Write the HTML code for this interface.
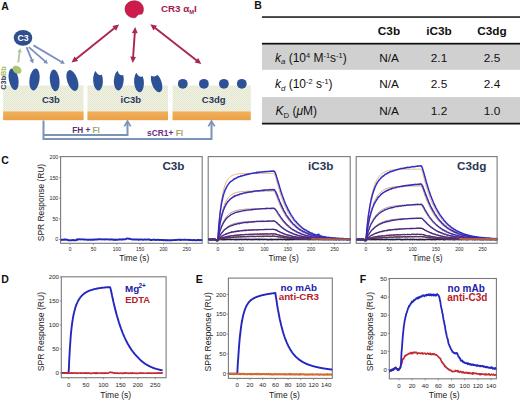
<!DOCTYPE html>
<html><head><meta charset="utf-8"><style>
html,body{margin:0;padding:0;background:#fff;}
svg{display:block;font-family:'Liberation Sans', sans-serif;}
</style></head><body>
<svg width="520" height="401" viewBox="0 0 520 401">
<rect width="520" height="401" fill="#fff"/>
<defs><pattern id="dots" width="2" height="2" patternUnits="userSpaceOnUse"><rect width="2" height="2" fill="#f5f3e3"/><rect width="1" height="1" fill="#e0e5cf"/><rect x="1" y="1" width="1" height="1" fill="#e0e5cf"/></pattern><linearGradient id="org" x1="0" y1="0" x2="0" y2="1"><stop offset="0" stop-color="#f3b05a"/><stop offset="1" stop-color="#eaa24a"/></linearGradient></defs>
<text x="1.2" y="9.8" font-size="10.5" fill="#111" font-weight="bold" text-anchor="start" >A</text>
<rect x="3.1" y="85.5" width="80.5" height="26" fill="url(#dots)"/>
<rect x="3.1" y="111.4" width="80.5" height="8.8" fill="url(#org)"/>
<rect x="87.4" y="85.5" width="80.6" height="26" fill="url(#dots)"/>
<rect x="87.4" y="111.4" width="80.6" height="8.8" fill="url(#org)"/>
<rect x="172.5" y="85.5" width="78.3" height="26" fill="url(#dots)"/>
<rect x="172.5" y="111.4" width="78.3" height="8.8" fill="url(#org)"/>
<ellipse cx="13.6" cy="79.2" rx="4.8" ry="10.9" transform="rotate(-10 13.6 79.2)" fill="#2d5196"/>
<ellipse cx="34.5" cy="79.5" rx="5.0" ry="11.0" transform="rotate(8 34.5 79.5)" fill="#2d5196"/>
<ellipse cx="54.7" cy="80.4" rx="4.8" ry="10.9" transform="rotate(-6 54.7 80.4)" fill="#2d5196"/>
<ellipse cx="72.4" cy="80.5" rx="5.2" ry="10.9" transform="rotate(-19 72.4 80.5)" fill="#2d5196"/>
<ellipse cx="17.0" cy="69.7" rx="4.9" ry="3.6" transform="rotate(35 17 69.7)" fill="#a9c66e"/>
<path d="M-2.00,-9.31 A4.9,10.2 0 1 0 4.12,-5.51 Q0.6,-3.6 -2.00,-9.31Z" transform="translate(98.0 80.3) rotate(-3)" fill="#2d5196"/>
<path d="M-2.00,-9.31 A4.9,10.2 0 1 0 4.12,-5.51 Q0.6,-3.6 -2.00,-9.31Z" transform="translate(118.8 80.2) rotate(4)" fill="#2d5196"/>
<path d="M-2.00,-9.31 A4.9,10.2 0 1 0 4.12,-5.51 Q0.6,-3.6 -2.00,-9.31Z" transform="translate(139.0 82.0) rotate(-4)" fill="#2d5196"/>
<path d="M-2.77,-8.42 A4.9,10.2 0 1 0 3.52,-7.11 Q0.2,-5.2 -2.77,-8.42Z" transform="translate(156.6 82.6) rotate(-20)" fill="#2d5196"/>
<circle cx="182.8" cy="83.8" r="4.9" fill="#2d5196"/>
<circle cx="203.9" cy="83.8" r="4.9" fill="#2d5196"/>
<circle cx="223.9" cy="83.8" r="4.9" fill="#2d5196"/>
<circle cx="241.8" cy="83.8" r="4.9" fill="#2d5196"/>
<text x="50.9" y="102.5" font-size="9.5" fill="#28385c" font-weight="bold" text-anchor="middle" >C3b</text>
<text x="130.8" y="102.5" font-size="9.5" fill="#28385c" font-weight="bold" text-anchor="middle" >iC3b</text>
<text x="213.7" y="102.5" font-size="9.5" fill="#28385c" font-weight="bold" text-anchor="middle" >C3dg</text>
<text transform="translate(6.4 89.7) rotate(-90)" font-size="7.3" font-weight="bold"><tspan fill="#28385c">C3b</tspan><tspan fill="#a9b860">Bb</tspan></text>
<ellipse cx="23" cy="37.8" rx="9.3" ry="7.9" fill="#2e4e8e"/>
<text x="23.1" y="41.2" font-size="8.7" fill="#fff" font-weight="bold" text-anchor="middle" >C3</text>
<line x1="18.30" y1="62.50" x2="19.70" y2="51.47" stroke="#b3c39c" stroke-width="1.8"/><polygon points="20.10,48.30 21.88,52.56 17.32,51.98" fill="#b3c39c"/>
<line x1="26.50" y1="47.10" x2="31.98" y2="60.44" stroke="#7d8ec2" stroke-width="1.8"/><polygon points="33.20,63.40 29.55,60.57 33.81,58.83" fill="#7d8ec2"/>
<line x1="28.80" y1="47.10" x2="45.49" y2="61.69" stroke="#7d8ec2" stroke-width="1.8"/><polygon points="47.90,63.80 43.37,62.90 46.40,59.44" fill="#7d8ec2"/>
<line x1="33.50" y1="45.40" x2="62.04" y2="62.18" stroke="#7d8ec2" stroke-width="1.8"/><polygon points="64.80,63.80 60.19,63.76 62.52,59.79" fill="#7d8ec2"/>
<path d="M135.7,17.6 C130,18.6 125,14.5 125.0,9.0 C125,4 129.5,0.7 134.5,0.8 C140,0.9 143.6,5 143.4,9.6 C143.3,11.8 142.6,13.4 141.7,14.3 C139.8,13.6 137.0,14.8 135.7,17.6Z" fill="#cc1b4c" stroke="#9a1238" stroke-width="0.6"/>
<text x="161" y="11.7" font-size="9.75" font-weight="bold" fill="#a1204c">CR3 α<tspan font-size="5.8" dy="2">M</tspan><tspan dy="-2">I</tspan></text>
<line x1="115.23" y1="27.60" x2="75.37" y2="59.50" stroke="#ad2452" stroke-width="1.9"/><polygon points="71.50,62.60 74.53,56.46 78.15,60.99" fill="#ad2452"/><polygon points="119.10,24.50 116.07,30.64 112.45,26.11" fill="#ad2452"/>
<line x1="134.86" y1="31.85" x2="133.04" y2="57.95" stroke="#ad2452" stroke-width="1.9"/><polygon points="132.70,62.90 130.24,56.51 136.02,56.92" fill="#ad2452"/><polygon points="135.20,26.90 137.66,33.29 131.88,32.88" fill="#ad2452"/>
<line x1="154.21" y1="27.35" x2="197.39" y2="60.95" stroke="#ad2452" stroke-width="1.9"/><polygon points="201.30,64.00 194.63,62.48 198.19,57.90" fill="#ad2452"/><polygon points="150.30,24.30 156.97,25.82 153.41,30.40" fill="#ad2452"/>
<polyline points="43.5,120.4 43.5,138.9 211.5,138.9 211.5,122" fill="none" stroke="#7b93b9" stroke-width="2"/>
<polyline points="43.5,134.9 127.5,134.9 127.5,122" fill="none" stroke="#7b93b9" stroke-width="2"/>
<polyline points="124.3,126.4 127.5,121.2 130.7,126.4" fill="none" stroke="#7b93b9" stroke-width="1.8"/>
<polyline points="208.3,126.4 211.5,121.2 214.7,126.4" fill="none" stroke="#7b93b9" stroke-width="1.8"/>
<text x="72.2" y="132.6" font-size="8.2" font-weight="bold"><tspan fill="#5e2b72">FH</tspan><tspan fill="#3d3479"> + </tspan><tspan fill="#a3a76b">FI</tspan></text>
<text x="147.0" y="136.4" font-size="8.4" font-weight="bold"><tspan fill="#6b2e80">sCR1+ </tspan><tspan fill="#a3a76b">FI</tspan></text>
<text x="254.2" y="9.2" font-size="10.5" fill="#111" font-weight="bold" text-anchor="start" >B</text>
<rect x="262" y="44.6" width="258" height="25.2" fill="#d0d0d0"/>
<rect x="262" y="97.1" width="258" height="25.6" fill="#d0d0d0"/>
<rect x="262" y="16.3" width="258" height="1.5" fill="#111"/>
<rect x="262" y="42.8" width="258" height="1.8" fill="#111"/>
<rect x="262" y="122.7" width="258" height="1.8" fill="#111"/>
<text x="389" y="35.4" font-size="11.8" fill="#111" font-weight="bold" text-anchor="middle" >C3b</text>
<text x="439" y="35.4" font-size="11.8" fill="#111" font-weight="bold" text-anchor="middle" >iC3b</text>
<text x="492" y="35.4" font-size="11.8" fill="#111" font-weight="bold" text-anchor="middle" >C3dg</text>
<text x="389" y="61.8" font-size="11.8" fill="#111" font-weight="normal" text-anchor="middle" >N/A</text>
<text x="439" y="61.8" font-size="11.8" fill="#111" font-weight="normal" text-anchor="middle" >2.1</text>
<text x="492" y="61.8" font-size="11.8" fill="#111" font-weight="normal" text-anchor="middle" >2.5</text>
<text x="389" y="88.3" font-size="11.8" fill="#111" font-weight="normal" text-anchor="middle" >N/A</text>
<text x="439" y="88.3" font-size="11.8" fill="#111" font-weight="normal" text-anchor="middle" >2.5</text>
<text x="492" y="88.3" font-size="11.8" fill="#111" font-weight="normal" text-anchor="middle" >2.4</text>
<text x="389" y="115" font-size="11.8" fill="#111" font-weight="normal" text-anchor="middle" >N/A</text>
<text x="439" y="115" font-size="11.8" fill="#111" font-weight="normal" text-anchor="middle" >1.2</text>
<text x="492" y="115" font-size="11.8" fill="#111" font-weight="normal" text-anchor="middle" >1.0</text>
<text x="275" y="61.8" font-size="12" fill="#111"><tspan font-style="italic">k</tspan><tspan font-style="italic" font-size="7.8" dy="2.6">a</tspan><tspan dy="-2.6"> (10</tspan><tspan font-size="7.4" dy="-4.2">4</tspan><tspan dy="4.2"> M</tspan><tspan font-size="7.4" dy="-4.2">-1</tspan><tspan dy="4.2">s</tspan><tspan font-size="7.4" dy="-4.2">-1</tspan><tspan dy="4.2">)</tspan></text>
<text x="275" y="88.3" font-size="12" fill="#111"><tspan font-style="italic">k</tspan><tspan font-style="italic" font-size="7.8" dy="2.6">d</tspan><tspan dy="-2.6"> (10</tspan><tspan font-size="7.4" dy="-4.2">-2</tspan><tspan dy="4.2"> s</tspan><tspan font-size="7.4" dy="-4.2">-1</tspan><tspan dy="4.2">)</tspan></text>
<text x="275.4" y="115" font-size="12" fill="#111"><tspan font-style="italic">K</tspan><tspan font-size="7.8" dy="2.6">D</tspan><tspan dy="-2.6"> (</tspan><tspan font-style="italic">μ</tspan><tspan>M)</tspan></text>
<text x="1.2" y="164.2" font-size="10.5" fill="#111" font-weight="bold" text-anchor="start" >C</text>
<clipPath id="c0"><rect x="60.6" y="156.6" width="141.6" height="86.70000000000002"/></clipPath>
<clipPath id="c1"><rect x="208.2" y="156.6" width="142.0" height="86.70000000000002"/></clipPath>
<clipPath id="c2"><rect x="356.2" y="156.6" width="140.90000000000003" height="86.70000000000002"/></clipPath>
<rect x="60.6" y="156.6" width="141.60" height="86.70" fill="none" stroke="#7a7a7a" stroke-width="1.1"/>
<line x1="70.10" y1="243.3" x2="70.10" y2="244.8" stroke="#7a7a7a" stroke-width="0.8"/>
<text x="70.10" y="250.90" font-size="4.9" fill="#1e1e1e" font-weight="normal" text-anchor="middle" >0</text>
<line x1="93.45" y1="243.3" x2="93.45" y2="244.8" stroke="#7a7a7a" stroke-width="0.8"/>
<text x="93.45" y="250.90" font-size="4.9" fill="#1e1e1e" font-weight="normal" text-anchor="middle" >50</text>
<line x1="116.80" y1="243.3" x2="116.80" y2="244.8" stroke="#7a7a7a" stroke-width="0.8"/>
<text x="116.80" y="250.90" font-size="4.9" fill="#1e1e1e" font-weight="normal" text-anchor="middle" >100</text>
<line x1="140.15" y1="243.3" x2="140.15" y2="244.8" stroke="#7a7a7a" stroke-width="0.8"/>
<text x="140.15" y="250.90" font-size="4.9" fill="#1e1e1e" font-weight="normal" text-anchor="middle" >150</text>
<line x1="163.50" y1="243.3" x2="163.50" y2="244.8" stroke="#7a7a7a" stroke-width="0.8"/>
<text x="163.50" y="250.90" font-size="4.9" fill="#1e1e1e" font-weight="normal" text-anchor="middle" >200</text>
<line x1="186.85" y1="243.3" x2="186.85" y2="244.8" stroke="#7a7a7a" stroke-width="0.8"/>
<text x="186.85" y="250.90" font-size="4.9" fill="#1e1e1e" font-weight="normal" text-anchor="middle" >250</text>
<line x1="59.1" y1="239.50" x2="60.6" y2="239.50" stroke="#7a7a7a" stroke-width="0.8"/>
<text x="58.30" y="241.41" font-size="5.3" fill="#1e1e1e" font-weight="normal" text-anchor="end" >0</text>
<line x1="59.1" y1="218.88" x2="60.6" y2="218.88" stroke="#7a7a7a" stroke-width="0.8"/>
<text x="58.30" y="220.78" font-size="5.3" fill="#1e1e1e" font-weight="normal" text-anchor="end" >50</text>
<line x1="59.1" y1="198.25" x2="60.6" y2="198.25" stroke="#7a7a7a" stroke-width="0.8"/>
<text x="58.30" y="200.16" font-size="5.3" fill="#1e1e1e" font-weight="normal" text-anchor="end" >100</text>
<line x1="59.1" y1="177.62" x2="60.6" y2="177.62" stroke="#7a7a7a" stroke-width="0.8"/>
<text x="58.30" y="179.53" font-size="5.3" fill="#1e1e1e" font-weight="normal" text-anchor="end" >150</text>
<line x1="59.1" y1="157.00" x2="60.6" y2="157.00" stroke="#7a7a7a" stroke-width="0.8"/>
<text x="58.30" y="158.91" font-size="5.3" fill="#1e1e1e" font-weight="normal" text-anchor="end" >200</text>
<text x="134.2" y="261.3" font-size="8.3" fill="#222" font-weight="normal" text-anchor="middle" >Time (s)</text>
<rect x="208.2" y="156.6" width="142.00" height="86.70" fill="none" stroke="#7a7a7a" stroke-width="1.1"/>
<line x1="217.80" y1="243.3" x2="217.80" y2="244.8" stroke="#7a7a7a" stroke-width="0.8"/>
<text x="217.80" y="250.90" font-size="4.9" fill="#1e1e1e" font-weight="normal" text-anchor="middle" >0</text>
<line x1="241.15" y1="243.3" x2="241.15" y2="244.8" stroke="#7a7a7a" stroke-width="0.8"/>
<text x="241.15" y="250.90" font-size="4.9" fill="#1e1e1e" font-weight="normal" text-anchor="middle" >50</text>
<line x1="264.50" y1="243.3" x2="264.50" y2="244.8" stroke="#7a7a7a" stroke-width="0.8"/>
<text x="264.50" y="250.90" font-size="4.9" fill="#1e1e1e" font-weight="normal" text-anchor="middle" >100</text>
<line x1="287.85" y1="243.3" x2="287.85" y2="244.8" stroke="#7a7a7a" stroke-width="0.8"/>
<text x="287.85" y="250.90" font-size="4.9" fill="#1e1e1e" font-weight="normal" text-anchor="middle" >150</text>
<line x1="311.20" y1="243.3" x2="311.20" y2="244.8" stroke="#7a7a7a" stroke-width="0.8"/>
<text x="311.20" y="250.90" font-size="4.9" fill="#1e1e1e" font-weight="normal" text-anchor="middle" >200</text>
<line x1="334.55" y1="243.3" x2="334.55" y2="244.8" stroke="#7a7a7a" stroke-width="0.8"/>
<text x="334.55" y="250.90" font-size="4.9" fill="#1e1e1e" font-weight="normal" text-anchor="middle" >250</text>
<text x="283.6" y="261.3" font-size="8.3" fill="#222" font-weight="normal" text-anchor="middle" >Time (s)</text>
<rect x="356.2" y="156.6" width="140.90" height="86.70" fill="none" stroke="#7a7a7a" stroke-width="1.1"/>
<line x1="365.90" y1="243.3" x2="365.90" y2="244.8" stroke="#7a7a7a" stroke-width="0.8"/>
<text x="365.90" y="250.90" font-size="4.9" fill="#1e1e1e" font-weight="normal" text-anchor="middle" >0</text>
<line x1="389.25" y1="243.3" x2="389.25" y2="244.8" stroke="#7a7a7a" stroke-width="0.8"/>
<text x="389.25" y="250.90" font-size="4.9" fill="#1e1e1e" font-weight="normal" text-anchor="middle" >50</text>
<line x1="412.60" y1="243.3" x2="412.60" y2="244.8" stroke="#7a7a7a" stroke-width="0.8"/>
<text x="412.60" y="250.90" font-size="4.9" fill="#1e1e1e" font-weight="normal" text-anchor="middle" >100</text>
<line x1="435.95" y1="243.3" x2="435.95" y2="244.8" stroke="#7a7a7a" stroke-width="0.8"/>
<text x="435.95" y="250.90" font-size="4.9" fill="#1e1e1e" font-weight="normal" text-anchor="middle" >150</text>
<line x1="459.30" y1="243.3" x2="459.30" y2="244.8" stroke="#7a7a7a" stroke-width="0.8"/>
<text x="459.30" y="250.90" font-size="4.9" fill="#1e1e1e" font-weight="normal" text-anchor="middle" >200</text>
<line x1="482.65" y1="243.3" x2="482.65" y2="244.8" stroke="#7a7a7a" stroke-width="0.8"/>
<text x="482.65" y="250.90" font-size="4.9" fill="#1e1e1e" font-weight="normal" text-anchor="middle" >250</text>
<text x="427.5" y="261.3" font-size="8.3" fill="#222" font-weight="normal" text-anchor="middle" >Time (s)</text>
<text transform="translate(43.9 202.5) rotate(-90)" font-size="8.4" fill="#222" text-anchor="middle">SPR Response (RU)</text>
<text x="184.5" y="170.3" font-size="11.7" fill="#2a3656" font-weight="bold" text-anchor="end" >C3b</text>
<text x="333.3" y="170.3" font-size="11.7" fill="#2a3656" font-weight="bold" text-anchor="end" >iC3b</text>
<text x="486.3" y="170.3" font-size="11.7" fill="#2a3656" font-weight="bold" text-anchor="end" >C3dg</text>
<path d="M60.8,239.4 L61.2,239.9 L61.7,239.6 L62.2,239.7 L62.6,239.7 L63.1,239.7 L63.6,239.9 L64.0,239.7 L64.5,239.7 L65.0,239.3 L65.4,239.6 L65.9,239.7 L66.4,239.7 L66.8,239.7 L67.3,239.7 L67.8,239.6 L68.2,240.3 L68.7,240.4 L69.2,240.3 L69.6,240.4 L70.1,240.3 L70.6,240.1 L71.0,240.2 L71.5,240.3 L72.0,240.3 L72.4,240.2 L72.9,240.0 L73.4,240.2 L73.8,240.2 L74.3,240.1 L74.8,240.3 L75.2,240.2 L75.7,240.1 L76.2,240.1 L76.6,240.2 L77.1,239.3 L77.6,239.6 L78.0,239.2 L78.5,239.4 L79.0,239.5 L79.4,239.3 L79.9,239.3 L80.4,239.4 L80.8,239.5 L81.3,239.4 L81.8,239.4 L82.2,239.3 L82.7,239.4 L83.2,239.5 L83.6,239.4 L84.1,239.6 L84.6,239.6 L85.0,239.5 L85.5,239.5 L86.0,239.6 L86.4,239.7 L86.9,239.6 L87.4,239.9 L87.8,239.6 L88.3,239.6 L88.8,239.8 L89.2,239.7 L89.7,239.8 L90.2,239.6 L90.6,239.9 L91.1,239.8 L91.6,239.6 L92.0,239.5 L92.5,239.9 L93.0,239.7 L93.4,239.6 L93.9,239.7 L94.4,239.4 L94.9,239.7 L95.3,239.5 L95.8,239.6 L96.3,239.4 L96.7,239.5 L97.2,239.5 L97.7,239.6 L98.1,239.3 L98.6,239.3 L99.1,239.3 L99.5,239.3 L100.0,239.3 L100.5,239.4 L100.9,239.4 L101.4,239.4 L101.9,239.2 L102.3,239.5 L102.8,239.4 L103.3,239.4 L103.7,239.3 L104.2,239.3 L104.7,239.5 L105.1,239.5 L105.6,239.4 L106.1,239.2 L106.5,239.3 L107.0,239.4 L107.5,239.4 L107.9,239.4 L108.4,239.5 L108.9,239.4 L109.3,239.6 L109.8,239.5 L110.3,239.5 L110.7,239.5 L111.2,239.5 L111.7,239.3 L112.1,239.4 L112.6,239.5 L113.1,239.8 L113.5,239.7 L114.0,239.7 L114.5,239.6 L114.9,239.9 L115.4,239.5 L115.9,239.6 L116.3,239.8 L116.8,239.8 L117.3,239.7 L117.7,239.7 L118.2,239.6 L118.7,239.4 L119.1,239.6 L119.6,239.5 L120.1,239.6 L120.5,239.4 L121.0,239.5 L121.5,239.4 L121.9,239.6 L122.4,239.5 L122.9,239.6 L123.3,239.3 L123.8,239.4 L124.3,239.4 L124.7,239.4 L125.2,239.2 L125.7,239.2 L126.1,239.0 L126.6,238.7 L127.1,238.4 L127.5,238.6 L128.0,238.6 L128.5,238.7 L128.9,238.8 L129.4,238.7 L129.9,238.8 L130.3,239.0 L130.8,239.1 L131.3,239.2 L131.7,239.3 L132.2,239.5 L132.7,239.4 L133.1,239.4 L133.6,239.5 L134.1,239.5 L134.5,239.5 L135.0,239.5 L135.5,239.4 L135.9,239.5 L136.4,239.5 L136.9,239.4 L137.3,239.5 L137.8,239.4 L138.3,239.8 L138.7,239.5 L139.2,239.7 L139.7,239.6 L140.1,239.5 L140.6,239.5 L141.1,239.5 L141.6,239.6 L142.0,239.5 L142.5,239.7 L143.0,239.7 L143.4,239.6 L143.9,239.7 L144.4,239.4 L144.8,239.5 L145.3,239.4 L145.8,239.6 L146.2,239.7 L146.7,239.6 L147.2,239.5 L147.6,239.6 L148.1,239.5 L148.6,239.5 L149.0,239.3 L149.5,239.6 L150.0,239.9 L150.4,240.0 L150.9,240.0 L151.4,240.0 L151.8,240.0 L152.3,239.9 L152.8,239.8 L153.2,239.8 L153.7,239.8 L154.2,239.7 L154.6,239.8 L155.1,239.8 L155.6,239.9 L156.0,240.0 L156.5,239.8 L157.0,240.0 L157.4,239.8 L157.9,239.8 L158.4,239.7 L158.8,239.9 L159.3,240.0 L159.8,239.9 L160.2,240.0 L160.7,239.9 L161.2,239.9 L161.6,240.0 L162.1,240.0 L162.6,240.1 L163.0,240.0 L163.5,240.3 L164.0,240.1 L164.4,240.2 L164.9,240.0 L165.4,240.0 L165.8,240.3 L166.3,240.1 L166.8,240.1 L167.2,240.3 L167.7,240.1 L168.2,240.2 L168.6,240.3 L169.1,240.2 L169.6,240.2 L170.0,240.1 L170.5,240.3 L171.0,240.1 L171.4,240.1 L171.9,240.2 L172.4,240.2 L172.8,240.1 L173.3,240.1 L173.8,239.9 L174.2,240.0 L174.7,240.1 L175.2,240.1 L175.6,240.0 L176.1,239.7 L176.6,240.0 L177.0,239.9 L177.5,239.9 L178.0,239.9 L178.4,239.7 L178.9,239.9 L179.4,239.8 L179.8,239.8 L180.3,239.8 L180.8,240.0 L181.2,239.7 L181.7,239.8 L182.2,239.8 L182.6,239.9 L183.1,239.9 L183.6,239.8 L184.0,239.7 L184.5,239.8 L185.0,239.7 L185.4,239.8 L185.9,239.9 L186.4,239.8 L186.8,239.9 L187.3,239.9 L187.8,239.9 L188.3,239.8 L188.7,240.0 L189.2,240.0 L189.7,239.9 L190.1,239.8 L190.6,240.1 L191.1,240.1 L191.5,240.1 L192.0,240.0 L192.5,240.3 L192.9,240.1 L193.4,240.0 L193.9,240.2 L194.3,240.0 L194.8,240.1 L195.3,240.2 L195.7,240.1 L196.2,240.3 L196.7,240.2 L197.1,240.0 L197.6,240.2 L198.1,239.9 L198.5,240.1 L199.0,240.0 L199.5,240.1 L199.9,240.3 L200.4,240.1 L200.9,240.0 L201.3,240.1 L201.8,240.1 L202.3,240.0 L202.7,240.0 L203.2,240.1" fill="none" stroke="#1f27b8" stroke-width="1.9" stroke-linejoin="round" opacity="1" clip-path="url(#c0)"/>
<path d="M208.5,239.6 L208.9,239.4 L209.4,239.5 L209.9,239.4 L210.3,239.3 L210.8,239.5 L211.3,239.6 L211.7,239.6 L212.2,239.5 L212.7,239.4 L213.1,239.5 L213.6,239.4 L214.1,239.5 L214.5,239.5 L215.0,239.5 L215.5,239.5 L215.9,239.6 L216.4,240.5 L216.9,240.4 L217.3,240.4 L217.8,240.4 L218.3,240.3 L218.7,239.5 L219.2,239.2 L219.7,239.4 L220.1,239.6 L220.6,239.4 L221.1,239.5 L221.5,239.6 L222.0,239.4 L222.5,239.6 L222.9,239.8 L223.4,239.4 L223.9,239.6 L224.3,239.3 L224.8,239.6 L225.3,239.6 L225.7,239.3 L226.2,239.6 L226.7,239.5 L227.1,239.4 L227.6,239.5 L228.1,239.5 L228.5,239.5 L229.0,239.4 L229.5,239.6 L229.9,239.4 L230.4,239.4 L230.9,239.3 L231.3,239.5 L231.8,239.6 L232.3,239.4 L232.7,239.5 L233.2,239.5 L233.7,239.5 L234.1,239.4 L234.6,239.6 L235.1,239.5 L235.5,239.8 L236.0,239.6 L236.5,239.3 L236.9,239.6 L237.4,239.6 L237.9,239.6 L238.3,239.4 L238.8,239.5 L239.3,239.6 L239.7,239.4 L240.2,239.5 L240.7,239.4 L241.2,239.6 L241.6,239.3 L242.1,239.5 L242.6,239.5 L243.0,239.6 L243.5,239.5 L244.0,239.4 L244.4,239.5 L244.9,239.4 L245.4,239.4 L245.8,239.4 L246.3,239.4 L246.8,239.5 L247.2,239.7 L247.7,239.5 L248.2,239.4 L248.6,239.5 L249.1,239.4 L249.6,239.5 L250.0,239.5 L250.5,239.6 L251.0,239.4 L251.4,239.5 L251.9,239.6 L252.4,239.6 L252.8,239.5 L253.3,239.4 L253.8,239.5 L254.2,239.6 L254.7,239.4 L255.2,239.4 L255.6,239.4 L256.1,239.4 L256.6,239.4 L257.0,239.4 L257.5,239.4 L258.0,239.6 L258.4,239.3 L258.9,239.5 L259.4,239.3 L259.8,239.7 L260.3,239.4 L260.8,239.4 L261.2,239.5 L261.7,239.5 L262.2,239.4 L262.6,239.4 L263.1,239.6 L263.6,239.5 L264.0,239.4 L264.5,239.4 L265.0,239.5 L265.4,239.5 L265.9,239.5 L266.4,239.4 L266.8,239.6 L267.3,239.6 L267.8,239.5 L268.2,239.6 L268.7,239.6 L269.2,239.5 L269.6,239.5 L270.1,239.6 L270.6,239.4 L271.0,239.7 L271.5,239.4 L272.0,239.7 L272.4,239.6 L272.9,239.4 L273.4,239.5 L273.8,239.6 L274.3,239.5 L274.8,239.5 L275.2,239.5 L275.7,239.5 L276.2,239.4 L276.6,239.6 L277.1,239.5 L277.6,239.6 L278.0,239.4 L278.5,239.4 L279.0,239.4 L279.4,239.5 L279.9,239.5 L280.4,239.4 L280.8,239.5 L281.3,239.4 L281.8,239.4 L282.2,239.6 L282.7,239.5 L283.2,239.5 L283.6,239.3 L284.1,239.2 L284.6,239.5 L285.0,239.5 L285.5,239.7 L286.0,239.5 L286.4,239.5 L286.9,239.6 L287.4,239.4 L287.9,239.7 L288.3,239.5 L288.8,239.5 L289.3,239.6 L289.7,239.4 L290.2,239.4 L290.7,239.6 L291.1,239.6 L291.6,239.4 L292.1,239.5 L292.5,239.6 L293.0,239.5 L293.5,239.5 L293.9,239.5 L294.4,239.4 L294.9,239.5 L295.3,239.3 L295.8,239.4 L296.3,239.4 L296.7,239.4 L297.2,239.4 L297.7,239.4 L298.1,239.6 L298.6,239.4 L299.1,239.5 L299.5,239.3 L300.0,239.5 L300.5,239.4 L300.9,239.5 L301.4,239.3 L301.9,239.5 L302.3,239.5 L302.8,239.5 L303.3,239.5 L303.7,239.5 L304.2,239.5 L304.7,239.5 L305.1,239.3 L305.6,239.5 L306.1,239.5 L306.5,239.5 L307.0,239.4 L307.5,239.6 L307.9,239.6 L308.4,239.5 L308.9,239.4 L309.3,239.5 L309.8,239.6 L310.3,239.6 L310.7,239.4 L311.2,239.4 L311.7,239.5 L312.1,239.5 L312.6,239.5 L313.1,239.6 L313.5,239.5 L314.0,239.5 L314.5,239.5 L314.9,239.5 L315.4,239.6 L315.9,239.4 L316.3,239.3 L316.8,239.5 L317.3,239.5 L317.7,239.5 L318.2,239.4 L318.7,239.7 L319.1,239.3 L319.6,239.5 L320.1,239.4 L320.5,239.5 L321.0,239.5 L321.5,239.5 L321.9,239.4 L322.4,239.6 L322.9,239.5 L323.3,239.5 L323.8,239.7 L324.3,239.4 L324.7,239.4 L325.2,239.5 L325.7,239.4 L326.1,239.6 L326.6,239.5 L327.1,239.3 L327.5,239.4 L328.0,239.7 L328.5,239.8 L328.9,239.6 L329.4,239.4 L329.9,239.5 L330.3,239.5 L330.8,239.4 L331.3,239.6 L331.7,239.5 L332.2,239.4 L332.7,239.5 L333.1,239.5 L333.6,239.6 L334.1,239.4 L334.6,239.5 L335.0,239.4 L335.5,239.2 L336.0,239.6 L336.4,239.7 L336.9,239.5 L337.4,239.5 L337.8,239.4 L338.3,239.4 L338.8,239.6 L339.2,239.6 L339.7,239.4 L340.2,239.6 L340.6,239.4 L341.1,239.5 L341.6,239.4 L342.0,239.4 L342.5,239.4 L343.0,239.4 L343.4,239.6 L343.9,239.5 L344.4,239.5 L344.8,239.5 L345.3,239.4 L345.8,239.5 L346.2,239.6 L346.7,239.6 L347.2,239.5 L347.6,239.4 L348.1,239.6 L348.6,239.4 L349.0,239.5 L349.5,239.5 L350.0,239.6 L350.4,239.5 L350.9,239.4" fill="none" stroke="#1c1c40" stroke-width="1.6" stroke-linejoin="round" opacity="1" clip-path="url(#c1)"/>
<path d="M208.5,239.5 L208.9,239.5 L209.4,239.5 L209.9,239.5 L210.3,239.5 L210.8,239.5 L211.3,239.5 L211.7,239.5 L212.2,239.5 L212.7,239.5 L213.1,239.5 L213.6,239.5 L214.1,239.5 L214.5,239.5 L215.0,239.5 L215.5,239.5 L215.9,239.5 L216.4,239.5 L216.9,239.5 L217.3,239.5 L217.8,239.5 L218.3,232.5 L218.7,226.2 L219.2,220.6 L219.7,215.6 L220.1,211.2 L220.6,207.2 L221.1,203.6 L221.5,200.4 L222.0,197.5 L222.5,195.0 L222.9,192.7 L223.4,190.7 L223.9,188.8 L224.3,187.2 L224.8,185.7 L225.3,184.4 L225.7,183.3 L226.2,182.2 L226.7,181.3 L227.1,180.5 L227.6,179.7 L228.1,179.0 L228.5,178.4 L229.0,177.9 L229.5,177.4 L229.9,177.0 L230.4,176.6 L230.9,176.3 L231.3,176.0 L231.8,175.7 L232.3,175.5 L232.7,175.3 L233.2,175.1 L233.7,174.9 L234.1,174.7 L234.6,174.6 L235.1,174.5 L235.5,174.4 L236.0,174.3 L236.5,174.2 L236.9,174.1 L237.4,174.0 L237.9,174.0 L238.3,173.9 L238.8,173.8 L239.3,173.8 L239.7,173.8 L240.2,173.7 L240.7,173.7 L241.2,173.7 L241.6,173.6 L242.1,173.6 L242.6,173.6 L243.0,173.6 L243.5,173.6 L244.0,173.5 L244.4,173.5 L244.9,173.5 L245.4,173.5 L245.8,173.5 L246.3,173.5 L246.8,173.5 L247.2,173.5 L247.7,173.5 L248.2,173.5 L248.6,173.5 L249.1,173.5 L249.6,173.5 L250.0,173.5 L250.5,173.4 L251.0,173.4 L251.4,173.4 L251.9,173.4 L252.4,173.4 L252.8,173.4 L253.3,173.4 L253.8,173.4 L254.2,173.4 L254.7,173.4 L255.2,173.4 L255.6,173.4 L256.1,173.4 L256.6,173.4 L257.0,173.4 L257.5,173.4 L258.0,173.4 L258.4,173.4 L258.9,173.4 L259.4,173.4 L259.8,173.4 L260.3,173.4 L260.8,173.4 L261.2,173.4 L261.7,173.4 L262.2,173.4 L262.6,173.4 L263.1,173.4 L263.6,173.4 L264.0,173.4 L264.5,173.4 L265.0,173.4 L265.4,173.4 L265.9,173.4 L266.4,173.4 L266.8,173.4 L267.3,173.4 L267.8,173.4 L268.2,173.4 L268.7,173.4 L269.2,173.4 L269.6,173.4 L270.1,173.4 L270.6,173.4 L271.0,173.4 L271.5,173.4 L272.0,173.4 L272.4,173.4 L272.9,173.4 L273.4,173.4 L273.8,173.4 L274.3,173.8 L274.8,174.8 L275.2,176.1 L275.7,177.6 L276.2,179.2 L276.6,180.9 L277.1,182.6 L277.6,184.3 L278.0,186.0 L278.5,187.6 L279.0,189.2 L279.4,190.7 L279.9,192.3 L280.4,193.7 L280.8,195.1 L281.3,196.5 L281.8,197.9 L282.2,199.2 L282.7,200.4 L283.2,201.6 L283.6,202.8 L284.1,203.9 L284.6,205.1 L285.0,206.1 L285.5,207.2 L286.0,208.2 L286.4,209.1 L286.9,210.1 L287.4,211.0 L287.9,211.9 L288.3,212.8 L288.8,213.6 L289.3,214.4 L289.7,215.2 L290.2,215.9 L290.7,216.7 L291.1,217.4 L291.6,218.1 L292.1,218.7 L292.5,219.4 L293.0,220.0 L293.5,220.6 L293.9,221.2 L294.4,221.8 L294.9,222.3 L295.3,222.9 L295.8,223.4 L296.3,223.9 L296.7,224.4 L297.2,224.8 L297.7,225.3 L298.1,225.7 L298.6,226.2 L299.1,226.6 L299.5,227.0 L300.0,227.4 L300.5,227.7 L300.9,228.1 L301.4,228.5 L301.9,228.8 L302.3,229.1 L302.8,229.5 L303.3,229.8 L303.7,230.1 L304.2,230.4 L304.7,230.7 L305.1,230.9 L305.6,231.2 L306.1,231.5 L306.5,231.7 L307.0,231.9 L307.5,232.2 L307.9,232.4 L308.4,232.6 L308.9,232.8 L309.3,233.1 L309.8,233.3 L310.3,233.4 L310.7,233.6 L311.2,233.8 L311.7,234.0 L312.1,234.2 L312.6,234.3 L313.1,234.5 L313.5,234.6 L314.0,234.8 L314.5,234.9 L314.9,235.1 L315.4,235.2 L315.9,235.4 L316.3,235.5 L316.8,235.6 L317.3,235.7 L317.7,235.9 L318.2,236.0 L318.7,236.1 L319.1,236.2 L319.6,236.3 L320.1,236.4 L320.5,236.5 L321.0,236.6 L321.5,236.7 L321.9,236.8 L322.4,236.8 L322.9,236.9 L323.3,237.0 L323.8,237.1 L324.3,237.2 L324.7,237.2 L325.2,237.3 L325.7,237.4 L326.1,237.4 L326.6,237.5 L327.1,237.6 L327.5,237.6 L328.0,237.7 L328.5,237.7 L328.9,237.8 L329.4,237.8 L329.9,237.9 L330.3,237.9 L330.8,238.0 L331.3,238.0 L331.7,238.1 L332.2,238.1 L332.7,238.2 L333.1,238.2 L333.6,238.3 L334.1,238.3 L334.6,238.3 L335.0,238.4 L335.5,238.4 L336.0,238.4 L336.4,238.5 L336.9,238.5 L337.4,238.5 L337.8,238.6 L338.3,238.6 L338.8,238.6 L339.2,238.6 L339.7,238.7 L340.2,238.7 L340.6,238.7 L341.1,238.7 L341.6,238.8 L342.0,238.8 L342.5,238.8 L343.0,238.8 L343.4,238.9 L343.9,238.9 L344.4,238.9 L344.8,238.9 L345.3,238.9 L345.8,239.0 L346.2,239.0 L346.7,239.0 L347.2,239.0 L347.6,239.0 L348.1,239.0 L348.6,239.0 L349.0,239.1 L349.5,239.1 L350.0,239.1 L350.4,239.1 L350.9,239.1" fill="none" stroke="#e3a85a" stroke-width="0.9" stroke-linejoin="round" opacity="1" clip-path="url(#c1)"/>
<path d="M208.5,239.5 L208.9,239.5 L209.4,239.5 L209.9,239.5 L210.3,239.5 L210.8,239.5 L211.3,239.5 L211.7,239.5 L212.2,239.5 L212.7,239.5 L213.1,239.5 L213.6,239.5 L214.1,239.5 L214.5,239.5 L215.0,239.5 L215.5,239.5 L215.9,239.5 L216.4,239.5 L216.9,239.5 L217.3,239.5 L217.8,239.5 L218.3,235.4 L218.7,231.7 L219.2,228.3 L219.7,225.1 L220.1,222.3 L220.6,219.6 L221.1,217.2 L221.5,215.0 L222.0,213.0 L222.5,211.2 L222.9,209.5 L223.4,207.9 L223.9,206.5 L224.3,205.2 L224.8,204.0 L225.3,202.9 L225.7,201.9 L226.2,201.0 L226.7,200.2 L227.1,199.4 L227.6,198.7 L228.1,198.1 L228.5,197.5 L229.0,196.9 L229.5,196.4 L229.9,196.0 L230.4,195.6 L230.9,195.2 L231.3,194.9 L231.8,194.5 L232.3,194.2 L232.7,194.0 L233.2,193.7 L233.7,193.5 L234.1,193.3 L234.6,193.1 L235.1,193.0 L235.5,192.8 L236.0,192.6 L236.5,192.5 L236.9,192.4 L237.4,192.3 L237.9,192.2 L238.3,192.1 L238.8,192.0 L239.3,191.9 L239.7,191.9 L240.2,191.8 L240.7,191.7 L241.2,191.7 L241.6,191.6 L242.1,191.6 L242.6,191.5 L243.0,191.5 L243.5,191.5 L244.0,191.4 L244.4,191.4 L244.9,191.4 L245.4,191.4 L245.8,191.3 L246.3,191.3 L246.8,191.3 L247.2,191.3 L247.7,191.3 L248.2,191.2 L248.6,191.2 L249.1,191.2 L249.6,191.2 L250.0,191.2 L250.5,191.2 L251.0,191.2 L251.4,191.2 L251.9,191.2 L252.4,191.2 L252.8,191.2 L253.3,191.1 L253.8,191.1 L254.2,191.1 L254.7,191.1 L255.2,191.1 L255.6,191.1 L256.1,191.1 L256.6,191.1 L257.0,191.1 L257.5,191.1 L258.0,191.1 L258.4,191.1 L258.9,191.1 L259.4,191.1 L259.8,191.1 L260.3,191.1 L260.8,191.1 L261.2,191.1 L261.7,191.1 L262.2,191.1 L262.6,191.1 L263.1,191.1 L263.6,191.1 L264.0,191.1 L264.5,191.1 L265.0,191.1 L265.4,191.1 L265.9,191.1 L266.4,191.1 L266.8,191.1 L267.3,191.1 L267.8,191.1 L268.2,191.1 L268.7,191.1 L269.2,191.1 L269.6,191.1 L270.1,191.1 L270.6,191.1 L271.0,191.1 L271.5,191.1 L272.0,191.1 L272.4,191.1 L272.9,191.1 L273.4,191.1 L273.8,191.1 L274.3,191.4 L274.8,192.1 L275.2,193.0 L275.7,194.1 L276.2,195.3 L276.6,196.6 L277.1,197.8 L277.6,199.1 L278.0,200.3 L278.5,201.5 L279.0,202.6 L279.4,203.8 L279.9,204.9 L280.4,206.0 L280.8,207.0 L281.3,208.0 L281.8,209.0 L282.2,209.9 L282.7,210.9 L283.2,211.7 L283.6,212.6 L284.1,213.4 L284.6,214.3 L285.0,215.0 L285.5,215.8 L286.0,216.5 L286.4,217.3 L286.9,218.0 L287.4,218.6 L287.9,219.3 L288.3,219.9 L288.8,220.5 L289.3,221.1 L289.7,221.7 L290.2,222.2 L290.7,222.8 L291.1,223.3 L291.6,223.8 L292.1,224.3 L292.5,224.8 L293.0,225.2 L293.5,225.7 L293.9,226.1 L294.4,226.5 L294.9,226.9 L295.3,227.3 L295.8,227.7 L296.3,228.1 L296.7,228.4 L297.2,228.8 L297.7,229.1 L298.1,229.4 L298.6,229.7 L299.1,230.0 L299.5,230.3 L300.0,230.6 L300.5,230.9 L300.9,231.2 L301.4,231.4 L301.9,231.7 L302.3,231.9 L302.8,232.1 L303.3,232.4 L303.7,232.6 L304.2,232.8 L304.7,233.0 L305.1,233.2 L305.6,233.4 L306.1,233.6 L306.5,233.8 L307.0,234.0 L307.5,234.1 L307.9,234.3 L308.4,234.5 L308.9,234.6 L309.3,234.8 L309.8,234.9 L310.3,235.1 L310.7,235.2 L311.2,235.3 L311.7,235.5 L312.1,235.6 L312.6,235.7 L313.1,235.8 L313.5,235.9 L314.0,236.1 L314.5,236.2 L314.9,236.3 L315.4,236.4 L315.9,236.5 L316.3,236.6 L316.8,236.7 L317.3,236.7 L317.7,236.8 L318.2,236.9 L318.7,237.0 L319.1,237.1 L319.6,237.1 L320.1,237.2 L320.5,237.3 L321.0,237.4 L321.5,237.4 L321.9,237.5 L322.4,237.6 L322.9,237.6 L323.3,237.7 L323.8,237.7 L324.3,237.8 L324.7,237.8 L325.2,237.9 L325.7,237.9 L326.1,238.0 L326.6,238.0 L327.1,238.1 L327.5,238.1 L328.0,238.2 L328.5,238.2 L328.9,238.2 L329.4,238.3 L329.9,238.3 L330.3,238.4 L330.8,238.4 L331.3,238.4 L331.7,238.5 L332.2,238.5 L332.7,238.5 L333.1,238.6 L333.6,238.6 L334.1,238.6 L334.6,238.6 L335.0,238.7 L335.5,238.7 L336.0,238.7 L336.4,238.7 L336.9,238.8 L337.4,238.8 L337.8,238.8 L338.3,238.8 L338.8,238.9 L339.2,238.9 L339.7,238.9 L340.2,238.9 L340.6,238.9 L341.1,238.9 L341.6,239.0 L342.0,239.0 L342.5,239.0 L343.0,239.0 L343.4,239.0 L343.9,239.0 L344.4,239.1 L344.8,239.1 L345.3,239.1 L345.8,239.1 L346.2,239.1 L346.7,239.1 L347.2,239.1 L347.6,239.1 L348.1,239.2 L348.6,239.2 L349.0,239.2 L349.5,239.2 L350.0,239.2 L350.4,239.2 L350.9,239.2" fill="none" stroke="#c89a6a" stroke-width="0.9" stroke-linejoin="round" opacity="1" clip-path="url(#c1)"/>
<path d="M208.5,239.5 L208.9,239.5 L209.4,239.5 L209.9,239.5 L210.3,239.5 L210.8,239.5 L211.3,239.5 L211.7,239.5 L212.2,239.5 L212.7,239.5 L213.1,239.5 L213.6,239.5 L214.1,239.5 L214.5,239.5 L215.0,239.5 L215.5,239.5 L215.9,239.5 L216.4,239.5 L216.9,239.5 L217.3,239.5 L217.8,239.5 L218.3,237.4 L218.7,235.4 L219.2,233.5 L219.7,231.8 L220.1,230.2 L220.6,228.7 L221.1,227.3 L221.5,226.0 L222.0,224.8 L222.5,223.7 L222.9,222.7 L223.4,221.7 L223.9,220.8 L224.3,220.0 L224.8,219.2 L225.3,218.5 L225.7,217.8 L226.2,217.2 L226.7,216.6 L227.1,216.1 L227.6,215.6 L228.1,215.1 L228.5,214.6 L229.0,214.2 L229.5,213.9 L229.9,213.5 L230.4,213.2 L230.9,212.9 L231.3,212.6 L231.8,212.3 L232.3,212.1 L232.7,211.8 L233.2,211.6 L233.7,211.4 L234.1,211.2 L234.6,211.1 L235.1,210.9 L235.5,210.8 L236.0,210.6 L236.5,210.5 L236.9,210.4 L237.4,210.3 L237.9,210.2 L238.3,210.1 L238.8,210.0 L239.3,209.9 L239.7,209.8 L240.2,209.7 L240.7,209.7 L241.2,209.6 L241.6,209.6 L242.1,209.5 L242.6,209.5 L243.0,209.4 L243.5,209.4 L244.0,209.3 L244.4,209.3 L244.9,209.2 L245.4,209.2 L245.8,209.2 L246.3,209.2 L246.8,209.1 L247.2,209.1 L247.7,209.1 L248.2,209.1 L248.6,209.0 L249.1,209.0 L249.6,209.0 L250.0,209.0 L250.5,209.0 L251.0,209.0 L251.4,208.9 L251.9,208.9 L252.4,208.9 L252.8,208.9 L253.3,208.9 L253.8,208.9 L254.2,208.9 L254.7,208.9 L255.2,208.9 L255.6,208.9 L256.1,208.9 L256.6,208.9 L257.0,208.8 L257.5,208.8 L258.0,208.8 L258.4,208.8 L258.9,208.8 L259.4,208.8 L259.8,208.8 L260.3,208.8 L260.8,208.8 L261.2,208.8 L261.7,208.8 L262.2,208.8 L262.6,208.8 L263.1,208.8 L263.6,208.8 L264.0,208.8 L264.5,208.8 L265.0,208.8 L265.4,208.8 L265.9,208.8 L266.4,208.8 L266.8,208.8 L267.3,208.8 L267.8,208.8 L268.2,208.8 L268.7,208.8 L269.2,208.8 L269.6,208.8 L270.1,208.8 L270.6,208.8 L271.0,208.8 L271.5,208.8 L272.0,208.8 L272.4,208.8 L272.9,208.8 L273.4,208.8 L273.8,208.8 L274.3,209.0 L274.8,209.4 L275.2,210.0 L275.7,210.7 L276.2,211.5 L276.6,212.3 L277.1,213.0 L277.6,213.8 L278.0,214.6 L278.5,215.4 L279.0,216.1 L279.4,216.8 L279.9,217.5 L280.4,218.2 L280.8,218.9 L281.3,219.5 L281.8,220.1 L282.2,220.7 L282.7,221.3 L283.2,221.9 L283.6,222.4 L284.1,223.0 L284.6,223.5 L285.0,224.0 L285.5,224.5 L286.0,224.9 L286.4,225.4 L286.9,225.8 L287.4,226.3 L287.9,226.7 L288.3,227.1 L288.8,227.5 L289.3,227.8 L289.7,228.2 L290.2,228.5 L290.7,228.9 L291.1,229.2 L291.6,229.5 L292.1,229.8 L292.5,230.1 L293.0,230.4 L293.5,230.7 L293.9,231.0 L294.4,231.3 L294.9,231.5 L295.3,231.8 L295.8,232.0 L296.3,232.2 L296.7,232.5 L297.2,232.7 L297.7,232.9 L298.1,233.1 L298.6,233.3 L299.1,233.5 L299.5,233.7 L300.0,233.9 L300.5,234.0 L300.9,234.2 L301.4,234.4 L301.9,234.5 L302.3,234.7 L302.8,234.8 L303.3,235.0 L303.7,235.1 L304.2,235.3 L304.7,235.4 L305.1,235.5 L305.6,235.6 L306.1,235.8 L306.5,235.9 L307.0,236.0 L307.5,236.1 L307.9,236.2 L308.4,236.3 L308.9,236.4 L309.3,236.5 L309.8,236.6 L310.3,236.7 L310.7,236.8 L311.2,236.9 L311.7,236.9 L312.1,237.0 L312.6,237.1 L313.1,237.2 L313.5,237.2 L314.0,237.3 L314.5,237.4 L314.9,237.4 L315.4,237.5 L315.9,237.6 L316.3,237.6 L316.8,237.7 L317.3,237.7 L317.7,237.8 L318.2,237.9 L318.7,237.9 L319.1,238.0 L319.6,238.0 L320.1,238.1 L320.5,238.1 L321.0,238.1 L321.5,238.2 L321.9,238.2 L322.4,238.3 L322.9,238.3 L323.3,238.3 L323.8,238.4 L324.3,238.4 L324.7,238.4 L325.2,238.5 L325.7,238.5 L326.1,238.5 L326.6,238.6 L327.1,238.6 L327.5,238.6 L328.0,238.7 L328.5,238.7 L328.9,238.7 L329.4,238.7 L329.9,238.8 L330.3,238.8 L330.8,238.8 L331.3,238.8 L331.7,238.8 L332.2,238.9 L332.7,238.9 L333.1,238.9 L333.6,238.9 L334.1,238.9 L334.6,239.0 L335.0,239.0 L335.5,239.0 L336.0,239.0 L336.4,239.0 L336.9,239.0 L337.4,239.1 L337.8,239.1 L338.3,239.1 L338.8,239.1 L339.2,239.1 L339.7,239.1 L340.2,239.1 L340.6,239.1 L341.1,239.2 L341.6,239.2 L342.0,239.2 L342.5,239.2 L343.0,239.2 L343.4,239.2 L343.9,239.2 L344.4,239.2 L344.8,239.2 L345.3,239.2 L345.8,239.2 L346.2,239.3 L346.7,239.3 L347.2,239.3 L347.6,239.3 L348.1,239.3 L348.6,239.3 L349.0,239.3 L349.5,239.3 L350.0,239.3 L350.4,239.3 L350.9,239.3" fill="none" stroke="#a87a6a" stroke-width="0.9" stroke-linejoin="round" opacity="1" clip-path="url(#c1)"/>
<path d="M208.5,239.5 L208.9,239.5 L209.4,239.5 L209.9,239.5 L210.3,239.5 L210.8,239.5 L211.3,239.5 L211.7,239.5 L212.2,239.5 L212.7,239.5 L213.1,239.5 L213.6,239.5 L214.1,239.5 L214.5,239.5 L215.0,239.5 L215.5,239.5 L215.9,239.5 L216.4,239.5 L216.9,239.5 L217.3,239.5 L217.8,239.5 L218.3,238.5 L218.7,237.6 L219.2,236.7 L219.7,235.8 L220.1,235.0 L220.6,234.3 L221.1,233.5 L221.5,232.9 L222.0,232.2 L222.5,231.6 L222.9,231.0 L223.4,230.5 L223.9,230.0 L224.3,229.5 L224.8,229.1 L225.3,228.6 L225.7,228.2 L226.2,227.8 L226.7,227.5 L227.1,227.1 L227.6,226.8 L228.1,226.5 L228.5,226.2 L229.0,225.9 L229.5,225.7 L229.9,225.4 L230.4,225.2 L230.9,225.0 L231.3,224.7 L231.8,224.5 L232.3,224.4 L232.7,224.2 L233.2,224.0 L233.7,223.9 L234.1,223.7 L234.6,223.6 L235.1,223.4 L235.5,223.3 L236.0,223.2 L236.5,223.1 L236.9,223.0 L237.4,222.9 L237.9,222.8 L238.3,222.7 L238.8,222.6 L239.3,222.5 L239.7,222.4 L240.2,222.4 L240.7,222.3 L241.2,222.2 L241.6,222.2 L242.1,222.1 L242.6,222.1 L243.0,222.0 L243.5,222.0 L244.0,221.9 L244.4,221.9 L244.9,221.8 L245.4,221.8 L245.8,221.8 L246.3,221.7 L246.8,221.7 L247.2,221.7 L247.7,221.6 L248.2,221.6 L248.6,221.6 L249.1,221.6 L249.6,221.5 L250.0,221.5 L250.5,221.5 L251.0,221.5 L251.4,221.4 L251.9,221.4 L252.4,221.4 L252.8,221.4 L253.3,221.4 L253.8,221.4 L254.2,221.4 L254.7,221.3 L255.2,221.3 L255.6,221.3 L256.1,221.3 L256.6,221.3 L257.0,221.3 L257.5,221.3 L258.0,221.3 L258.4,221.3 L258.9,221.3 L259.4,221.2 L259.8,221.2 L260.3,221.2 L260.8,221.2 L261.2,221.2 L261.7,221.2 L262.2,221.2 L262.6,221.2 L263.1,221.2 L263.6,221.2 L264.0,221.2 L264.5,221.2 L265.0,221.2 L265.4,221.2 L265.9,221.2 L266.4,221.2 L266.8,221.2 L267.3,221.2 L267.8,221.2 L268.2,221.2 L268.7,221.2 L269.2,221.2 L269.6,221.2 L270.1,221.2 L270.6,221.2 L271.0,221.2 L271.5,221.2 L272.0,221.2 L272.4,221.1 L272.9,221.1 L273.4,221.1 L273.8,221.1 L274.3,221.3 L274.8,221.5 L275.2,221.9 L275.7,222.3 L276.2,222.8 L276.6,223.2 L277.1,223.7 L277.6,224.2 L278.0,224.6 L278.5,225.1 L279.0,225.5 L279.4,226.0 L279.9,226.4 L280.4,226.8 L280.8,227.2 L281.3,227.6 L281.8,227.9 L282.2,228.3 L282.7,228.6 L283.2,229.0 L283.6,229.3 L284.1,229.6 L284.6,229.9 L285.0,230.2 L285.5,230.5 L286.0,230.8 L286.4,231.1 L286.9,231.3 L287.4,231.6 L287.9,231.8 L288.3,232.1 L288.8,232.3 L289.3,232.5 L289.7,232.7 L290.2,233.0 L290.7,233.2 L291.1,233.4 L291.6,233.5 L292.1,233.7 L292.5,233.9 L293.0,234.1 L293.5,234.3 L293.9,234.4 L294.4,234.6 L294.9,234.7 L295.3,234.9 L295.8,235.0 L296.3,235.2 L296.7,235.3 L297.2,235.4 L297.7,235.6 L298.1,235.7 L298.6,235.8 L299.1,235.9 L299.5,236.0 L300.0,236.1 L300.5,236.2 L300.9,236.3 L301.4,236.4 L301.9,236.5 L302.3,236.6 L302.8,236.7 L303.3,236.8 L303.7,236.9 L304.2,237.0 L304.7,237.0 L305.1,237.1 L305.6,237.2 L306.1,237.3 L306.5,237.3 L307.0,237.4 L307.5,237.5 L307.9,237.5 L308.4,237.6 L308.9,237.7 L309.3,237.7 L309.8,237.8 L310.3,237.8 L310.7,237.9 L311.2,237.9 L311.7,238.0 L312.1,238.0 L312.6,238.1 L313.1,238.1 L313.5,238.2 L314.0,238.2 L314.5,238.2 L314.9,238.3 L315.4,238.3 L315.9,238.3 L316.3,238.4 L316.8,238.4 L317.3,238.5 L317.7,238.5 L318.2,238.5 L318.7,238.5 L319.1,238.6 L319.6,238.6 L320.1,238.6 L320.5,238.7 L321.0,238.7 L321.5,238.7 L321.9,238.7 L322.4,238.8 L322.9,238.8 L323.3,238.8 L323.8,238.8 L324.3,238.8 L324.7,238.9 L325.2,238.9 L325.7,238.9 L326.1,238.9 L326.6,238.9 L327.1,239.0 L327.5,239.0 L328.0,239.0 L328.5,239.0 L328.9,239.0 L329.4,239.0 L329.9,239.1 L330.3,239.1 L330.8,239.1 L331.3,239.1 L331.7,239.1 L332.2,239.1 L332.7,239.1 L333.1,239.1 L333.6,239.2 L334.1,239.2 L334.6,239.2 L335.0,239.2 L335.5,239.2 L336.0,239.2 L336.4,239.2 L336.9,239.2 L337.4,239.2 L337.8,239.2 L338.3,239.2 L338.8,239.3 L339.2,239.3 L339.7,239.3 L340.2,239.3 L340.6,239.3 L341.1,239.3 L341.6,239.3 L342.0,239.3 L342.5,239.3 L343.0,239.3 L343.4,239.3 L343.9,239.3 L344.4,239.3 L344.8,239.3 L345.3,239.3 L345.8,239.3 L346.2,239.4 L346.7,239.4 L347.2,239.4 L347.6,239.4 L348.1,239.4 L348.6,239.4 L349.0,239.4 L349.5,239.4 L350.0,239.4 L350.4,239.4 L350.9,239.4" fill="none" stroke="#9a6070" stroke-width="0.9" stroke-linejoin="round" opacity="1" clip-path="url(#c1)"/>
<path d="M208.5,239.5 L208.9,239.5 L209.4,239.5 L209.9,239.5 L210.3,239.5 L210.8,239.5 L211.3,239.5 L211.7,239.5 L212.2,239.5 L212.7,239.5 L213.1,239.5 L213.6,239.5 L214.1,239.5 L214.5,239.5 L215.0,239.5 L215.5,239.5 L215.9,239.5 L216.4,239.5 L216.9,239.5 L217.3,239.5 L217.8,239.5 L218.3,239.0 L218.7,238.6 L219.2,238.2 L219.7,237.8 L220.1,237.4 L220.6,237.0 L221.1,236.6 L221.5,236.3 L222.0,236.0 L222.5,235.7 L222.9,235.4 L223.4,235.1 L223.9,234.9 L224.3,234.6 L224.8,234.4 L225.3,234.1 L225.7,233.9 L226.2,233.7 L226.7,233.5 L227.1,233.3 L227.6,233.1 L228.1,233.0 L228.5,232.8 L229.0,232.7 L229.5,232.5 L229.9,232.4 L230.4,232.2 L230.9,232.1 L231.3,232.0 L231.8,231.9 L232.3,231.8 L232.7,231.6 L233.2,231.5 L233.7,231.5 L234.1,231.4 L234.6,231.3 L235.1,231.2 L235.5,231.1 L236.0,231.0 L236.5,231.0 L236.9,230.9 L237.4,230.8 L237.9,230.8 L238.3,230.7 L238.8,230.6 L239.3,230.6 L239.7,230.5 L240.2,230.5 L240.7,230.4 L241.2,230.4 L241.6,230.4 L242.1,230.3 L242.6,230.3 L243.0,230.2 L243.5,230.2 L244.0,230.2 L244.4,230.1 L244.9,230.1 L245.4,230.1 L245.8,230.1 L246.3,230.0 L246.8,230.0 L247.2,230.0 L247.7,230.0 L248.2,229.9 L248.6,229.9 L249.1,229.9 L249.6,229.9 L250.0,229.9 L250.5,229.8 L251.0,229.8 L251.4,229.8 L251.9,229.8 L252.4,229.8 L252.8,229.8 L253.3,229.8 L253.8,229.7 L254.2,229.7 L254.7,229.7 L255.2,229.7 L255.6,229.7 L256.1,229.7 L256.6,229.7 L257.0,229.7 L257.5,229.7 L258.0,229.7 L258.4,229.6 L258.9,229.6 L259.4,229.6 L259.8,229.6 L260.3,229.6 L260.8,229.6 L261.2,229.6 L261.7,229.6 L262.2,229.6 L262.6,229.6 L263.1,229.6 L263.6,229.6 L264.0,229.6 L264.5,229.6 L265.0,229.6 L265.4,229.6 L265.9,229.6 L266.4,229.6 L266.8,229.6 L267.3,229.6 L267.8,229.6 L268.2,229.6 L268.7,229.5 L269.2,229.5 L269.6,229.5 L270.1,229.5 L270.6,229.5 L271.0,229.5 L271.5,229.5 L272.0,229.5 L272.4,229.5 L272.9,229.5 L273.4,229.5 L273.8,229.5 L274.3,229.6 L274.8,229.7 L275.2,229.9 L275.7,230.2 L276.2,230.4 L276.6,230.7 L277.1,230.9 L277.6,231.2 L278.0,231.4 L278.5,231.7 L279.0,231.9 L279.4,232.1 L279.9,232.4 L280.4,232.6 L280.8,232.8 L281.3,233.0 L281.8,233.2 L282.2,233.4 L282.7,233.6 L283.2,233.8 L283.6,234.0 L284.1,234.1 L284.6,234.3 L285.0,234.5 L285.5,234.6 L286.0,234.8 L286.4,234.9 L286.9,235.1 L287.4,235.2 L287.9,235.3 L288.3,235.5 L288.8,235.6 L289.3,235.7 L289.7,235.8 L290.2,235.9 L290.7,236.1 L291.1,236.2 L291.6,236.3 L292.1,236.4 L292.5,236.5 L293.0,236.6 L293.5,236.6 L293.9,236.7 L294.4,236.8 L294.9,236.9 L295.3,237.0 L295.8,237.1 L296.3,237.1 L296.7,237.2 L297.2,237.3 L297.7,237.4 L298.1,237.4 L298.6,237.5 L299.1,237.5 L299.5,237.6 L300.0,237.7 L300.5,237.7 L300.9,237.8 L301.4,237.8 L301.9,237.9 L302.3,237.9 L302.8,238.0 L303.3,238.0 L303.7,238.1 L304.2,238.1 L304.7,238.2 L305.1,238.2 L305.6,238.2 L306.1,238.3 L306.5,238.3 L307.0,238.4 L307.5,238.4 L307.9,238.4 L308.4,238.5 L308.9,238.5 L309.3,238.5 L309.8,238.6 L310.3,238.6 L310.7,238.6 L311.2,238.6 L311.7,238.7 L312.1,238.7 L312.6,238.7 L313.1,238.7 L313.5,238.8 L314.0,238.8 L314.5,238.8 L314.9,238.8 L315.4,238.9 L315.9,238.9 L316.3,238.9 L316.8,238.9 L317.3,238.9 L317.7,238.9 L318.2,239.0 L318.7,239.0 L319.1,239.0 L319.6,239.0 L320.1,239.0 L320.5,239.0 L321.0,239.1 L321.5,239.1 L321.9,239.1 L322.4,239.1 L322.9,239.1 L323.3,239.1 L323.8,239.1 L324.3,239.1 L324.7,239.2 L325.2,239.2 L325.7,239.2 L326.1,239.2 L326.6,239.2 L327.1,239.2 L327.5,239.2 L328.0,239.2 L328.5,239.2 L328.9,239.2 L329.4,239.3 L329.9,239.3 L330.3,239.3 L330.8,239.3 L331.3,239.3 L331.7,239.3 L332.2,239.3 L332.7,239.3 L333.1,239.3 L333.6,239.3 L334.1,239.3 L334.6,239.3 L335.0,239.3 L335.5,239.3 L336.0,239.3 L336.4,239.3 L336.9,239.3 L337.4,239.4 L337.8,239.4 L338.3,239.4 L338.8,239.4 L339.2,239.4 L339.7,239.4 L340.2,239.4 L340.6,239.4 L341.1,239.4 L341.6,239.4 L342.0,239.4 L342.5,239.4 L343.0,239.4 L343.4,239.4 L343.9,239.4 L344.4,239.4 L344.8,239.4 L345.3,239.4 L345.8,239.4 L346.2,239.4 L346.7,239.4 L347.2,239.4 L347.6,239.4 L348.1,239.4 L348.6,239.4 L349.0,239.4 L349.5,239.4 L350.0,239.4 L350.4,239.4 L350.9,239.4" fill="none" stroke="#a05a70" stroke-width="0.9" stroke-linejoin="round" opacity="1" clip-path="url(#c1)"/>
<path d="M208.5,239.5 L208.9,239.5 L209.4,239.5 L209.9,239.5 L210.3,239.5 L210.8,239.5 L211.3,239.5 L211.7,239.5 L212.2,239.5 L212.7,239.5 L213.1,239.5 L213.6,239.5 L214.1,239.5 L214.5,239.5 L215.0,239.5 L215.5,239.5 L215.9,239.5 L216.4,239.5 L216.9,239.5 L217.3,239.5 L217.8,239.5 L218.3,239.3 L218.7,239.1 L219.2,238.9 L219.7,238.7 L220.1,238.5 L220.6,238.3 L221.1,238.1 L221.5,238.0 L222.0,237.8 L222.5,237.7 L222.9,237.5 L223.4,237.4 L223.9,237.2 L224.3,237.1 L224.8,237.0 L225.3,236.8 L225.7,236.7 L226.2,236.6 L226.7,236.5 L227.1,236.4 L227.6,236.3 L228.1,236.2 L228.5,236.1 L229.0,236.0 L229.5,236.0 L229.9,235.9 L230.4,235.8 L230.9,235.7 L231.3,235.6 L231.8,235.6 L232.3,235.5 L232.7,235.4 L233.2,235.4 L233.7,235.3 L234.1,235.3 L234.6,235.2 L235.1,235.2 L235.5,235.1 L236.0,235.1 L236.5,235.0 L236.9,235.0 L237.4,234.9 L237.9,234.9 L238.3,234.9 L238.8,234.8 L239.3,234.8 L239.7,234.7 L240.2,234.7 L240.7,234.7 L241.2,234.6 L241.6,234.6 L242.1,234.6 L242.6,234.6 L243.0,234.5 L243.5,234.5 L244.0,234.5 L244.4,234.5 L244.9,234.4 L245.4,234.4 L245.8,234.4 L246.3,234.4 L246.8,234.4 L247.2,234.3 L247.7,234.3 L248.2,234.3 L248.6,234.3 L249.1,234.3 L249.6,234.3 L250.0,234.2 L250.5,234.2 L251.0,234.2 L251.4,234.2 L251.9,234.2 L252.4,234.2 L252.8,234.2 L253.3,234.2 L253.8,234.1 L254.2,234.1 L254.7,234.1 L255.2,234.1 L255.6,234.1 L256.1,234.1 L256.6,234.1 L257.0,234.1 L257.5,234.1 L258.0,234.1 L258.4,234.1 L258.9,234.1 L259.4,234.0 L259.8,234.0 L260.3,234.0 L260.8,234.0 L261.2,234.0 L261.7,234.0 L262.2,234.0 L262.6,234.0 L263.1,234.0 L263.6,234.0 L264.0,234.0 L264.5,234.0 L265.0,234.0 L265.4,234.0 L265.9,234.0 L266.4,234.0 L266.8,234.0 L267.3,234.0 L267.8,234.0 L268.2,234.0 L268.7,234.0 L269.2,234.0 L269.6,234.0 L270.1,234.0 L270.6,234.0 L271.0,233.9 L271.5,233.9 L272.0,233.9 L272.4,233.9 L272.9,233.9 L273.4,233.9 L273.8,233.9 L274.3,234.0 L274.8,234.0 L275.2,234.2 L275.7,234.3 L276.2,234.4 L276.6,234.6 L277.1,234.7 L277.6,234.9 L278.0,235.0 L278.5,235.1 L279.0,235.3 L279.4,235.4 L279.9,235.5 L280.4,235.6 L280.8,235.8 L281.3,235.9 L281.8,236.0 L282.2,236.1 L282.7,236.2 L283.2,236.3 L283.6,236.4 L284.1,236.5 L284.6,236.6 L285.0,236.7 L285.5,236.8 L286.0,236.9 L286.4,236.9 L286.9,237.0 L287.4,237.1 L287.9,237.2 L288.3,237.2 L288.8,237.3 L289.3,237.4 L289.7,237.5 L290.2,237.5 L290.7,237.6 L291.1,237.6 L291.6,237.7 L292.1,237.8 L292.5,237.8 L293.0,237.9 L293.5,237.9 L293.9,238.0 L294.4,238.0 L294.9,238.1 L295.3,238.1 L295.8,238.1 L296.3,238.2 L296.7,238.2 L297.2,238.3 L297.7,238.3 L298.1,238.3 L298.6,238.4 L299.1,238.4 L299.5,238.4 L300.0,238.5 L300.5,238.5 L300.9,238.5 L301.4,238.6 L301.9,238.6 L302.3,238.6 L302.8,238.7 L303.3,238.7 L303.7,238.7 L304.2,238.7 L304.7,238.8 L305.1,238.8 L305.6,238.8 L306.1,238.8 L306.5,238.8 L307.0,238.9 L307.5,238.9 L307.9,238.9 L308.4,238.9 L308.9,238.9 L309.3,239.0 L309.8,239.0 L310.3,239.0 L310.7,239.0 L311.2,239.0 L311.7,239.0 L312.1,239.1 L312.6,239.1 L313.1,239.1 L313.5,239.1 L314.0,239.1 L314.5,239.1 L314.9,239.1 L315.4,239.1 L315.9,239.2 L316.3,239.2 L316.8,239.2 L317.3,239.2 L317.7,239.2 L318.2,239.2 L318.7,239.2 L319.1,239.2 L319.6,239.2 L320.1,239.2 L320.5,239.2 L321.0,239.3 L321.5,239.3 L321.9,239.3 L322.4,239.3 L322.9,239.3 L323.3,239.3 L323.8,239.3 L324.3,239.3 L324.7,239.3 L325.2,239.3 L325.7,239.3 L326.1,239.3 L326.6,239.3 L327.1,239.3 L327.5,239.3 L328.0,239.3 L328.5,239.4 L328.9,239.4 L329.4,239.4 L329.9,239.4 L330.3,239.4 L330.8,239.4 L331.3,239.4 L331.7,239.4 L332.2,239.4 L332.7,239.4 L333.1,239.4 L333.6,239.4 L334.1,239.4 L334.6,239.4 L335.0,239.4 L335.5,239.4 L336.0,239.4 L336.4,239.4 L336.9,239.4 L337.4,239.4 L337.8,239.4 L338.3,239.4 L338.8,239.4 L339.2,239.4 L339.7,239.4 L340.2,239.4 L340.6,239.4 L341.1,239.4 L341.6,239.4 L342.0,239.4 L342.5,239.4 L343.0,239.4 L343.4,239.4 L343.9,239.4 L344.4,239.4 L344.8,239.5 L345.3,239.5 L345.8,239.5 L346.2,239.5 L346.7,239.5 L347.2,239.5 L347.6,239.5 L348.1,239.5 L348.6,239.5 L349.0,239.5 L349.5,239.5 L350.0,239.5 L350.4,239.5 L350.9,239.5" fill="none" stroke="#b04a5a" stroke-width="0.9" stroke-linejoin="round" opacity="1" clip-path="url(#c1)"/>
<path d="M208.5,239.5 L208.9,239.5 L209.4,239.5 L209.9,239.5 L210.3,239.5 L210.8,239.5 L211.3,239.5 L211.7,239.5 L212.2,239.5 L212.7,239.5 L213.1,239.5 L213.6,239.5 L214.1,239.5 L214.5,239.5 L215.0,239.5 L215.5,239.5 L215.9,239.5 L216.4,239.5 L216.9,239.5 L217.3,239.5 L217.8,239.5 L218.3,239.4 L218.7,239.3 L219.2,239.2 L219.7,239.1 L220.1,239.0 L220.6,238.9 L221.1,238.8 L221.5,238.7 L222.0,238.6 L222.5,238.5 L222.9,238.4 L223.4,238.3 L223.9,238.3 L224.3,238.2 L224.8,238.1 L225.3,238.1 L225.7,238.0 L226.2,237.9 L226.7,237.9 L227.1,237.8 L227.6,237.7 L228.1,237.7 L228.5,237.6 L229.0,237.6 L229.5,237.5 L229.9,237.5 L230.4,237.4 L230.9,237.4 L231.3,237.4 L231.8,237.3 L232.3,237.3 L232.7,237.2 L233.2,237.2 L233.7,237.2 L234.1,237.1 L234.6,237.1 L235.1,237.1 L235.5,237.0 L236.0,237.0 L236.5,237.0 L236.9,237.0 L237.4,236.9 L237.9,236.9 L238.3,236.9 L238.8,236.9 L239.3,236.8 L239.7,236.8 L240.2,236.8 L240.7,236.8 L241.2,236.7 L241.6,236.7 L242.1,236.7 L242.6,236.7 L243.0,236.7 L243.5,236.7 L244.0,236.6 L244.4,236.6 L244.9,236.6 L245.4,236.6 L245.8,236.6 L246.3,236.6 L246.8,236.6 L247.2,236.5 L247.7,236.5 L248.2,236.5 L248.6,236.5 L249.1,236.5 L249.6,236.5 L250.0,236.5 L250.5,236.5 L251.0,236.5 L251.4,236.4 L251.9,236.4 L252.4,236.4 L252.8,236.4 L253.3,236.4 L253.8,236.4 L254.2,236.4 L254.7,236.4 L255.2,236.4 L255.6,236.4 L256.1,236.4 L256.6,236.4 L257.0,236.4 L257.5,236.4 L258.0,236.3 L258.4,236.3 L258.9,236.3 L259.4,236.3 L259.8,236.3 L260.3,236.3 L260.8,236.3 L261.2,236.3 L261.7,236.3 L262.2,236.3 L262.6,236.3 L263.1,236.3 L263.6,236.3 L264.0,236.3 L264.5,236.3 L265.0,236.3 L265.4,236.3 L265.9,236.3 L266.4,236.3 L266.8,236.3 L267.3,236.3 L267.8,236.3 L268.2,236.3 L268.7,236.3 L269.2,236.3 L269.6,236.3 L270.1,236.3 L270.6,236.3 L271.0,236.3 L271.5,236.3 L272.0,236.3 L272.4,236.2 L272.9,236.2 L273.4,236.2 L273.8,236.2 L274.3,236.3 L274.8,236.3 L275.2,236.4 L275.7,236.4 L276.2,236.5 L276.6,236.6 L277.1,236.7 L277.6,236.8 L278.0,236.9 L278.5,236.9 L279.0,237.0 L279.4,237.1 L279.9,237.2 L280.4,237.2 L280.8,237.3 L281.3,237.4 L281.8,237.4 L282.2,237.5 L282.7,237.6 L283.2,237.6 L283.6,237.7 L284.1,237.7 L284.6,237.8 L285.0,237.9 L285.5,237.9 L286.0,238.0 L286.4,238.0 L286.9,238.1 L287.4,238.1 L287.9,238.1 L288.3,238.2 L288.8,238.2 L289.3,238.3 L289.7,238.3 L290.2,238.3 L290.7,238.4 L291.1,238.4 L291.6,238.4 L292.1,238.5 L292.5,238.5 L293.0,238.5 L293.5,238.6 L293.9,238.6 L294.4,238.6 L294.9,238.7 L295.3,238.7 L295.8,238.7 L296.3,238.7 L296.7,238.8 L297.2,238.8 L297.7,238.8 L298.1,238.8 L298.6,238.8 L299.1,238.9 L299.5,238.9 L300.0,238.9 L300.5,238.9 L300.9,238.9 L301.4,239.0 L301.9,239.0 L302.3,239.0 L302.8,239.0 L303.3,239.0 L303.7,239.0 L304.2,239.1 L304.7,239.1 L305.1,239.1 L305.6,239.1 L306.1,239.1 L306.5,239.1 L307.0,239.1 L307.5,239.1 L307.9,239.2 L308.4,239.2 L308.9,239.2 L309.3,239.2 L309.8,239.2 L310.3,239.2 L310.7,239.2 L311.2,239.2 L311.7,239.2 L312.1,239.2 L312.6,239.2 L313.1,239.3 L313.5,239.3 L314.0,239.3 L314.5,239.3 L314.9,239.3 L315.4,239.3 L315.9,239.3 L316.3,239.3 L316.8,239.3 L317.3,239.3 L317.7,239.3 L318.2,239.3 L318.7,239.3 L319.1,239.3 L319.6,239.3 L320.1,239.3 L320.5,239.4 L321.0,239.4 L321.5,239.4 L321.9,239.4 L322.4,239.4 L322.9,239.4 L323.3,239.4 L323.8,239.4 L324.3,239.4 L324.7,239.4 L325.2,239.4 L325.7,239.4 L326.1,239.4 L326.6,239.4 L327.1,239.4 L327.5,239.4 L328.0,239.4 L328.5,239.4 L328.9,239.4 L329.4,239.4 L329.9,239.4 L330.3,239.4 L330.8,239.4 L331.3,239.4 L331.7,239.4 L332.2,239.4 L332.7,239.4 L333.1,239.4 L333.6,239.4 L334.1,239.4 L334.6,239.4 L335.0,239.4 L335.5,239.4 L336.0,239.4 L336.4,239.4 L336.9,239.5 L337.4,239.5 L337.8,239.5 L338.3,239.5 L338.8,239.5 L339.2,239.5 L339.7,239.5 L340.2,239.5 L340.6,239.5 L341.1,239.5 L341.6,239.5 L342.0,239.5 L342.5,239.5 L343.0,239.5 L343.4,239.5 L343.9,239.5 L344.4,239.5 L344.8,239.5 L345.3,239.5 L345.8,239.5 L346.2,239.5 L346.7,239.5 L347.2,239.5 L347.6,239.5 L348.1,239.5 L348.6,239.5 L349.0,239.5 L349.5,239.5 L350.0,239.5 L350.4,239.5 L350.9,239.5" fill="none" stroke="#c04a3a" stroke-width="0.9" stroke-linejoin="round" opacity="1" clip-path="url(#c1)"/>
<path d="M208.5,239.4 L208.9,239.5 L209.4,239.6 L209.9,239.4 L210.3,239.7 L210.8,239.8 L211.3,239.6 L211.7,239.6 L212.2,239.3 L212.7,239.5 L213.1,239.6 L213.6,239.6 L214.1,239.4 L214.5,239.6 L215.0,239.6 L215.5,239.5 L215.9,239.5 L216.4,240.4 L216.9,240.4 L217.3,240.3 L217.8,240.2 L218.3,233.8 L218.7,226.8 L219.2,221.8 L219.7,217.3 L220.1,213.0 L220.6,209.7 L221.1,206.3 L221.5,203.7 L222.0,201.1 L222.5,199.0 L222.9,197.0 L223.4,195.0 L223.9,193.5 L224.3,192.1 L224.8,190.9 L225.3,189.6 L225.7,188.8 L226.2,187.8 L226.7,186.8 L227.1,186.1 L227.6,185.3 L228.1,184.6 L228.5,184.0 L229.0,183.4 L229.5,182.7 L229.9,182.3 L230.4,181.8 L230.9,181.5 L231.3,181.2 L231.8,180.9 L232.3,180.5 L232.7,180.3 L233.2,179.8 L233.7,179.4 L234.1,179.0 L234.6,178.8 L235.1,178.8 L235.5,178.4 L236.0,178.3 L236.5,177.9 L236.9,177.8 L237.4,177.4 L237.9,177.0 L238.3,177.0 L238.8,176.7 L239.3,176.8 L239.7,176.6 L240.2,176.3 L240.7,176.0 L241.2,176.2 L241.6,175.9 L242.1,176.0 L242.6,175.7 L243.0,175.4 L243.5,175.4 L244.0,175.3 L244.4,175.3 L244.9,174.9 L245.4,174.7 L245.8,174.7 L246.3,174.6 L246.8,174.7 L247.2,174.2 L247.7,174.3 L248.2,174.2 L248.6,174.0 L249.1,174.2 L249.6,173.9 L250.0,173.8 L250.5,173.6 L251.0,173.4 L251.4,173.4 L251.9,173.6 L252.4,173.4 L252.8,173.2 L253.3,173.1 L253.8,173.2 L254.2,173.2 L254.7,172.9 L255.2,172.8 L255.6,172.8 L256.1,172.9 L256.6,172.4 L257.0,172.9 L257.5,172.6 L258.0,172.2 L258.4,172.4 L258.9,172.3 L259.4,172.4 L259.8,172.1 L260.3,172.3 L260.8,172.1 L261.2,172.0 L261.7,172.1 L262.2,171.8 L262.6,172.1 L263.1,171.9 L263.6,171.8 L264.0,171.8 L264.5,171.7 L265.0,171.6 L265.4,171.7 L265.9,171.7 L266.4,171.6 L266.8,171.6 L267.3,171.4 L267.8,171.5 L268.2,171.4 L268.7,171.4 L269.2,171.4 L269.6,171.2 L270.1,171.4 L270.6,171.2 L271.0,171.0 L271.5,171.3 L272.0,171.1 L272.4,171.3 L272.9,171.1 L273.4,171.2 L273.8,171.1 L274.3,171.3 L274.8,171.9 L275.2,172.7 L275.7,174.0 L276.2,175.4 L276.6,176.9 L277.1,178.5 L277.6,180.1 L278.0,181.8 L278.5,183.2 L279.0,184.6 L279.4,186.3 L279.9,188.0 L280.4,189.3 L280.8,191.0 L281.3,192.5 L281.8,194.0 L282.2,195.3 L282.7,196.6 L283.2,197.6 L283.6,199.1 L284.1,200.5 L284.6,201.6 L285.0,202.7 L285.5,204.0 L286.0,204.9 L286.4,205.9 L286.9,206.9 L287.4,207.9 L287.9,209.1 L288.3,210.1 L288.8,210.6 L289.3,211.5 L289.7,212.7 L290.2,213.3 L290.7,214.1 L291.1,214.8 L291.6,215.6 L292.1,216.4 L292.5,217.0 L293.0,217.7 L293.5,218.4 L293.9,219.3 L294.4,220.1 L294.9,220.4 L295.3,221.1 L295.8,221.4 L296.3,221.9 L296.7,222.5 L297.2,223.1 L297.7,223.5 L298.1,223.9 L298.6,224.6 L299.1,224.9 L299.5,225.3 L300.0,225.8 L300.5,226.1 L300.9,226.8 L301.4,226.9 L301.9,227.5 L302.3,227.9 L302.8,228.3 L303.3,228.4 L303.7,229.0 L304.2,229.2 L304.7,229.6 L305.1,229.7 L305.6,229.9 L306.1,230.3 L306.5,230.4 L307.0,230.9 L307.5,230.9 L307.9,231.4 L308.4,231.9 L308.9,231.7 L309.3,232.2 L309.8,232.5 L310.3,232.7 L310.7,233.0 L311.2,233.0 L311.7,233.3 L312.1,233.2 L312.6,233.5 L313.1,234.0 L313.5,234.1 L314.0,234.2 L314.5,234.5 L314.9,234.4 L315.4,234.6 L315.9,234.8 L316.3,234.9 L316.8,234.9 L317.3,234.7 L317.7,234.5 L318.2,234.4 L318.7,234.3 L319.1,234.8 L319.6,235.1 L320.1,235.7 L320.5,235.8 L321.0,236.2 L321.5,236.3 L321.9,236.3 L322.4,236.3 L322.9,236.7 L323.3,236.7 L323.8,236.7 L324.3,236.7 L324.7,237.0 L325.2,236.9 L325.7,237.1 L326.1,236.9 L326.6,237.1 L327.1,237.4 L327.5,237.6 L328.0,237.4 L328.5,237.3 L328.9,237.5 L329.4,237.5 L329.9,237.7 L330.3,237.8 L330.8,237.6 L331.3,237.8 L331.7,237.8 L332.2,238.1 L332.7,237.9 L333.1,238.1 L333.6,237.9 L334.1,238.2 L334.6,238.2 L335.0,238.2 L335.5,238.0 L336.0,238.2 L336.4,238.4 L336.9,238.4 L337.4,238.5 L337.8,238.2 L338.3,238.6 L338.8,238.6 L339.2,238.4 L339.7,238.4 L340.2,238.6 L340.6,238.5 L341.1,238.5 L341.6,238.5 L342.0,238.7 L342.5,238.5 L343.0,238.7 L343.4,238.5 L343.9,238.9 L344.4,238.7 L344.8,239.0 L345.3,239.0 L345.8,238.8 L346.2,239.0 L346.7,238.8 L347.2,239.0 L347.6,238.7 L348.1,238.9 L348.6,239.1 L349.0,238.9 L349.5,238.9 L350.0,239.1 L350.4,239.0 L350.9,238.8" fill="none" stroke="#2e2ecc" stroke-width="1.5" stroke-linejoin="round" opacity="1" clip-path="url(#c1)"/>
<path d="M208.5,239.5 L208.9,239.4 L209.4,239.5 L209.9,239.3 L210.3,239.4 L210.8,239.5 L211.3,239.5 L211.7,239.5 L212.2,239.5 L212.7,239.4 L213.1,239.6 L213.6,239.3 L214.1,239.5 L214.5,239.5 L215.0,239.4 L215.5,239.7 L215.9,239.6 L216.4,240.3 L216.9,240.4 L217.3,240.4 L217.8,240.2 L218.3,236.6 L218.7,232.1 L219.2,229.0 L219.7,225.8 L220.1,223.1 L220.6,220.9 L221.1,218.7 L221.5,216.8 L222.0,214.7 L222.5,213.2 L222.9,211.9 L223.4,210.2 L223.9,209.1 L224.3,207.9 L224.8,206.9 L225.3,206.0 L225.7,205.1 L226.2,204.1 L226.7,203.5 L227.1,202.9 L227.6,201.8 L228.1,201.5 L228.5,201.0 L229.0,200.5 L229.5,199.9 L229.9,199.4 L230.4,199.0 L230.9,198.6 L231.3,198.5 L231.8,198.0 L232.3,197.7 L232.7,197.3 L233.2,197.0 L233.7,197.0 L234.1,196.1 L234.6,196.4 L235.1,196.0 L235.5,195.7 L236.0,195.5 L236.5,195.4 L236.9,195.6 L237.4,195.2 L237.9,194.8 L238.3,194.8 L238.8,194.7 L239.3,194.7 L239.7,194.1 L240.2,194.0 L240.7,194.1 L241.2,193.8 L241.6,193.7 L242.1,193.7 L242.6,193.5 L243.0,193.3 L243.5,193.1 L244.0,192.9 L244.4,193.0 L244.9,192.9 L245.4,192.7 L245.8,192.8 L246.3,192.7 L246.8,192.4 L247.2,192.5 L247.7,192.3 L248.2,192.2 L248.6,192.3 L249.1,192.0 L249.6,191.9 L250.0,191.9 L250.5,191.8 L251.0,191.9 L251.4,192.0 L251.9,191.7 L252.4,191.7 L252.8,191.4 L253.3,191.4 L253.8,191.4 L254.2,191.3 L254.7,191.1 L255.2,191.0 L255.6,191.1 L256.1,191.0 L256.6,191.0 L257.0,191.0 L257.5,190.8 L258.0,190.8 L258.4,190.7 L258.9,190.9 L259.4,190.9 L259.8,190.8 L260.3,190.6 L260.8,190.4 L261.2,190.3 L261.7,190.6 L262.2,190.6 L262.6,190.3 L263.1,190.3 L263.6,190.5 L264.0,190.1 L264.5,190.2 L265.0,190.0 L265.4,190.1 L265.9,190.0 L266.4,190.0 L266.8,190.1 L267.3,190.0 L267.8,190.0 L268.2,189.8 L268.7,190.0 L269.2,190.1 L269.6,189.7 L270.1,189.7 L270.6,189.6 L271.0,189.6 L271.5,189.9 L272.0,189.8 L272.4,189.7 L272.9,189.6 L273.4,189.9 L273.8,189.6 L274.3,189.7 L274.8,190.4 L275.2,190.9 L275.7,191.7 L276.2,192.8 L276.6,193.7 L277.1,194.9 L277.6,196.1 L278.0,197.3 L278.5,198.5 L279.0,199.5 L279.4,200.8 L279.9,202.0 L280.4,202.9 L280.8,204.2 L281.3,205.1 L281.8,206.1 L282.2,207.2 L282.7,208.2 L283.2,209.0 L283.6,210.0 L284.1,211.1 L284.6,212.0 L285.0,212.5 L285.5,213.4 L286.0,214.5 L286.4,215.2 L286.9,215.8 L287.4,216.6 L287.9,217.1 L288.3,217.9 L288.8,218.5 L289.3,219.3 L289.7,219.7 L290.2,220.2 L290.7,221.1 L291.1,221.4 L291.6,222.0 L292.1,222.6 L292.5,223.2 L293.0,223.8 L293.5,224.2 L293.9,224.5 L294.4,224.9 L294.9,225.3 L295.3,225.8 L295.8,226.2 L296.3,226.8 L296.7,227.3 L297.2,227.5 L297.7,227.8 L298.1,228.2 L298.6,228.8 L299.1,229.0 L299.5,229.4 L300.0,229.5 L300.5,230.0 L300.9,230.2 L301.4,230.4 L301.9,230.7 L302.3,230.8 L302.8,231.4 L303.3,231.8 L303.7,231.6 L304.2,231.8 L304.7,232.0 L305.1,232.4 L305.6,232.6 L306.1,232.8 L306.5,233.2 L307.0,233.3 L307.5,233.4 L307.9,233.7 L308.4,233.6 L308.9,234.2 L309.3,234.2 L309.8,234.2 L310.3,234.5 L310.7,234.8 L311.2,234.9 L311.7,235.0 L312.1,234.9 L312.6,235.1 L313.1,235.3 L313.5,235.5 L314.0,235.5 L314.5,235.7 L314.9,235.9 L315.4,236.0 L315.9,236.0 L316.3,236.0 L316.8,236.2 L317.3,236.1 L317.7,235.7 L318.2,235.9 L318.7,235.9 L319.1,235.9 L319.6,236.3 L320.1,236.7 L320.5,236.9 L321.0,237.1 L321.5,237.0 L321.9,237.2 L322.4,237.1 L322.9,237.5 L323.3,237.5 L323.8,237.4 L324.3,237.6 L324.7,237.5 L325.2,237.6 L325.7,237.8 L326.1,237.7 L326.6,237.9 L327.1,238.0 L327.5,238.0 L328.0,238.0 L328.5,238.1 L328.9,238.0 L329.4,238.0 L329.9,238.1 L330.3,237.9 L330.8,238.1 L331.3,238.3 L331.7,238.1 L332.2,238.2 L332.7,238.4 L333.1,238.4 L333.6,238.3 L334.1,238.4 L334.6,238.4 L335.0,238.5 L335.5,238.5 L336.0,238.6 L336.4,238.6 L336.9,238.7 L337.4,238.6 L337.8,238.9 L338.3,238.7 L338.8,238.6 L339.2,238.7 L339.7,238.8 L340.2,238.7 L340.6,238.9 L341.1,238.9 L341.6,238.9 L342.0,238.9 L342.5,238.8 L343.0,239.0 L343.4,238.8 L343.9,239.1 L344.4,239.1 L344.8,239.0 L345.3,238.9 L345.8,239.1 L346.2,239.3 L346.7,239.0 L347.2,239.1 L347.6,239.2 L348.1,239.2 L348.6,239.2 L349.0,239.1 L349.5,239.0 L350.0,239.3 L350.4,238.9 L350.9,239.2" fill="none" stroke="#3a2ab4" stroke-width="1.5" stroke-linejoin="round" opacity="1" clip-path="url(#c1)"/>
<path d="M208.5,239.3 L208.9,239.4 L209.4,239.5 L209.9,239.6 L210.3,239.6 L210.8,239.6 L211.3,239.6 L211.7,239.4 L212.2,239.3 L212.7,239.6 L213.1,239.4 L213.6,239.6 L214.1,239.5 L214.5,239.6 L215.0,239.7 L215.5,239.5 L215.9,239.5 L216.4,240.4 L216.9,240.5 L217.3,240.5 L217.8,240.2 L218.3,238.6 L218.7,235.5 L219.2,234.0 L219.7,232.4 L220.1,230.7 L220.6,229.5 L221.1,228.2 L221.5,226.8 L222.0,225.9 L222.5,225.0 L222.9,223.9 L223.4,222.9 L223.9,222.1 L224.3,221.7 L224.8,220.8 L225.3,220.1 L225.7,219.3 L226.2,218.8 L226.7,218.3 L227.1,217.7 L227.6,217.5 L228.1,216.9 L228.5,216.5 L229.0,216.3 L229.5,215.9 L229.9,215.5 L230.4,215.3 L230.9,214.8 L231.3,214.5 L231.8,214.2 L232.3,214.2 L232.7,213.9 L233.2,213.5 L233.7,213.4 L234.1,213.4 L234.6,213.0 L235.1,212.7 L235.5,212.7 L236.0,212.5 L236.5,212.1 L236.9,212.3 L237.4,212.1 L237.9,212.1 L238.3,211.9 L238.8,211.5 L239.3,211.6 L239.7,211.6 L240.2,211.5 L240.7,211.3 L241.2,211.1 L241.6,211.2 L242.1,210.9 L242.6,211.0 L243.0,210.8 L243.5,210.7 L244.0,210.6 L244.4,210.6 L244.9,210.5 L245.4,210.4 L245.8,210.5 L246.3,210.3 L246.8,210.2 L247.2,210.0 L247.7,210.1 L248.2,210.1 L248.6,210.0 L249.1,210.0 L249.6,209.9 L250.0,209.8 L250.5,209.7 L251.0,209.8 L251.4,209.7 L251.9,209.9 L252.4,209.4 L252.8,209.6 L253.3,209.4 L253.8,209.5 L254.2,209.4 L254.7,209.3 L255.2,209.2 L255.6,209.4 L256.1,209.1 L256.6,209.2 L257.0,209.2 L257.5,209.0 L258.0,209.1 L258.4,209.0 L258.9,209.1 L259.4,208.9 L259.8,208.9 L260.3,208.9 L260.8,209.0 L261.2,208.9 L261.7,208.7 L262.2,208.6 L262.6,208.7 L263.1,208.5 L263.6,208.7 L264.0,208.8 L264.5,208.5 L265.0,208.7 L265.4,208.5 L265.9,208.4 L266.4,208.5 L266.8,208.5 L267.3,208.1 L267.8,208.4 L268.2,208.4 L268.7,208.3 L269.2,208.4 L269.6,208.3 L270.1,208.3 L270.6,208.6 L271.0,208.1 L271.5,208.4 L272.0,208.4 L272.4,208.1 L272.9,208.2 L273.4,208.3 L273.8,208.1 L274.3,208.4 L274.8,208.6 L275.2,209.2 L275.7,209.7 L276.2,210.1 L276.6,210.8 L277.1,211.5 L277.6,212.2 L278.0,213.0 L278.5,213.8 L279.0,214.5 L279.4,215.0 L279.9,215.9 L280.4,216.6 L280.8,217.3 L281.3,217.9 L281.8,218.5 L282.2,219.2 L282.7,219.9 L283.2,220.5 L283.6,221.1 L284.1,221.5 L284.6,222.0 L285.0,222.5 L285.5,223.1 L286.0,223.8 L286.4,224.1 L286.9,224.5 L287.4,225.2 L287.9,225.4 L288.3,225.9 L288.8,226.1 L289.3,226.9 L289.7,227.3 L290.2,227.4 L290.7,228.1 L291.1,228.3 L291.6,228.7 L292.1,229.0 L292.5,229.5 L293.0,229.6 L293.5,229.7 L293.9,230.1 L294.4,230.4 L294.9,230.8 L295.3,230.8 L295.8,231.2 L296.3,231.4 L296.7,231.9 L297.2,231.9 L297.7,232.3 L298.1,232.4 L298.6,232.6 L299.1,233.0 L299.5,233.0 L300.0,233.1 L300.5,233.4 L300.9,233.5 L301.4,233.9 L301.9,234.1 L302.3,234.3 L302.8,234.3 L303.3,234.3 L303.7,234.6 L304.2,234.8 L304.7,235.1 L305.1,235.0 L305.6,235.2 L306.1,235.6 L306.5,235.7 L307.0,235.6 L307.5,235.8 L307.9,235.6 L308.4,235.9 L308.9,236.2 L309.3,236.2 L309.8,236.0 L310.3,236.5 L310.7,236.3 L311.2,236.5 L311.7,236.4 L312.1,236.6 L312.6,236.8 L313.1,236.8 L313.5,236.9 L314.0,236.9 L314.5,237.1 L314.9,236.9 L315.4,237.3 L315.9,237.3 L316.3,237.5 L316.8,237.4 L317.3,237.4 L317.7,237.3 L318.2,237.1 L318.7,237.2 L319.1,237.4 L319.6,237.4 L320.1,237.8 L320.5,237.9 L321.0,237.8 L321.5,237.9 L321.9,238.4 L322.4,238.1 L322.9,238.0 L323.3,238.1 L323.8,238.3 L324.3,238.1 L324.7,238.4 L325.2,238.4 L325.7,238.3 L326.1,238.4 L326.6,238.3 L327.1,238.3 L327.5,238.5 L328.0,238.4 L328.5,238.6 L328.9,238.6 L329.4,238.4 L329.9,238.6 L330.3,238.5 L330.8,238.7 L331.3,238.7 L331.7,238.7 L332.2,238.7 L332.7,238.8 L333.1,238.8 L333.6,238.7 L334.1,238.7 L334.6,238.9 L335.0,238.8 L335.5,238.8 L336.0,239.1 L336.4,239.1 L336.9,238.8 L337.4,238.8 L337.8,239.0 L338.3,239.0 L338.8,239.1 L339.2,239.2 L339.7,239.0 L340.2,239.2 L340.6,239.0 L341.1,239.2 L341.6,239.1 L342.0,238.9 L342.5,238.9 L343.0,239.2 L343.4,239.0 L343.9,239.3 L344.4,239.2 L344.8,239.1 L345.3,239.0 L345.8,239.3 L346.2,239.1 L346.7,239.2 L347.2,239.4 L347.6,239.2 L348.1,239.1 L348.6,239.3 L349.0,239.2 L349.5,239.2 L350.0,239.4 L350.4,239.1 L350.9,239.1" fill="none" stroke="#3e2aa0" stroke-width="1.3" stroke-linejoin="round" opacity="1" clip-path="url(#c1)"/>
<path d="M208.5,239.6 L208.9,239.4 L209.4,239.6 L209.9,239.5 L210.3,239.5 L210.8,239.4 L211.3,239.6 L211.7,239.5 L212.2,239.4 L212.7,239.5 L213.1,239.5 L213.6,239.5 L214.1,239.4 L214.5,239.6 L215.0,239.5 L215.5,239.3 L215.9,239.5 L216.4,240.5 L216.9,240.5 L217.3,240.4 L217.8,240.5 L218.3,239.5 L218.7,237.9 L219.2,236.9 L219.7,236.1 L220.1,235.2 L220.6,234.8 L221.1,233.9 L221.5,233.2 L222.0,232.7 L222.5,232.0 L222.9,231.7 L223.4,231.0 L223.9,230.5 L224.3,229.9 L224.8,229.7 L225.3,229.2 L225.7,229.0 L226.2,228.6 L226.7,228.1 L227.1,227.9 L227.6,227.5 L228.1,227.3 L228.5,226.9 L229.0,226.6 L229.5,226.7 L229.9,226.2 L230.4,226.1 L230.9,225.9 L231.3,225.8 L231.8,225.5 L232.3,225.5 L232.7,225.3 L233.2,225.2 L233.7,224.9 L234.1,224.6 L234.6,224.5 L235.1,224.4 L235.5,224.4 L236.0,224.5 L236.5,224.1 L236.9,224.0 L237.4,223.8 L237.9,223.6 L238.3,223.7 L238.8,223.6 L239.3,223.8 L239.7,223.3 L240.2,223.3 L240.7,223.3 L241.2,223.1 L241.6,223.2 L242.1,223.1 L242.6,222.7 L243.0,222.8 L243.5,222.7 L244.0,222.7 L244.4,222.6 L244.9,222.6 L245.4,222.3 L245.8,222.5 L246.3,222.4 L246.8,222.5 L247.2,222.4 L247.7,222.6 L248.2,222.5 L248.6,222.1 L249.1,222.0 L249.6,222.2 L250.0,222.1 L250.5,222.0 L251.0,222.2 L251.4,221.8 L251.9,222.1 L252.4,222.0 L252.8,222.2 L253.3,221.7 L253.8,221.8 L254.2,221.6 L254.7,221.9 L255.2,221.7 L255.6,221.7 L256.1,221.7 L256.6,221.4 L257.0,221.3 L257.5,221.4 L258.0,221.6 L258.4,221.4 L258.9,221.4 L259.4,221.4 L259.8,221.4 L260.3,221.4 L260.8,221.5 L261.2,221.4 L261.7,221.2 L262.2,221.5 L262.6,221.3 L263.1,221.2 L263.6,221.5 L264.0,221.3 L264.5,221.5 L265.0,221.3 L265.4,221.4 L265.9,221.3 L266.4,221.2 L266.8,221.2 L267.3,221.2 L267.8,221.4 L268.2,220.9 L268.7,221.1 L269.2,221.2 L269.6,221.1 L270.1,221.0 L270.6,221.2 L271.0,221.1 L271.5,221.1 L272.0,220.9 L272.4,221.1 L272.9,220.9 L273.4,220.9 L273.8,221.0 L274.3,220.9 L274.8,221.2 L275.2,221.6 L275.7,221.7 L276.2,222.1 L276.6,222.5 L277.1,222.9 L277.6,223.1 L278.0,223.8 L278.5,224.2 L279.0,224.7 L279.4,224.9 L279.9,225.5 L280.4,226.0 L280.8,226.5 L281.3,226.7 L281.8,227.0 L282.2,227.7 L282.7,227.9 L283.2,228.1 L283.6,228.4 L284.1,229.0 L284.6,229.3 L285.0,229.4 L285.5,229.9 L286.0,230.2 L286.4,230.5 L286.9,230.8 L287.4,230.9 L287.9,231.2 L288.3,231.6 L288.8,231.7 L289.3,231.8 L289.7,232.2 L290.2,232.3 L290.7,232.7 L291.1,232.7 L291.6,233.1 L292.1,233.0 L292.5,233.5 L293.0,233.7 L293.5,233.9 L293.9,234.0 L294.4,234.2 L294.9,234.4 L295.3,234.5 L295.8,234.5 L296.3,234.6 L296.7,234.9 L297.2,234.9 L297.7,235.3 L298.1,235.4 L298.6,235.6 L299.1,235.5 L299.5,235.9 L300.0,236.0 L300.5,235.8 L300.9,235.8 L301.4,236.0 L301.9,236.4 L302.3,236.3 L302.8,236.3 L303.3,236.5 L303.7,236.8 L304.2,236.7 L304.7,237.0 L305.1,237.0 L305.6,236.7 L306.1,236.9 L306.5,237.3 L307.0,237.4 L307.5,237.2 L307.9,237.4 L308.4,237.3 L308.9,237.5 L309.3,237.5 L309.8,237.5 L310.3,237.8 L310.7,237.9 L311.2,237.9 L311.7,237.9 L312.1,237.9 L312.6,237.9 L313.1,238.0 L313.5,237.9 L314.0,238.2 L314.5,237.9 L314.9,237.9 L315.4,238.1 L315.9,238.2 L316.3,238.1 L316.8,238.2 L317.3,238.2 L317.7,238.2 L318.2,238.2 L318.7,238.3 L319.1,238.1 L319.6,238.2 L320.1,238.6 L320.5,238.5 L321.0,238.6 L321.5,238.7 L321.9,238.7 L322.4,238.7 L322.9,238.9 L323.3,238.7 L323.8,238.8 L324.3,238.5 L324.7,238.7 L325.2,238.9 L325.7,238.8 L326.1,238.6 L326.6,238.7 L327.1,238.9 L327.5,238.9 L328.0,239.1 L328.5,239.0 L328.9,239.0 L329.4,239.1 L329.9,238.8 L330.3,239.2 L330.8,239.0 L331.3,239.0 L331.7,239.0 L332.2,238.9 L332.7,239.3 L333.1,239.2 L333.6,239.1 L334.1,239.1 L334.6,239.2 L335.0,239.2 L335.5,239.0 L336.0,239.3 L336.4,239.2 L336.9,239.0 L337.4,239.0 L337.8,239.1 L338.3,239.3 L338.8,239.3 L339.2,239.3 L339.7,239.4 L340.2,239.3 L340.6,239.1 L341.1,239.2 L341.6,239.4 L342.0,239.4 L342.5,239.4 L343.0,239.1 L343.4,239.5 L343.9,239.3 L344.4,239.5 L344.8,239.4 L345.3,239.5 L345.8,239.2 L346.2,239.3 L346.7,239.0 L347.2,239.5 L347.6,239.5 L348.1,239.3 L348.6,239.3 L349.0,239.4 L349.5,239.6 L350.0,239.2 L350.4,239.3 L350.9,239.3" fill="none" stroke="#422a90" stroke-width="1.3" stroke-linejoin="round" opacity="1" clip-path="url(#c1)"/>
<path d="M208.5,239.4 L208.9,239.5 L209.4,239.5 L209.9,239.4 L210.3,239.4 L210.8,239.6 L211.3,239.3 L211.7,239.7 L212.2,239.6 L212.7,239.2 L213.1,239.5 L213.6,239.4 L214.1,239.6 L214.5,239.5 L215.0,239.6 L215.5,239.5 L215.9,239.4 L216.4,240.2 L216.9,240.3 L217.3,240.2 L217.8,240.6 L218.3,240.0 L218.7,238.7 L219.2,238.4 L219.7,237.8 L220.1,237.6 L220.6,237.1 L221.1,236.9 L221.5,236.4 L222.0,236.1 L222.5,235.9 L222.9,235.7 L223.4,235.3 L223.9,235.0 L224.3,234.8 L224.8,234.7 L225.3,234.4 L225.7,234.1 L226.2,234.3 L226.7,233.8 L227.1,233.8 L227.6,233.4 L228.1,233.4 L228.5,233.2 L229.0,233.2 L229.5,232.9 L229.9,232.7 L230.4,232.5 L230.9,232.7 L231.3,232.5 L231.8,231.8 L232.3,232.1 L232.7,232.1 L233.2,231.9 L233.7,232.2 L234.1,231.6 L234.6,231.7 L235.1,231.8 L235.5,231.4 L236.0,231.6 L236.5,231.5 L236.9,231.3 L237.4,231.2 L237.9,231.3 L238.3,231.2 L238.8,231.3 L239.3,231.2 L239.7,230.9 L240.2,230.8 L240.7,230.8 L241.2,230.8 L241.6,230.8 L242.1,230.7 L242.6,230.8 L243.0,230.4 L243.5,230.7 L244.0,230.5 L244.4,230.5 L244.9,230.7 L245.4,230.2 L245.8,230.5 L246.3,230.5 L246.8,230.3 L247.2,230.4 L247.7,230.3 L248.2,230.4 L248.6,230.2 L249.1,230.2 L249.6,230.3 L250.0,230.0 L250.5,230.1 L251.0,230.2 L251.4,230.0 L251.9,230.0 L252.4,229.8 L252.8,230.1 L253.3,229.9 L253.8,230.0 L254.2,229.9 L254.7,229.9 L255.2,229.9 L255.6,229.8 L256.1,230.0 L256.6,230.1 L257.0,229.8 L257.5,229.9 L258.0,229.8 L258.4,229.7 L258.9,229.8 L259.4,229.6 L259.8,229.7 L260.3,229.7 L260.8,229.6 L261.2,229.6 L261.7,229.7 L262.2,229.6 L262.6,229.7 L263.1,229.7 L263.6,229.6 L264.0,229.5 L264.5,229.6 L265.0,229.5 L265.4,229.3 L265.9,229.3 L266.4,229.5 L266.8,229.4 L267.3,229.4 L267.8,229.4 L268.2,229.4 L268.7,229.4 L269.2,229.4 L269.6,229.4 L270.1,229.5 L270.6,229.4 L271.0,229.4 L271.5,229.3 L272.0,229.4 L272.4,229.3 L272.9,229.2 L273.4,229.5 L273.8,229.4 L274.3,229.4 L274.8,229.5 L275.2,229.8 L275.7,229.7 L276.2,230.0 L276.6,230.4 L277.1,230.2 L277.6,230.9 L278.0,231.0 L278.5,231.3 L279.0,231.4 L279.4,231.6 L279.9,232.0 L280.4,232.1 L280.8,232.3 L281.3,232.7 L281.8,232.6 L282.2,232.9 L282.7,233.2 L283.2,233.4 L283.6,233.6 L284.1,233.7 L284.6,233.9 L285.0,233.9 L285.5,234.5 L286.0,234.7 L286.4,234.6 L286.9,234.9 L287.4,234.8 L287.9,235.1 L288.3,235.0 L288.8,235.2 L289.3,235.2 L289.7,235.4 L290.2,235.5 L290.7,235.7 L291.1,235.7 L291.6,235.9 L292.1,236.2 L292.5,236.3 L293.0,236.4 L293.5,236.3 L293.9,236.8 L294.4,236.5 L294.9,236.8 L295.3,236.7 L295.8,236.8 L296.3,237.0 L296.7,237.0 L297.2,237.3 L297.7,237.1 L298.1,237.2 L298.6,237.5 L299.1,237.2 L299.5,237.4 L300.0,237.5 L300.5,237.7 L300.9,237.5 L301.4,237.6 L301.9,237.7 L302.3,237.9 L302.8,237.7 L303.3,237.7 L303.7,237.9 L304.2,237.8 L304.7,238.1 L305.1,238.0 L305.6,238.1 L306.1,238.1 L306.5,237.8 L307.0,238.2 L307.5,238.3 L307.9,238.2 L308.4,238.5 L308.9,238.3 L309.3,238.3 L309.8,238.5 L310.3,238.5 L310.7,238.6 L311.2,238.5 L311.7,238.6 L312.1,238.4 L312.6,238.5 L313.1,238.7 L313.5,238.8 L314.0,238.4 L314.5,238.6 L314.9,238.7 L315.4,238.7 L315.9,238.8 L316.3,238.9 L316.8,238.6 L317.3,238.8 L317.7,239.0 L318.2,238.8 L318.7,239.1 L319.1,238.7 L319.6,238.8 L320.1,238.7 L320.5,238.7 L321.0,239.1 L321.5,238.9 L321.9,238.9 L322.4,238.9 L322.9,239.1 L323.3,239.0 L323.8,239.0 L324.3,238.9 L324.7,239.1 L325.2,239.1 L325.7,239.2 L326.1,239.2 L326.6,239.2 L327.1,239.2 L327.5,239.1 L328.0,239.1 L328.5,239.0 L328.9,239.1 L329.4,239.1 L329.9,239.4 L330.3,239.2 L330.8,239.1 L331.3,239.4 L331.7,239.4 L332.2,239.4 L332.7,239.4 L333.1,239.3 L333.6,239.4 L334.1,239.2 L334.6,239.4 L335.0,239.3 L335.5,239.4 L336.0,239.4 L336.4,239.2 L336.9,239.3 L337.4,239.3 L337.8,239.4 L338.3,239.2 L338.8,239.3 L339.2,239.4 L339.7,239.6 L340.2,239.3 L340.6,239.3 L341.1,239.3 L341.6,239.3 L342.0,239.4 L342.5,239.3 L343.0,239.5 L343.4,239.4 L343.9,239.3 L344.4,239.5 L344.8,239.5 L345.3,239.2 L345.8,239.3 L346.2,239.4 L346.7,239.5 L347.2,239.7 L347.6,239.6 L348.1,239.4 L348.6,239.3 L349.0,239.7 L349.5,239.5 L350.0,239.2 L350.4,239.3 L350.9,239.4" fill="none" stroke="#482a80" stroke-width="1.3" stroke-linejoin="round" opacity="1" clip-path="url(#c1)"/>
<path d="M208.5,239.5 L208.9,239.4 L209.4,239.5 L209.9,239.4 L210.3,239.4 L210.8,239.3 L211.3,239.4 L211.7,239.7 L212.2,239.5 L212.7,239.5 L213.1,239.4 L213.6,239.5 L214.1,239.3 L214.5,239.4 L215.0,239.6 L215.5,239.6 L215.9,239.7 L216.4,240.2 L216.9,240.4 L217.3,240.4 L217.8,240.7 L218.3,240.4 L218.7,239.2 L219.2,239.0 L219.7,238.8 L220.1,238.5 L220.6,238.4 L221.1,238.2 L221.5,238.3 L222.0,237.7 L222.5,237.8 L222.9,237.5 L223.4,237.6 L223.9,237.4 L224.3,237.1 L224.8,237.1 L225.3,236.9 L225.7,236.9 L226.2,236.5 L226.7,236.9 L227.1,236.7 L227.6,236.4 L228.1,236.4 L228.5,236.4 L229.0,236.5 L229.5,236.0 L229.9,236.3 L230.4,235.9 L230.9,235.9 L231.3,235.8 L231.8,235.6 L232.3,235.8 L232.7,235.8 L233.2,235.6 L233.7,235.8 L234.1,235.4 L234.6,235.5 L235.1,235.4 L235.5,235.5 L236.0,235.3 L236.5,235.3 L236.9,235.2 L237.4,235.3 L237.9,235.0 L238.3,235.2 L238.8,235.4 L239.3,234.9 L239.7,235.0 L240.2,235.0 L240.7,234.6 L241.2,234.9 L241.6,235.0 L242.1,234.9 L242.6,234.7 L243.0,234.8 L243.5,234.6 L244.0,234.6 L244.4,234.8 L244.9,234.6 L245.4,234.5 L245.8,234.6 L246.3,234.6 L246.8,234.4 L247.2,234.5 L247.7,234.7 L248.2,234.6 L248.6,234.5 L249.1,234.5 L249.6,234.5 L250.0,234.2 L250.5,234.5 L251.0,234.5 L251.4,234.3 L251.9,234.6 L252.4,234.5 L252.8,234.2 L253.3,234.5 L253.8,234.4 L254.2,234.1 L254.7,234.2 L255.2,234.2 L255.6,234.2 L256.1,234.3 L256.6,234.2 L257.0,234.2 L257.5,233.9 L258.0,234.1 L258.4,234.2 L258.9,234.1 L259.4,234.1 L259.8,234.3 L260.3,234.2 L260.8,233.9 L261.2,234.3 L261.7,234.2 L262.2,233.9 L262.6,233.9 L263.1,234.2 L263.6,233.9 L264.0,234.1 L264.5,233.8 L265.0,234.0 L265.4,234.0 L265.9,233.9 L266.4,233.9 L266.8,234.1 L267.3,233.7 L267.8,234.0 L268.2,233.8 L268.7,234.0 L269.2,234.2 L269.6,234.1 L270.1,234.0 L270.6,233.8 L271.0,233.7 L271.5,233.9 L272.0,233.9 L272.4,234.1 L272.9,233.9 L273.4,233.9 L273.8,234.2 L274.3,233.8 L274.8,233.8 L275.2,233.8 L275.7,234.3 L276.2,234.2 L276.6,234.4 L277.1,234.7 L277.6,234.7 L278.0,234.9 L278.5,234.8 L279.0,235.0 L279.4,235.0 L279.9,235.3 L280.4,235.6 L280.8,235.5 L281.3,235.6 L281.8,235.7 L282.2,235.7 L282.7,236.1 L283.2,236.0 L283.6,236.3 L284.1,236.3 L284.6,236.3 L285.0,236.5 L285.5,236.6 L286.0,236.8 L286.4,236.8 L286.9,236.8 L287.4,237.1 L287.9,237.1 L288.3,236.8 L288.8,237.1 L289.3,237.3 L289.7,237.4 L290.2,237.2 L290.7,237.8 L291.1,237.5 L291.6,237.5 L292.1,237.7 L292.5,237.6 L293.0,237.9 L293.5,237.8 L293.9,237.8 L294.4,237.9 L294.9,237.9 L295.3,238.0 L295.8,237.9 L296.3,238.1 L296.7,238.2 L297.2,238.2 L297.7,238.2 L298.1,238.4 L298.6,238.5 L299.1,238.5 L299.5,238.3 L300.0,238.5 L300.5,238.5 L300.9,238.1 L301.4,238.4 L301.9,238.6 L302.3,238.6 L302.8,238.4 L303.3,238.7 L303.7,238.5 L304.2,238.6 L304.7,238.5 L305.1,238.8 L305.6,238.6 L306.1,239.0 L306.5,238.8 L307.0,238.7 L307.5,238.7 L307.9,239.1 L308.4,238.8 L308.9,238.8 L309.3,238.9 L309.8,239.0 L310.3,239.0 L310.7,239.0 L311.2,238.9 L311.7,238.9 L312.1,238.9 L312.6,238.9 L313.1,239.2 L313.5,239.0 L314.0,238.8 L314.5,239.2 L314.9,239.1 L315.4,239.2 L315.9,239.2 L316.3,239.1 L316.8,239.0 L317.3,239.0 L317.7,239.1 L318.2,239.0 L318.7,239.3 L319.1,239.0 L319.6,239.1 L320.1,239.2 L320.5,239.2 L321.0,239.3 L321.5,239.1 L321.9,239.4 L322.4,239.4 L322.9,239.3 L323.3,239.4 L323.8,239.3 L324.3,239.1 L324.7,239.3 L325.2,239.3 L325.7,239.0 L326.1,239.5 L326.6,239.3 L327.1,239.2 L327.5,239.1 L328.0,239.1 L328.5,239.4 L328.9,239.3 L329.4,239.4 L329.9,239.4 L330.3,239.5 L330.8,239.6 L331.3,239.3 L331.7,239.3 L332.2,239.5 L332.7,239.3 L333.1,239.5 L333.6,239.5 L334.1,239.7 L334.6,239.3 L335.0,239.3 L335.5,239.4 L336.0,239.5 L336.4,239.6 L336.9,239.4 L337.4,239.4 L337.8,239.4 L338.3,239.4 L338.8,239.6 L339.2,239.6 L339.7,239.4 L340.2,239.6 L340.6,239.4 L341.1,239.3 L341.6,239.6 L342.0,239.4 L342.5,239.4 L343.0,239.4 L343.4,239.5 L343.9,239.5 L344.4,239.4 L344.8,239.2 L345.3,239.4 L345.8,239.4 L346.2,239.6 L346.7,239.4 L347.2,239.5 L347.6,239.5 L348.1,239.4 L348.6,239.3 L349.0,239.4 L349.5,239.4 L350.0,239.5 L350.4,239.3 L350.9,239.6" fill="none" stroke="#50306e" stroke-width="1.3" stroke-linejoin="round" opacity="1" clip-path="url(#c1)"/>
<path d="M208.5,239.5 L208.9,239.5 L209.4,239.6 L209.9,239.6 L210.3,239.4 L210.8,239.5 L211.3,239.5 L211.7,239.3 L212.2,239.3 L212.7,239.4 L213.1,239.4 L213.6,239.5 L214.1,239.5 L214.5,239.3 L215.0,239.6 L215.5,239.5 L215.9,239.7 L216.4,240.5 L216.9,240.4 L217.3,240.4 L217.8,240.5 L218.3,240.2 L218.7,239.1 L219.2,239.0 L219.7,239.3 L220.1,239.1 L220.6,239.0 L221.1,238.8 L221.5,238.9 L222.0,238.6 L222.5,238.5 L222.9,238.4 L223.4,238.6 L223.9,238.3 L224.3,238.3 L224.8,238.3 L225.3,238.0 L225.7,238.1 L226.2,237.8 L226.7,238.0 L227.1,237.7 L227.6,237.6 L228.1,237.9 L228.5,237.7 L229.0,237.7 L229.5,237.8 L229.9,237.5 L230.4,237.5 L230.9,237.6 L231.3,237.5 L231.8,237.3 L232.3,237.4 L232.7,237.4 L233.2,237.1 L233.7,237.4 L234.1,237.2 L234.6,237.1 L235.1,237.1 L235.5,237.4 L236.0,237.2 L236.5,237.1 L236.9,237.1 L237.4,237.0 L237.9,236.9 L238.3,237.0 L238.8,236.9 L239.3,236.8 L239.7,236.8 L240.2,237.1 L240.7,236.6 L241.2,236.9 L241.6,236.7 L242.1,237.0 L242.6,236.9 L243.0,236.9 L243.5,236.6 L244.0,236.6 L244.4,236.7 L244.9,236.7 L245.4,236.6 L245.8,236.8 L246.3,236.7 L246.8,236.7 L247.2,236.5 L247.7,236.6 L248.2,236.8 L248.6,236.5 L249.1,236.5 L249.6,236.4 L250.0,236.6 L250.5,236.5 L251.0,236.3 L251.4,236.6 L251.9,236.5 L252.4,236.4 L252.8,236.5 L253.3,236.5 L253.8,236.5 L254.2,236.6 L254.7,236.3 L255.2,236.5 L255.6,236.6 L256.1,236.5 L256.6,236.4 L257.0,236.4 L257.5,236.3 L258.0,236.2 L258.4,236.5 L258.9,236.4 L259.4,236.6 L259.8,236.3 L260.3,236.3 L260.8,236.4 L261.2,236.5 L261.7,236.5 L262.2,236.5 L262.6,236.2 L263.1,236.1 L263.6,236.5 L264.0,236.1 L264.5,236.3 L265.0,236.5 L265.4,236.2 L265.9,236.2 L266.4,236.2 L266.8,236.3 L267.3,236.1 L267.8,236.3 L268.2,236.2 L268.7,236.2 L269.2,236.4 L269.6,236.5 L270.1,236.5 L270.6,236.3 L271.0,236.2 L271.5,236.5 L272.0,236.3 L272.4,236.0 L272.9,236.4 L273.4,236.2 L273.8,236.2 L274.3,236.1 L274.8,236.4 L275.2,236.3 L275.7,236.5 L276.2,236.3 L276.6,236.6 L277.1,236.5 L277.6,236.7 L278.0,236.7 L278.5,237.0 L279.0,236.8 L279.4,236.9 L279.9,237.0 L280.4,236.9 L280.8,237.1 L281.3,237.1 L281.8,237.2 L282.2,237.1 L282.7,237.5 L283.2,237.5 L283.6,237.6 L284.1,237.5 L284.6,237.6 L285.0,237.6 L285.5,237.8 L286.0,237.9 L286.4,237.9 L286.9,237.9 L287.4,238.3 L287.9,237.9 L288.3,238.2 L288.8,238.2 L289.3,238.1 L289.7,238.2 L290.2,238.4 L290.7,238.3 L291.1,238.1 L291.6,238.2 L292.1,238.2 L292.5,238.5 L293.0,238.5 L293.5,238.4 L293.9,238.3 L294.4,238.5 L294.9,238.7 L295.3,238.9 L295.8,238.5 L296.3,238.9 L296.7,238.6 L297.2,238.6 L297.7,238.3 L298.1,238.7 L298.6,238.8 L299.1,238.7 L299.5,238.8 L300.0,238.7 L300.5,238.8 L300.9,239.0 L301.4,239.2 L301.9,238.9 L302.3,239.0 L302.8,238.8 L303.3,239.1 L303.7,239.0 L304.2,239.1 L304.7,239.1 L305.1,238.8 L305.6,239.0 L306.1,239.1 L306.5,239.0 L307.0,239.2 L307.5,239.1 L307.9,239.2 L308.4,238.9 L308.9,239.1 L309.3,239.1 L309.8,239.0 L310.3,239.2 L310.7,239.2 L311.2,239.4 L311.7,239.1 L312.1,239.2 L312.6,239.3 L313.1,239.1 L313.5,239.5 L314.0,239.2 L314.5,239.4 L314.9,239.4 L315.4,239.3 L315.9,239.1 L316.3,239.4 L316.8,239.4 L317.3,239.4 L317.7,239.0 L318.2,239.2 L318.7,239.2 L319.1,239.0 L319.6,239.3 L320.1,239.6 L320.5,239.4 L321.0,239.5 L321.5,239.1 L321.9,239.5 L322.4,239.3 L322.9,239.4 L323.3,239.4 L323.8,239.4 L324.3,239.4 L324.7,239.5 L325.2,239.5 L325.7,239.5 L326.1,239.5 L326.6,239.5 L327.1,239.4 L327.5,239.4 L328.0,239.3 L328.5,239.4 L328.9,239.2 L329.4,239.5 L329.9,239.5 L330.3,239.3 L330.8,239.5 L331.3,239.4 L331.7,239.3 L332.2,239.4 L332.7,239.5 L333.1,239.3 L333.6,239.4 L334.1,239.5 L334.6,239.6 L335.0,239.5 L335.5,239.7 L336.0,239.6 L336.4,239.6 L336.9,239.4 L337.4,239.3 L337.8,239.5 L338.3,239.5 L338.8,239.6 L339.2,239.6 L339.7,239.5 L340.2,239.4 L340.6,239.4 L341.1,239.4 L341.6,239.5 L342.0,239.8 L342.5,239.3 L343.0,239.3 L343.4,239.3 L343.9,239.4 L344.4,239.3 L344.8,239.1 L345.3,239.4 L345.8,239.3 L346.2,239.4 L346.7,239.4 L347.2,239.5 L347.6,239.5 L348.1,239.6 L348.6,239.4 L349.0,239.5 L349.5,239.6 L350.0,239.6 L350.4,239.6 L350.9,239.3" fill="none" stroke="#553060" stroke-width="1.3" stroke-linejoin="round" opacity="1" clip-path="url(#c1)"/>
<path d="M356.6,239.5 L357.0,239.5 L357.5,239.6 L358.0,239.6 L358.4,239.5 L358.9,239.4 L359.4,239.3 L359.8,239.5 L360.3,239.6 L360.8,239.6 L361.2,239.5 L361.7,239.5 L362.2,239.7 L362.6,239.4 L363.1,239.5 L363.6,239.5 L364.0,239.6 L364.5,240.4 L365.0,240.2 L365.4,240.4 L365.9,240.3 L366.4,240.3 L366.8,239.3 L367.3,239.4 L367.8,239.5 L368.2,239.5 L368.7,239.4 L369.2,239.4 L369.6,239.5 L370.1,239.4 L370.6,239.5 L371.0,239.7 L371.5,239.6 L372.0,239.4 L372.4,239.3 L372.9,239.4 L373.4,239.5 L373.8,239.6 L374.3,239.4 L374.8,239.5 L375.2,239.7 L375.7,239.4 L376.2,239.6 L376.6,239.4 L377.1,239.4 L377.6,239.4 L378.0,239.4 L378.5,239.4 L379.0,239.6 L379.4,239.6 L379.9,239.4 L380.4,239.4 L380.8,239.7 L381.3,239.7 L381.8,239.4 L382.2,239.3 L382.7,239.4 L383.2,239.5 L383.6,239.5 L384.1,239.8 L384.6,239.6 L385.0,239.4 L385.5,239.4 L386.0,239.7 L386.4,239.4 L386.9,239.4 L387.4,239.4 L387.8,239.5 L388.3,239.5 L388.8,239.6 L389.2,239.5 L389.7,239.4 L390.2,239.6 L390.7,239.5 L391.1,239.6 L391.6,239.4 L392.1,239.4 L392.5,239.8 L393.0,239.5 L393.5,239.4 L393.9,239.6 L394.4,239.5 L394.9,239.5 L395.3,239.6 L395.8,239.5 L396.3,239.3 L396.7,239.4 L397.2,239.3 L397.7,239.4 L398.1,239.4 L398.6,239.5 L399.1,239.4 L399.5,239.3 L400.0,239.3 L400.5,239.5 L400.9,239.6 L401.4,239.6 L401.9,239.5 L402.3,239.5 L402.8,239.7 L403.3,239.5 L403.7,239.5 L404.2,239.5 L404.7,239.6 L405.1,239.3 L405.6,239.4 L406.1,239.6 L406.5,239.6 L407.0,239.4 L407.5,239.4 L407.9,239.5 L408.4,239.5 L408.9,239.5 L409.3,239.5 L409.8,239.6 L410.3,239.4 L410.7,239.8 L411.2,239.6 L411.7,239.4 L412.1,239.6 L412.6,239.6 L413.1,239.3 L413.5,239.4 L414.0,239.5 L414.5,239.6 L414.9,239.5 L415.4,239.5 L415.9,239.5 L416.3,239.6 L416.8,239.4 L417.3,239.6 L417.7,239.7 L418.2,239.6 L418.7,239.5 L419.1,239.6 L419.6,239.8 L420.1,239.3 L420.5,239.5 L421.0,239.6 L421.5,239.6 L421.9,239.5 L422.4,239.4 L422.9,239.6 L423.3,239.5 L423.8,239.6 L424.3,239.5 L424.7,239.6 L425.2,239.7 L425.7,239.5 L426.1,239.5 L426.6,239.4 L427.1,239.6 L427.5,239.4 L428.0,239.5 L428.5,239.3 L428.9,239.5 L429.4,239.3 L429.9,239.5 L430.3,239.5 L430.8,239.4 L431.3,239.7 L431.7,239.6 L432.2,239.3 L432.7,239.7 L433.1,239.6 L433.6,239.4 L434.1,239.4 L434.5,239.6 L435.0,239.5 L435.5,239.6 L435.9,239.5 L436.4,239.4 L436.9,239.5 L437.4,239.5 L437.8,239.5 L438.3,239.5 L438.8,239.5 L439.2,239.5 L439.7,239.6 L440.2,239.4 L440.6,239.6 L441.1,239.4 L441.6,239.3 L442.0,239.3 L442.5,239.3 L443.0,239.6 L443.4,239.5 L443.9,239.6 L444.4,239.6 L444.8,239.7 L445.3,239.6 L445.8,239.4 L446.2,239.4 L446.7,239.4 L447.2,239.4 L447.6,239.4 L448.1,239.6 L448.6,239.5 L449.0,239.4 L449.5,239.4 L450.0,239.5 L450.4,239.6 L450.9,239.5 L451.4,239.3 L451.8,239.4 L452.3,239.5 L452.8,239.6 L453.2,239.5 L453.7,239.7 L454.2,239.5 L454.6,239.6 L455.1,239.6 L455.6,239.5 L456.0,239.5 L456.5,239.2 L457.0,239.5 L457.4,239.4 L457.9,239.6 L458.4,239.7 L458.8,239.4 L459.3,239.3 L459.8,239.6 L460.2,239.5 L460.7,239.4 L461.2,239.5 L461.6,239.8 L462.1,239.4 L462.6,239.5 L463.0,239.4 L463.5,239.6 L464.0,239.4 L464.4,239.4 L464.9,239.6 L465.4,239.4 L465.8,239.6 L466.3,239.6 L466.8,239.6 L467.2,239.5 L467.7,239.6 L468.2,239.4 L468.6,239.5 L469.1,239.6 L469.6,239.4 L470.0,239.4 L470.5,239.4 L471.0,239.5 L471.4,239.4 L471.9,239.5 L472.4,239.6 L472.8,239.5 L473.3,239.5 L473.8,239.5 L474.2,239.4 L474.7,239.7 L475.2,239.5 L475.6,239.6 L476.1,239.5 L476.6,239.4 L477.0,239.5 L477.5,239.6 L478.0,239.4 L478.4,239.5 L478.9,239.4 L479.4,239.4 L479.8,239.5 L480.3,239.6 L480.8,239.5 L481.2,239.4 L481.7,239.5 L482.2,239.6 L482.6,239.7 L483.1,239.6 L483.6,239.6 L484.1,239.4 L484.5,239.5 L485.0,239.4 L485.5,239.5 L485.9,239.3 L486.4,239.5 L486.9,239.4 L487.3,239.5 L487.8,239.4 L488.3,239.4 L488.7,239.4 L489.2,239.4 L489.7,239.6 L490.1,239.4 L490.6,239.3 L491.1,239.5 L491.5,239.5 L492.0,239.5 L492.5,239.5 L492.9,239.5 L493.4,239.3 L493.9,239.4 L494.3,239.5 L494.8,239.6 L495.3,239.6 L495.7,239.2 L496.2,239.5 L496.7,239.5 L497.1,239.5 L497.6,239.5 L498.1,239.5 L498.5,239.5 L499.0,239.3" fill="none" stroke="#1c1c40" stroke-width="1.6" stroke-linejoin="round" opacity="1" clip-path="url(#c2)"/>
<path d="M356.6,239.5 L357.0,239.5 L357.5,239.5 L358.0,239.5 L358.4,239.5 L358.9,239.5 L359.4,239.5 L359.8,239.5 L360.3,239.5 L360.8,239.5 L361.2,239.5 L361.7,239.5 L362.2,239.5 L362.6,239.5 L363.1,239.5 L363.6,239.5 L364.0,239.5 L364.5,239.5 L365.0,239.5 L365.4,239.5 L365.9,239.5 L366.4,234.1 L366.8,229.1 L367.3,224.5 L367.8,220.2 L368.2,216.3 L368.7,212.7 L369.2,209.3 L369.6,206.2 L370.1,203.4 L370.6,200.8 L371.0,198.3 L371.5,196.1 L372.0,194.0 L372.4,192.1 L372.9,190.3 L373.4,188.7 L373.8,187.2 L374.3,185.8 L374.8,184.5 L375.2,183.3 L375.7,182.3 L376.2,181.2 L376.6,180.3 L377.1,179.5 L377.6,178.7 L378.0,177.9 L378.5,177.3 L379.0,176.6 L379.4,176.1 L379.9,175.5 L380.4,175.0 L380.8,174.6 L381.3,174.2 L381.8,173.8 L382.2,173.4 L382.7,173.1 L383.2,172.8 L383.6,172.5 L384.1,172.2 L384.6,172.0 L385.0,171.8 L385.5,171.6 L386.0,171.4 L386.4,171.2 L386.9,171.1 L387.4,170.9 L387.8,170.8 L388.3,170.7 L388.8,170.5 L389.2,170.4 L389.7,170.3 L390.2,170.2 L390.7,170.2 L391.1,170.1 L391.6,170.0 L392.1,169.9 L392.5,169.9 L393.0,169.8 L393.5,169.8 L393.9,169.7 L394.4,169.7 L394.9,169.6 L395.3,169.6 L395.8,169.6 L396.3,169.5 L396.7,169.5 L397.2,169.5 L397.7,169.4 L398.1,169.4 L398.6,169.4 L399.1,169.4 L399.5,169.4 L400.0,169.3 L400.5,169.3 L400.9,169.3 L401.4,169.3 L401.9,169.3 L402.3,169.3 L402.8,169.3 L403.3,169.3 L403.7,169.3 L404.2,169.2 L404.7,169.2 L405.1,169.2 L405.6,169.2 L406.1,169.2 L406.5,169.2 L407.0,169.2 L407.5,169.2 L407.9,169.2 L408.4,169.2 L408.9,169.2 L409.3,169.2 L409.8,169.2 L410.3,169.2 L410.7,169.2 L411.2,169.2 L411.7,169.2 L412.1,169.2 L412.6,169.2 L413.1,169.2 L413.5,169.2 L414.0,169.2 L414.5,169.2 L414.9,169.2 L415.4,169.2 L415.9,169.2 L416.3,169.2 L416.8,169.2 L417.3,169.2 L417.7,169.2 L418.2,169.2 L418.7,169.2 L419.1,169.2 L419.6,169.1 L420.1,169.1 L420.5,169.1 L421.0,169.1 L421.5,169.6 L421.9,170.8 L422.4,172.3 L422.9,174.0 L423.3,175.7 L423.8,177.5 L424.3,179.2 L424.7,181.0 L425.2,182.7 L425.7,184.3 L426.1,185.9 L426.6,187.5 L427.1,189.0 L427.5,190.5 L428.0,191.9 L428.5,193.3 L428.9,194.6 L429.4,195.9 L429.9,197.2 L430.3,198.4 L430.8,199.6 L431.3,200.8 L431.7,201.9 L432.2,203.0 L432.7,204.1 L433.1,205.1 L433.6,206.1 L434.1,207.1 L434.5,208.0 L435.0,209.0 L435.5,209.8 L435.9,210.7 L436.4,211.5 L436.9,212.4 L437.4,213.2 L437.8,213.9 L438.3,214.7 L438.8,215.4 L439.2,216.1 L439.7,216.8 L440.2,217.4 L440.6,218.1 L441.1,218.7 L441.6,219.3 L442.0,219.9 L442.5,220.5 L443.0,221.0 L443.4,221.6 L443.9,222.1 L444.4,222.6 L444.8,223.1 L445.3,223.6 L445.8,224.0 L446.2,224.5 L446.7,224.9 L447.2,225.3 L447.6,225.8 L448.1,226.2 L448.6,226.5 L449.0,226.9 L449.5,227.3 L450.0,227.6 L450.4,228.0 L450.9,228.3 L451.4,228.7 L451.8,229.0 L452.3,229.3 L452.8,229.6 L453.2,229.9 L453.7,230.1 L454.2,230.4 L454.6,230.7 L455.1,230.9 L455.6,231.2 L456.0,231.4 L456.5,231.7 L457.0,231.9 L457.4,232.1 L457.9,232.3 L458.4,232.5 L458.8,232.7 L459.3,232.9 L459.8,233.1 L460.2,233.3 L460.7,233.5 L461.2,233.7 L461.6,233.8 L462.1,234.0 L462.6,234.2 L463.0,234.3 L463.5,234.5 L464.0,234.6 L464.4,234.8 L464.9,234.9 L465.4,235.0 L465.8,235.2 L466.3,235.3 L466.8,235.4 L467.2,235.5 L467.7,235.6 L468.2,235.8 L468.6,235.9 L469.1,236.0 L469.6,236.1 L470.0,236.2 L470.5,236.3 L471.0,236.4 L471.4,236.5 L471.9,236.5 L472.4,236.6 L472.8,236.7 L473.3,236.8 L473.8,236.9 L474.2,237.0 L474.7,237.0 L475.2,237.1 L475.6,237.2 L476.1,237.2 L476.6,237.3 L477.0,237.4 L477.5,237.4 L478.0,237.5 L478.4,237.5 L478.9,237.6 L479.4,237.7 L479.8,237.7 L480.3,237.8 L480.8,237.8 L481.2,237.9 L481.7,237.9 L482.2,238.0 L482.6,238.0 L483.1,238.0 L483.6,238.1 L484.1,238.1 L484.5,238.2 L485.0,238.2 L485.5,238.2 L485.9,238.3 L486.4,238.3 L486.9,238.4 L487.3,238.4 L487.8,238.4 L488.3,238.5 L488.7,238.5 L489.2,238.5 L489.7,238.5 L490.1,238.6 L490.6,238.6 L491.1,238.6 L491.5,238.6 L492.0,238.7 L492.5,238.7 L492.9,238.7 L493.4,238.7 L493.9,238.8 L494.3,238.8 L494.8,238.8 L495.3,238.8 L495.7,238.8 L496.2,238.9 L496.7,238.9 L497.1,238.9 L497.6,238.9 L498.1,238.9 L498.5,239.0 L499.0,239.0" fill="none" stroke="#e3a85a" stroke-width="0.9" stroke-linejoin="round" opacity="1" clip-path="url(#c2)"/>
<path d="M356.6,239.5 L357.0,239.5 L357.5,239.5 L358.0,239.5 L358.4,239.5 L358.9,239.5 L359.4,239.5 L359.8,239.5 L360.3,239.5 L360.8,239.5 L361.2,239.5 L361.7,239.5 L362.2,239.5 L362.6,239.5 L363.1,239.5 L363.6,239.5 L364.0,239.5 L364.5,239.5 L365.0,239.5 L365.4,239.5 L365.9,239.5 L366.4,236.0 L366.8,232.7 L367.3,229.6 L367.8,226.7 L368.2,224.1 L368.7,221.6 L369.2,219.2 L369.6,217.0 L370.1,215.0 L370.6,213.1 L371.0,211.3 L371.5,209.6 L372.0,208.1 L372.4,206.6 L372.9,205.3 L373.4,204.0 L373.8,202.8 L374.3,201.7 L374.8,200.7 L375.2,199.7 L375.7,198.8 L376.2,198.0 L376.6,197.2 L377.1,196.4 L377.6,195.7 L378.0,195.1 L378.5,194.5 L379.0,193.9 L379.4,193.4 L379.9,192.9 L380.4,192.5 L380.8,192.0 L381.3,191.6 L381.8,191.3 L382.2,190.9 L382.7,190.6 L383.2,190.3 L383.6,190.0 L384.1,189.7 L384.6,189.5 L385.0,189.3 L385.5,189.0 L386.0,188.8 L386.4,188.6 L386.9,188.5 L387.4,188.3 L387.8,188.2 L388.3,188.0 L388.8,187.9 L389.2,187.7 L389.7,187.6 L390.2,187.5 L390.7,187.4 L391.1,187.3 L391.6,187.2 L392.1,187.1 L392.5,187.1 L393.0,187.0 L393.5,186.9 L393.9,186.9 L394.4,186.8 L394.9,186.8 L395.3,186.7 L395.8,186.7 L396.3,186.6 L396.7,186.6 L397.2,186.5 L397.7,186.5 L398.1,186.5 L398.6,186.4 L399.1,186.4 L399.5,186.4 L400.0,186.3 L400.5,186.3 L400.9,186.3 L401.4,186.3 L401.9,186.2 L402.3,186.2 L402.8,186.2 L403.3,186.2 L403.7,186.2 L404.2,186.2 L404.7,186.2 L405.1,186.1 L405.6,186.1 L406.1,186.1 L406.5,186.1 L407.0,186.1 L407.5,186.1 L407.9,186.1 L408.4,186.1 L408.9,186.1 L409.3,186.1 L409.8,186.1 L410.3,186.0 L410.7,186.0 L411.2,186.0 L411.7,186.0 L412.1,186.0 L412.6,186.0 L413.1,186.0 L413.5,186.0 L414.0,186.0 L414.5,186.0 L414.9,186.0 L415.4,186.0 L415.9,186.0 L416.3,186.0 L416.8,186.0 L417.3,186.0 L417.7,186.0 L418.2,186.0 L418.7,186.0 L419.1,186.0 L419.6,186.0 L420.1,186.0 L420.5,186.0 L421.0,186.0 L421.5,186.3 L421.9,187.2 L422.4,188.4 L422.9,189.6 L423.3,191.0 L423.8,192.3 L424.3,193.7 L424.7,195.0 L425.2,196.3 L425.7,197.5 L426.1,198.7 L426.6,199.9 L427.1,201.1 L427.5,202.2 L428.0,203.3 L428.5,204.3 L428.9,205.4 L429.4,206.4 L429.9,207.3 L430.3,208.3 L430.8,209.2 L431.3,210.1 L431.7,210.9 L432.2,211.7 L432.7,212.6 L433.1,213.3 L433.6,214.1 L434.1,214.8 L434.5,215.6 L435.0,216.3 L435.5,216.9 L435.9,217.6 L436.4,218.2 L436.9,218.9 L437.4,219.5 L437.8,220.0 L438.3,220.6 L438.8,221.2 L439.2,221.7 L439.7,222.2 L440.2,222.7 L440.6,223.2 L441.1,223.7 L441.6,224.1 L442.0,224.6 L442.5,225.0 L443.0,225.4 L443.4,225.9 L443.9,226.3 L444.4,226.6 L444.8,227.0 L445.3,227.4 L445.8,227.7 L446.2,228.1 L446.7,228.4 L447.2,228.7 L447.6,229.0 L448.1,229.3 L448.6,229.6 L449.0,229.9 L449.5,230.2 L450.0,230.5 L450.4,230.7 L450.9,231.0 L451.4,231.2 L451.8,231.5 L452.3,231.7 L452.8,231.9 L453.2,232.2 L453.7,232.4 L454.2,232.6 L454.6,232.8 L455.1,233.0 L455.6,233.2 L456.0,233.4 L456.5,233.5 L457.0,233.7 L457.4,233.9 L457.9,234.0 L458.4,234.2 L458.8,234.4 L459.3,234.5 L459.8,234.7 L460.2,234.8 L460.7,234.9 L461.2,235.1 L461.6,235.2 L462.1,235.3 L462.6,235.4 L463.0,235.6 L463.5,235.7 L464.0,235.8 L464.4,235.9 L464.9,236.0 L465.4,236.1 L465.8,236.2 L466.3,236.3 L466.8,236.4 L467.2,236.5 L467.7,236.6 L468.2,236.7 L468.6,236.7 L469.1,236.8 L469.6,236.9 L470.0,237.0 L470.5,237.0 L471.0,237.1 L471.4,237.2 L471.9,237.3 L472.4,237.3 L472.8,237.4 L473.3,237.4 L473.8,237.5 L474.2,237.6 L474.7,237.6 L475.2,237.7 L475.6,237.7 L476.1,237.8 L476.6,237.8 L477.0,237.9 L477.5,237.9 L478.0,238.0 L478.4,238.0 L478.9,238.1 L479.4,238.1 L479.8,238.1 L480.3,238.2 L480.8,238.2 L481.2,238.3 L481.7,238.3 L482.2,238.3 L482.6,238.4 L483.1,238.4 L483.6,238.4 L484.1,238.5 L484.5,238.5 L485.0,238.5 L485.5,238.5 L485.9,238.6 L486.4,238.6 L486.9,238.6 L487.3,238.7 L487.8,238.7 L488.3,238.7 L488.7,238.7 L489.2,238.7 L489.7,238.8 L490.1,238.8 L490.6,238.8 L491.1,238.8 L491.5,238.9 L492.0,238.9 L492.5,238.9 L492.9,238.9 L493.4,238.9 L493.9,238.9 L494.3,239.0 L494.8,239.0 L495.3,239.0 L495.7,239.0 L496.2,239.0 L496.7,239.0 L497.1,239.0 L497.6,239.1 L498.1,239.1 L498.5,239.1 L499.0,239.1" fill="none" stroke="#c89a6a" stroke-width="0.9" stroke-linejoin="round" opacity="1" clip-path="url(#c2)"/>
<path d="M356.6,239.5 L357.0,239.5 L357.5,239.5 L358.0,239.5 L358.4,239.5 L358.9,239.5 L359.4,239.5 L359.8,239.5 L360.3,239.5 L360.8,239.5 L361.2,239.5 L361.7,239.5 L362.2,239.5 L362.6,239.5 L363.1,239.5 L363.6,239.5 L364.0,239.5 L364.5,239.5 L365.0,239.5 L365.4,239.5 L365.9,239.5 L366.4,237.6 L366.8,235.8 L367.3,234.1 L367.8,232.6 L368.2,231.0 L368.7,229.6 L369.2,228.3 L369.6,227.0 L370.1,225.8 L370.6,224.7 L371.0,223.6 L371.5,222.6 L372.0,221.6 L372.4,220.7 L372.9,219.8 L373.4,219.0 L373.8,218.3 L374.3,217.5 L374.8,216.8 L375.2,216.2 L375.7,215.6 L376.2,215.0 L376.6,214.4 L377.1,213.9 L377.6,213.4 L378.0,213.0 L378.5,212.5 L379.0,212.1 L379.4,211.7 L379.9,211.3 L380.4,211.0 L380.8,210.7 L381.3,210.3 L381.8,210.1 L382.2,209.8 L382.7,209.5 L383.2,209.3 L383.6,209.0 L384.1,208.8 L384.6,208.6 L385.0,208.4 L385.5,208.2 L386.0,208.0 L386.4,207.8 L386.9,207.7 L387.4,207.5 L387.8,207.4 L388.3,207.2 L388.8,207.1 L389.2,207.0 L389.7,206.9 L390.2,206.8 L390.7,206.7 L391.1,206.6 L391.6,206.5 L392.1,206.4 L392.5,206.3 L393.0,206.2 L393.5,206.2 L393.9,206.1 L394.4,206.0 L394.9,206.0 L395.3,205.9 L395.8,205.9 L396.3,205.8 L396.7,205.8 L397.2,205.7 L397.7,205.7 L398.1,205.6 L398.6,205.6 L399.1,205.5 L399.5,205.5 L400.0,205.5 L400.5,205.4 L400.9,205.4 L401.4,205.4 L401.9,205.4 L402.3,205.3 L402.8,205.3 L403.3,205.3 L403.7,205.3 L404.2,205.2 L404.7,205.2 L405.1,205.2 L405.6,205.2 L406.1,205.2 L406.5,205.2 L407.0,205.1 L407.5,205.1 L407.9,205.1 L408.4,205.1 L408.9,205.1 L409.3,205.1 L409.8,205.1 L410.3,205.1 L410.7,205.1 L411.2,205.0 L411.7,205.0 L412.1,205.0 L412.6,205.0 L413.1,205.0 L413.5,205.0 L414.0,205.0 L414.5,205.0 L414.9,205.0 L415.4,205.0 L415.9,205.0 L416.3,205.0 L416.8,205.0 L417.3,205.0 L417.7,205.0 L418.2,205.0 L418.7,205.0 L419.1,205.0 L419.6,205.0 L420.1,204.9 L420.5,204.9 L421.0,204.9 L421.5,205.2 L421.9,205.7 L422.4,206.5 L422.9,207.3 L423.3,208.2 L423.8,209.0 L424.3,209.9 L424.7,210.8 L425.2,211.6 L425.7,212.4 L426.1,213.2 L426.6,213.9 L427.1,214.7 L427.5,215.4 L428.0,216.1 L428.5,216.8 L428.9,217.5 L429.4,218.1 L429.9,218.7 L430.3,219.3 L430.8,219.9 L431.3,220.5 L431.7,221.0 L432.2,221.6 L432.7,222.1 L433.1,222.6 L433.6,223.1 L434.1,223.6 L434.5,224.0 L435.0,224.5 L435.5,224.9 L435.9,225.4 L436.4,225.8 L436.9,226.2 L437.4,226.6 L437.8,226.9 L438.3,227.3 L438.8,227.7 L439.2,228.0 L439.7,228.3 L440.2,228.7 L440.6,229.0 L441.1,229.3 L441.6,229.6 L442.0,229.9 L442.5,230.2 L443.0,230.4 L443.4,230.7 L443.9,230.9 L444.4,231.2 L444.8,231.4 L445.3,231.7 L445.8,231.9 L446.2,232.1 L446.7,232.3 L447.2,232.5 L447.6,232.7 L448.1,232.9 L448.6,233.1 L449.0,233.3 L449.5,233.5 L450.0,233.7 L450.4,233.8 L450.9,234.0 L451.4,234.2 L451.8,234.3 L452.3,234.5 L452.8,234.6 L453.2,234.8 L453.7,234.9 L454.2,235.0 L454.6,235.2 L455.1,235.3 L455.6,235.4 L456.0,235.5 L456.5,235.7 L457.0,235.8 L457.4,235.9 L457.9,236.0 L458.4,236.1 L458.8,236.2 L459.3,236.3 L459.8,236.4 L460.2,236.5 L460.7,236.6 L461.2,236.6 L461.6,236.7 L462.1,236.8 L462.6,236.9 L463.0,237.0 L463.5,237.0 L464.0,237.1 L464.4,237.2 L464.9,237.2 L465.4,237.3 L465.8,237.4 L466.3,237.4 L466.8,237.5 L467.2,237.6 L467.7,237.6 L468.2,237.7 L468.6,237.7 L469.1,237.8 L469.6,237.8 L470.0,237.9 L470.5,237.9 L471.0,238.0 L471.4,238.0 L471.9,238.0 L472.4,238.1 L472.8,238.1 L473.3,238.2 L473.8,238.2 L474.2,238.2 L474.7,238.3 L475.2,238.3 L475.6,238.4 L476.1,238.4 L476.6,238.4 L477.0,238.5 L477.5,238.5 L478.0,238.5 L478.4,238.5 L478.9,238.6 L479.4,238.6 L479.8,238.6 L480.3,238.6 L480.8,238.7 L481.2,238.7 L481.7,238.7 L482.2,238.7 L482.6,238.8 L483.1,238.8 L483.6,238.8 L484.1,238.8 L484.5,238.8 L485.0,238.9 L485.5,238.9 L485.9,238.9 L486.4,238.9 L486.9,238.9 L487.3,239.0 L487.8,239.0 L488.3,239.0 L488.7,239.0 L489.2,239.0 L489.7,239.0 L490.1,239.0 L490.6,239.1 L491.1,239.1 L491.5,239.1 L492.0,239.1 L492.5,239.1 L492.9,239.1 L493.4,239.1 L493.9,239.1 L494.3,239.1 L494.8,239.2 L495.3,239.2 L495.7,239.2 L496.2,239.2 L496.7,239.2 L497.1,239.2 L497.6,239.2 L498.1,239.2 L498.5,239.2 L499.0,239.2" fill="none" stroke="#a87a6a" stroke-width="0.9" stroke-linejoin="round" opacity="1" clip-path="url(#c2)"/>
<path d="M356.6,239.5 L357.0,239.5 L357.5,239.5 L358.0,239.5 L358.4,239.5 L358.9,239.5 L359.4,239.5 L359.8,239.5 L360.3,239.5 L360.8,239.5 L361.2,239.5 L361.7,239.5 L362.2,239.5 L362.6,239.5 L363.1,239.5 L363.6,239.5 L364.0,239.5 L364.5,239.5 L365.0,239.5 L365.4,239.5 L365.9,239.5 L366.4,238.5 L366.8,237.6 L367.3,236.7 L367.8,235.8 L368.2,235.0 L368.7,234.2 L369.2,233.4 L369.6,232.7 L370.1,232.1 L370.6,231.4 L371.0,230.8 L371.5,230.2 L372.0,229.6 L372.4,229.1 L372.9,228.6 L373.4,228.1 L373.8,227.7 L374.3,227.2 L374.8,226.8 L375.2,226.4 L375.7,226.0 L376.2,225.7 L376.6,225.3 L377.1,225.0 L377.6,224.7 L378.0,224.4 L378.5,224.1 L379.0,223.8 L379.4,223.5 L379.9,223.3 L380.4,223.1 L380.8,222.8 L381.3,222.6 L381.8,222.4 L382.2,222.2 L382.7,222.0 L383.2,221.9 L383.6,221.7 L384.1,221.5 L384.6,221.4 L385.0,221.2 L385.5,221.1 L386.0,221.0 L386.4,220.8 L386.9,220.7 L387.4,220.6 L387.8,220.5 L388.3,220.4 L388.8,220.3 L389.2,220.2 L389.7,220.1 L390.2,220.0 L390.7,219.9 L391.1,219.9 L391.6,219.8 L392.1,219.7 L392.5,219.6 L393.0,219.6 L393.5,219.5 L393.9,219.5 L394.4,219.4 L394.9,219.3 L395.3,219.3 L395.8,219.2 L396.3,219.2 L396.7,219.2 L397.2,219.1 L397.7,219.1 L398.1,219.0 L398.6,219.0 L399.1,219.0 L399.5,218.9 L400.0,218.9 L400.5,218.9 L400.9,218.8 L401.4,218.8 L401.9,218.8 L402.3,218.8 L402.8,218.7 L403.3,218.7 L403.7,218.7 L404.2,218.7 L404.7,218.7 L405.1,218.6 L405.6,218.6 L406.1,218.6 L406.5,218.6 L407.0,218.6 L407.5,218.6 L407.9,218.5 L408.4,218.5 L408.9,218.5 L409.3,218.5 L409.8,218.5 L410.3,218.5 L410.7,218.5 L411.2,218.5 L411.7,218.5 L412.1,218.4 L412.6,218.4 L413.1,218.4 L413.5,218.4 L414.0,218.4 L414.5,218.4 L414.9,218.4 L415.4,218.4 L415.9,218.4 L416.3,218.4 L416.8,218.4 L417.3,218.4 L417.7,218.4 L418.2,218.4 L418.7,218.4 L419.1,218.4 L419.6,218.3 L420.1,218.3 L420.5,218.3 L421.0,218.3 L421.5,218.5 L421.9,218.8 L422.4,219.3 L422.9,219.8 L423.3,220.3 L423.8,220.8 L424.3,221.4 L424.7,221.9 L425.2,222.4 L425.7,222.9 L426.1,223.4 L426.6,223.9 L427.1,224.3 L427.5,224.7 L428.0,225.2 L428.5,225.6 L428.9,226.0 L429.4,226.4 L429.9,226.8 L430.3,227.1 L430.8,227.5 L431.3,227.9 L431.7,228.2 L432.2,228.5 L432.7,228.8 L433.1,229.2 L433.6,229.5 L434.1,229.8 L434.5,230.0 L435.0,230.3 L435.5,230.6 L435.9,230.8 L436.4,231.1 L436.9,231.3 L437.4,231.6 L437.8,231.8 L438.3,232.0 L438.8,232.2 L439.2,232.5 L439.7,232.7 L440.2,232.9 L440.6,233.1 L441.1,233.2 L441.6,233.4 L442.0,233.6 L442.5,233.8 L443.0,233.9 L443.4,234.1 L443.9,234.3 L444.4,234.4 L444.8,234.6 L445.3,234.7 L445.8,234.8 L446.2,235.0 L446.7,235.1 L447.2,235.2 L447.6,235.4 L448.1,235.5 L448.6,235.6 L449.0,235.7 L449.5,235.8 L450.0,235.9 L450.4,236.0 L450.9,236.1 L451.4,236.2 L451.8,236.3 L452.3,236.4 L452.8,236.5 L453.2,236.6 L453.7,236.7 L454.2,236.8 L454.6,236.8 L455.1,236.9 L455.6,237.0 L456.0,237.1 L456.5,237.1 L457.0,237.2 L457.4,237.3 L457.9,237.3 L458.4,237.4 L458.8,237.5 L459.3,237.5 L459.8,237.6 L460.2,237.6 L460.7,237.7 L461.2,237.7 L461.6,237.8 L462.1,237.8 L462.6,237.9 L463.0,237.9 L463.5,238.0 L464.0,238.0 L464.4,238.1 L464.9,238.1 L465.4,238.2 L465.8,238.2 L466.3,238.2 L466.8,238.3 L467.2,238.3 L467.7,238.3 L468.2,238.4 L468.6,238.4 L469.1,238.4 L469.6,238.5 L470.0,238.5 L470.5,238.5 L471.0,238.6 L471.4,238.6 L471.9,238.6 L472.4,238.6 L472.8,238.7 L473.3,238.7 L473.8,238.7 L474.2,238.7 L474.7,238.8 L475.2,238.8 L475.6,238.8 L476.1,238.8 L476.6,238.8 L477.0,238.9 L477.5,238.9 L478.0,238.9 L478.4,238.9 L478.9,238.9 L479.4,238.9 L479.8,239.0 L480.3,239.0 L480.8,239.0 L481.2,239.0 L481.7,239.0 L482.2,239.0 L482.6,239.1 L483.1,239.1 L483.6,239.1 L484.1,239.1 L484.5,239.1 L485.0,239.1 L485.5,239.1 L485.9,239.1 L486.4,239.1 L486.9,239.2 L487.3,239.2 L487.8,239.2 L488.3,239.2 L488.7,239.2 L489.2,239.2 L489.7,239.2 L490.1,239.2 L490.6,239.2 L491.1,239.2 L491.5,239.2 L492.0,239.3 L492.5,239.3 L492.9,239.3 L493.4,239.3 L493.9,239.3 L494.3,239.3 L494.8,239.3 L495.3,239.3 L495.7,239.3 L496.2,239.3 L496.7,239.3 L497.1,239.3 L497.6,239.3 L498.1,239.3 L498.5,239.3 L499.0,239.3" fill="none" stroke="#9a6070" stroke-width="0.9" stroke-linejoin="round" opacity="1" clip-path="url(#c2)"/>
<path d="M356.6,239.5 L357.0,239.5 L357.5,239.5 L358.0,239.5 L358.4,239.5 L358.9,239.5 L359.4,239.5 L359.8,239.5 L360.3,239.5 L360.8,239.5 L361.2,239.5 L361.7,239.5 L362.2,239.5 L362.6,239.5 L363.1,239.5 L363.6,239.5 L364.0,239.5 L364.5,239.5 L365.0,239.5 L365.4,239.5 L365.9,239.5 L366.4,239.1 L366.8,238.6 L367.3,238.2 L367.8,237.8 L368.2,237.5 L368.7,237.1 L369.2,236.8 L369.6,236.4 L370.1,236.1 L370.6,235.8 L371.0,235.5 L371.5,235.2 L372.0,235.0 L372.4,234.7 L372.9,234.5 L373.4,234.2 L373.8,234.0 L374.3,233.8 L374.8,233.5 L375.2,233.3 L375.7,233.1 L376.2,233.0 L376.6,232.8 L377.1,232.6 L377.6,232.4 L378.0,232.3 L378.5,232.1 L379.0,232.0 L379.4,231.8 L379.9,231.7 L380.4,231.5 L380.8,231.4 L381.3,231.3 L381.8,231.2 L382.2,231.1 L382.7,231.0 L383.2,230.9 L383.6,230.8 L384.1,230.7 L384.6,230.6 L385.0,230.5 L385.5,230.4 L386.0,230.3 L386.4,230.2 L386.9,230.2 L387.4,230.1 L387.8,230.0 L388.3,230.0 L388.8,229.9 L389.2,229.8 L389.7,229.8 L390.2,229.7 L390.7,229.7 L391.1,229.6 L391.6,229.6 L392.1,229.5 L392.5,229.5 L393.0,229.4 L393.5,229.4 L393.9,229.3 L394.4,229.3 L394.9,229.2 L395.3,229.2 L395.8,229.2 L396.3,229.1 L396.7,229.1 L397.2,229.1 L397.7,229.0 L398.1,229.0 L398.6,229.0 L399.1,229.0 L399.5,228.9 L400.0,228.9 L400.5,228.9 L400.9,228.9 L401.4,228.8 L401.9,228.8 L402.3,228.8 L402.8,228.8 L403.3,228.8 L403.7,228.7 L404.2,228.7 L404.7,228.7 L405.1,228.7 L405.6,228.7 L406.1,228.7 L406.5,228.7 L407.0,228.6 L407.5,228.6 L407.9,228.6 L408.4,228.6 L408.9,228.6 L409.3,228.6 L409.8,228.6 L410.3,228.6 L410.7,228.6 L411.2,228.5 L411.7,228.5 L412.1,228.5 L412.6,228.5 L413.1,228.5 L413.5,228.5 L414.0,228.5 L414.5,228.5 L414.9,228.5 L415.4,228.5 L415.9,228.5 L416.3,228.5 L416.8,228.5 L417.3,228.4 L417.7,228.4 L418.2,228.4 L418.7,228.4 L419.1,228.4 L419.6,228.4 L420.1,228.4 L420.5,228.4 L421.0,228.4 L421.5,228.5 L421.9,228.7 L422.4,228.9 L422.9,229.2 L423.3,229.4 L423.8,229.7 L424.3,230.0 L424.7,230.3 L425.2,230.5 L425.7,230.8 L426.1,231.1 L426.6,231.3 L427.1,231.5 L427.5,231.8 L428.0,232.0 L428.5,232.2 L428.9,232.4 L429.4,232.6 L429.9,232.8 L430.3,233.0 L430.8,233.2 L431.3,233.4 L431.7,233.6 L432.2,233.7 L432.7,233.9 L433.1,234.1 L433.6,234.2 L434.1,234.4 L434.5,234.5 L435.0,234.7 L435.5,234.8 L435.9,235.0 L436.4,235.1 L436.9,235.2 L437.4,235.3 L437.8,235.5 L438.3,235.6 L438.8,235.7 L439.2,235.8 L439.7,235.9 L440.2,236.0 L440.6,236.1 L441.1,236.2 L441.6,236.3 L442.0,236.4 L442.5,236.5 L443.0,236.6 L443.4,236.7 L443.9,236.8 L444.4,236.8 L444.8,236.9 L445.3,237.0 L445.8,237.1 L446.2,237.1 L446.7,237.2 L447.2,237.3 L447.6,237.3 L448.1,237.4 L448.6,237.5 L449.0,237.5 L449.5,237.6 L450.0,237.6 L450.4,237.7 L450.9,237.7 L451.4,237.8 L451.8,237.8 L452.3,237.9 L452.8,237.9 L453.2,238.0 L453.7,238.0 L454.2,238.1 L454.6,238.1 L455.1,238.2 L455.6,238.2 L456.0,238.2 L456.5,238.3 L457.0,238.3 L457.4,238.3 L457.9,238.4 L458.4,238.4 L458.8,238.4 L459.3,238.5 L459.8,238.5 L460.2,238.5 L460.7,238.6 L461.2,238.6 L461.6,238.6 L462.1,238.6 L462.6,238.7 L463.0,238.7 L463.5,238.7 L464.0,238.7 L464.4,238.8 L464.9,238.8 L465.4,238.8 L465.8,238.8 L466.3,238.8 L466.8,238.9 L467.2,238.9 L467.7,238.9 L468.2,238.9 L468.6,238.9 L469.1,238.9 L469.6,239.0 L470.0,239.0 L470.5,239.0 L471.0,239.0 L471.4,239.0 L471.9,239.0 L472.4,239.0 L472.8,239.1 L473.3,239.1 L473.8,239.1 L474.2,239.1 L474.7,239.1 L475.2,239.1 L475.6,239.1 L476.1,239.1 L476.6,239.2 L477.0,239.2 L477.5,239.2 L478.0,239.2 L478.4,239.2 L478.9,239.2 L479.4,239.2 L479.8,239.2 L480.3,239.2 L480.8,239.2 L481.2,239.2 L481.7,239.2 L482.2,239.3 L482.6,239.3 L483.1,239.3 L483.6,239.3 L484.1,239.3 L484.5,239.3 L485.0,239.3 L485.5,239.3 L485.9,239.3 L486.4,239.3 L486.9,239.3 L487.3,239.3 L487.8,239.3 L488.3,239.3 L488.7,239.3 L489.2,239.3 L489.7,239.3 L490.1,239.4 L490.6,239.4 L491.1,239.4 L491.5,239.4 L492.0,239.4 L492.5,239.4 L492.9,239.4 L493.4,239.4 L493.9,239.4 L494.3,239.4 L494.8,239.4 L495.3,239.4 L495.7,239.4 L496.2,239.4 L496.7,239.4 L497.1,239.4 L497.6,239.4 L498.1,239.4 L498.5,239.4 L499.0,239.4" fill="none" stroke="#a05a70" stroke-width="0.9" stroke-linejoin="round" opacity="1" clip-path="url(#c2)"/>
<path d="M356.6,239.5 L357.0,239.5 L357.5,239.5 L358.0,239.5 L358.4,239.5 L358.9,239.5 L359.4,239.5 L359.8,239.5 L360.3,239.5 L360.8,239.5 L361.2,239.5 L361.7,239.5 L362.2,239.5 L362.6,239.5 L363.1,239.5 L363.6,239.5 L364.0,239.5 L364.5,239.5 L365.0,239.5 L365.4,239.5 L365.9,239.5 L366.4,239.3 L366.8,239.1 L367.3,239.0 L367.8,238.8 L368.2,238.6 L368.7,238.5 L369.2,238.3 L369.6,238.2 L370.1,238.1 L370.6,237.9 L371.0,237.8 L371.5,237.7 L372.0,237.6 L372.4,237.4 L372.9,237.3 L373.4,237.2 L373.8,237.1 L374.3,237.0 L374.8,236.9 L375.2,236.8 L375.7,236.7 L376.2,236.7 L376.6,236.6 L377.1,236.5 L377.6,236.4 L378.0,236.3 L378.5,236.3 L379.0,236.2 L379.4,236.1 L379.9,236.1 L380.4,236.0 L380.8,235.9 L381.3,235.9 L381.8,235.8 L382.2,235.8 L382.7,235.7 L383.2,235.7 L383.6,235.6 L384.1,235.6 L384.6,235.5 L385.0,235.5 L385.5,235.4 L386.0,235.4 L386.4,235.4 L386.9,235.3 L387.4,235.3 L387.8,235.3 L388.3,235.2 L388.8,235.2 L389.2,235.2 L389.7,235.1 L390.2,235.1 L390.7,235.1 L391.1,235.0 L391.6,235.0 L392.1,235.0 L392.5,235.0 L393.0,234.9 L393.5,234.9 L393.9,234.9 L394.4,234.9 L394.9,234.9 L395.3,234.8 L395.8,234.8 L396.3,234.8 L396.7,234.8 L397.2,234.8 L397.7,234.8 L398.1,234.7 L398.6,234.7 L399.1,234.7 L399.5,234.7 L400.0,234.7 L400.5,234.7 L400.9,234.7 L401.4,234.6 L401.9,234.6 L402.3,234.6 L402.8,234.6 L403.3,234.6 L403.7,234.6 L404.2,234.6 L404.7,234.6 L405.1,234.6 L405.6,234.5 L406.1,234.5 L406.5,234.5 L407.0,234.5 L407.5,234.5 L407.9,234.5 L408.4,234.5 L408.9,234.5 L409.3,234.5 L409.8,234.5 L410.3,234.5 L410.7,234.5 L411.2,234.5 L411.7,234.5 L412.1,234.4 L412.6,234.4 L413.1,234.4 L413.5,234.4 L414.0,234.4 L414.5,234.4 L414.9,234.4 L415.4,234.4 L415.9,234.4 L416.3,234.4 L416.8,234.4 L417.3,234.4 L417.7,234.4 L418.2,234.4 L418.7,234.4 L419.1,234.4 L419.6,234.4 L420.1,234.4 L420.5,234.4 L421.0,234.4 L421.5,234.4 L421.9,234.5 L422.4,234.6 L422.9,234.7 L423.3,234.9 L423.8,235.0 L424.3,235.1 L424.7,235.2 L425.2,235.4 L425.7,235.5 L426.1,235.6 L426.6,235.7 L427.1,235.8 L427.5,235.9 L428.0,236.0 L428.5,236.1 L428.9,236.2 L429.4,236.3 L429.9,236.4 L430.3,236.5 L430.8,236.6 L431.3,236.7 L431.7,236.8 L432.2,236.8 L432.7,236.9 L433.1,237.0 L433.6,237.1 L434.1,237.1 L434.5,237.2 L435.0,237.3 L435.5,237.3 L435.9,237.4 L436.4,237.5 L436.9,237.5 L437.4,237.6 L437.8,237.6 L438.3,237.7 L438.8,237.7 L439.2,237.8 L439.7,237.8 L440.2,237.9 L440.6,237.9 L441.1,238.0 L441.6,238.0 L442.0,238.1 L442.5,238.1 L443.0,238.2 L443.4,238.2 L443.9,238.2 L444.4,238.3 L444.8,238.3 L445.3,238.3 L445.8,238.4 L446.2,238.4 L446.7,238.4 L447.2,238.5 L447.6,238.5 L448.1,238.5 L448.6,238.6 L449.0,238.6 L449.5,238.6 L450.0,238.6 L450.4,238.7 L450.9,238.7 L451.4,238.7 L451.8,238.7 L452.3,238.8 L452.8,238.8 L453.2,238.8 L453.7,238.8 L454.2,238.8 L454.6,238.9 L455.1,238.9 L455.6,238.9 L456.0,238.9 L456.5,238.9 L457.0,238.9 L457.4,239.0 L457.9,239.0 L458.4,239.0 L458.8,239.0 L459.3,239.0 L459.8,239.0 L460.2,239.0 L460.7,239.1 L461.2,239.1 L461.6,239.1 L462.1,239.1 L462.6,239.1 L463.0,239.1 L463.5,239.1 L464.0,239.1 L464.4,239.2 L464.9,239.2 L465.4,239.2 L465.8,239.2 L466.3,239.2 L466.8,239.2 L467.2,239.2 L467.7,239.2 L468.2,239.2 L468.6,239.2 L469.1,239.2 L469.6,239.3 L470.0,239.3 L470.5,239.3 L471.0,239.3 L471.4,239.3 L471.9,239.3 L472.4,239.3 L472.8,239.3 L473.3,239.3 L473.8,239.3 L474.2,239.3 L474.7,239.3 L475.2,239.3 L475.6,239.3 L476.1,239.3 L476.6,239.3 L477.0,239.3 L477.5,239.3 L478.0,239.4 L478.4,239.4 L478.9,239.4 L479.4,239.4 L479.8,239.4 L480.3,239.4 L480.8,239.4 L481.2,239.4 L481.7,239.4 L482.2,239.4 L482.6,239.4 L483.1,239.4 L483.6,239.4 L484.1,239.4 L484.5,239.4 L485.0,239.4 L485.5,239.4 L485.9,239.4 L486.4,239.4 L486.9,239.4 L487.3,239.4 L487.8,239.4 L488.3,239.4 L488.7,239.4 L489.2,239.4 L489.7,239.4 L490.1,239.4 L490.6,239.4 L491.1,239.4 L491.5,239.4 L492.0,239.4 L492.5,239.4 L492.9,239.4 L493.4,239.4 L493.9,239.4 L494.3,239.4 L494.8,239.4 L495.3,239.5 L495.7,239.5 L496.2,239.5 L496.7,239.5 L497.1,239.5 L497.6,239.5 L498.1,239.5 L498.5,239.5 L499.0,239.5" fill="none" stroke="#b04a5a" stroke-width="0.9" stroke-linejoin="round" opacity="1" clip-path="url(#c2)"/>
<path d="M356.6,239.5 L357.0,239.5 L357.5,239.5 L358.0,239.5 L358.4,239.5 L358.9,239.5 L359.4,239.5 L359.8,239.5 L360.3,239.5 L360.8,239.5 L361.2,239.5 L361.7,239.5 L362.2,239.5 L362.6,239.5 L363.1,239.5 L363.6,239.5 L364.0,239.5 L364.5,239.5 L365.0,239.5 L365.4,239.5 L365.9,239.5 L366.4,239.4 L366.8,239.3 L367.3,239.2 L367.8,239.2 L368.2,239.1 L368.7,239.0 L369.2,238.9 L369.6,238.8 L370.1,238.8 L370.6,238.7 L371.0,238.6 L371.5,238.6 L372.0,238.5 L372.4,238.5 L372.9,238.4 L373.4,238.3 L373.8,238.3 L374.3,238.2 L374.8,238.2 L375.2,238.1 L375.7,238.1 L376.2,238.0 L376.6,238.0 L377.1,238.0 L377.6,237.9 L378.0,237.9 L378.5,237.8 L379.0,237.8 L379.4,237.8 L379.9,237.7 L380.4,237.7 L380.8,237.6 L381.3,237.6 L381.8,237.6 L382.2,237.6 L382.7,237.5 L383.2,237.5 L383.6,237.5 L384.1,237.4 L384.6,237.4 L385.0,237.4 L385.5,237.4 L386.0,237.3 L386.4,237.3 L386.9,237.3 L387.4,237.3 L387.8,237.3 L388.3,237.2 L388.8,237.2 L389.2,237.2 L389.7,237.2 L390.2,237.2 L390.7,237.1 L391.1,237.1 L391.6,237.1 L392.1,237.1 L392.5,237.1 L393.0,237.1 L393.5,237.0 L393.9,237.0 L394.4,237.0 L394.9,237.0 L395.3,237.0 L395.8,237.0 L396.3,237.0 L396.7,237.0 L397.2,237.0 L397.7,236.9 L398.1,236.9 L398.6,236.9 L399.1,236.9 L399.5,236.9 L400.0,236.9 L400.5,236.9 L400.9,236.9 L401.4,236.9 L401.9,236.9 L402.3,236.9 L402.8,236.8 L403.3,236.8 L403.7,236.8 L404.2,236.8 L404.7,236.8 L405.1,236.8 L405.6,236.8 L406.1,236.8 L406.5,236.8 L407.0,236.8 L407.5,236.8 L407.9,236.8 L408.4,236.8 L408.9,236.8 L409.3,236.8 L409.8,236.8 L410.3,236.8 L410.7,236.7 L411.2,236.7 L411.7,236.7 L412.1,236.7 L412.6,236.7 L413.1,236.7 L413.5,236.7 L414.0,236.7 L414.5,236.7 L414.9,236.7 L415.4,236.7 L415.9,236.7 L416.3,236.7 L416.8,236.7 L417.3,236.7 L417.7,236.7 L418.2,236.7 L418.7,236.7 L419.1,236.7 L419.6,236.7 L420.1,236.7 L420.5,236.7 L421.0,236.7 L421.5,236.7 L421.9,236.7 L422.4,236.8 L422.9,236.9 L423.3,236.9 L423.8,237.0 L424.3,237.1 L424.7,237.2 L425.2,237.2 L425.7,237.3 L426.1,237.4 L426.6,237.4 L427.1,237.5 L427.5,237.5 L428.0,237.6 L428.5,237.6 L428.9,237.7 L429.4,237.8 L429.9,237.8 L430.3,237.9 L430.8,237.9 L431.3,237.9 L431.7,238.0 L432.2,238.0 L432.7,238.1 L433.1,238.1 L433.6,238.2 L434.1,238.2 L434.5,238.2 L435.0,238.3 L435.5,238.3 L435.9,238.3 L436.4,238.4 L436.9,238.4 L437.4,238.4 L437.8,238.5 L438.3,238.5 L438.8,238.5 L439.2,238.6 L439.7,238.6 L440.2,238.6 L440.6,238.6 L441.1,238.7 L441.6,238.7 L442.0,238.7 L442.5,238.7 L443.0,238.8 L443.4,238.8 L443.9,238.8 L444.4,238.8 L444.8,238.8 L445.3,238.9 L445.8,238.9 L446.2,238.9 L446.7,238.9 L447.2,238.9 L447.6,238.9 L448.1,239.0 L448.6,239.0 L449.0,239.0 L449.5,239.0 L450.0,239.0 L450.4,239.0 L450.9,239.1 L451.4,239.1 L451.8,239.1 L452.3,239.1 L452.8,239.1 L453.2,239.1 L453.7,239.1 L454.2,239.1 L454.6,239.1 L455.1,239.2 L455.6,239.2 L456.0,239.2 L456.5,239.2 L457.0,239.2 L457.4,239.2 L457.9,239.2 L458.4,239.2 L458.8,239.2 L459.3,239.2 L459.8,239.2 L460.2,239.3 L460.7,239.3 L461.2,239.3 L461.6,239.3 L462.1,239.3 L462.6,239.3 L463.0,239.3 L463.5,239.3 L464.0,239.3 L464.4,239.3 L464.9,239.3 L465.4,239.3 L465.8,239.3 L466.3,239.3 L466.8,239.3 L467.2,239.3 L467.7,239.3 L468.2,239.4 L468.6,239.4 L469.1,239.4 L469.6,239.4 L470.0,239.4 L470.5,239.4 L471.0,239.4 L471.4,239.4 L471.9,239.4 L472.4,239.4 L472.8,239.4 L473.3,239.4 L473.8,239.4 L474.2,239.4 L474.7,239.4 L475.2,239.4 L475.6,239.4 L476.1,239.4 L476.6,239.4 L477.0,239.4 L477.5,239.4 L478.0,239.4 L478.4,239.4 L478.9,239.4 L479.4,239.4 L479.8,239.4 L480.3,239.4 L480.8,239.4 L481.2,239.4 L481.7,239.4 L482.2,239.4 L482.6,239.4 L483.1,239.4 L483.6,239.4 L484.1,239.4 L484.5,239.4 L485.0,239.4 L485.5,239.4 L485.9,239.5 L486.4,239.5 L486.9,239.5 L487.3,239.5 L487.8,239.5 L488.3,239.5 L488.7,239.5 L489.2,239.5 L489.7,239.5 L490.1,239.5 L490.6,239.5 L491.1,239.5 L491.5,239.5 L492.0,239.5 L492.5,239.5 L492.9,239.5 L493.4,239.5 L493.9,239.5 L494.3,239.5 L494.8,239.5 L495.3,239.5 L495.7,239.5 L496.2,239.5 L496.7,239.5 L497.1,239.5 L497.6,239.5 L498.1,239.5 L498.5,239.5 L499.0,239.5" fill="none" stroke="#c04a3a" stroke-width="0.9" stroke-linejoin="round" opacity="1" clip-path="url(#c2)"/>
<path d="M356.6,239.4 L357.0,239.5 L357.5,239.4 L358.0,239.5 L358.4,239.6 L358.9,239.5 L359.4,239.3 L359.8,239.3 L360.3,239.7 L360.8,239.5 L361.2,239.5 L361.7,239.5 L362.2,239.5 L362.6,239.5 L363.1,239.6 L363.6,239.5 L364.0,239.5 L364.5,240.5 L365.0,240.5 L365.4,240.5 L365.9,240.5 L366.4,235.2 L366.8,229.4 L367.3,225.2 L367.8,220.9 L368.2,217.2 L368.7,213.6 L369.2,210.9 L369.6,208.0 L370.1,205.2 L370.6,202.9 L371.0,200.6 L371.5,198.5 L372.0,196.6 L372.4,194.9 L372.9,193.2 L373.4,191.9 L373.8,190.3 L374.3,189.4 L374.8,187.7 L375.2,186.7 L375.7,185.8 L376.2,184.7 L376.6,183.9 L377.1,183.0 L377.6,182.2 L378.0,181.6 L378.5,180.9 L379.0,180.2 L379.4,179.7 L379.9,179.2 L380.4,178.7 L380.8,178.3 L381.3,177.4 L381.8,177.1 L382.2,176.9 L382.7,176.3 L383.2,176.0 L383.6,175.9 L384.1,175.4 L384.6,175.0 L385.0,174.4 L385.5,174.2 L386.0,173.9 L386.4,173.8 L386.9,173.4 L387.4,173.4 L387.8,173.0 L388.3,172.7 L388.8,172.8 L389.2,172.4 L389.7,172.0 L390.2,171.7 L390.7,171.6 L391.1,171.7 L391.6,171.4 L392.1,171.3 L392.5,170.9 L393.0,171.0 L393.5,170.9 L393.9,170.8 L394.4,170.4 L394.9,170.2 L395.3,170.2 L395.8,170.1 L396.3,169.9 L396.7,169.6 L397.2,169.8 L397.7,169.5 L398.1,169.4 L398.6,169.2 L399.1,169.0 L399.5,168.9 L400.0,168.9 L400.5,168.6 L400.9,168.6 L401.4,168.6 L401.9,168.5 L402.3,168.6 L402.8,168.3 L403.3,168.3 L403.7,168.3 L404.2,168.1 L404.7,168.2 L405.1,168.0 L405.6,167.8 L406.1,167.7 L406.5,167.7 L407.0,167.5 L407.5,167.3 L407.9,167.3 L408.4,167.5 L408.9,167.5 L409.3,167.3 L409.8,167.2 L410.3,167.3 L410.7,167.2 L411.2,167.1 L411.7,166.9 L412.1,166.6 L412.6,166.5 L413.1,166.8 L413.5,166.7 L414.0,166.7 L414.5,166.7 L414.9,166.5 L415.4,166.4 L415.9,166.4 L416.3,166.2 L416.8,166.3 L417.3,166.1 L417.7,166.2 L418.2,166.0 L418.7,166.1 L419.1,166.0 L419.6,165.9 L420.1,166.1 L420.5,166.0 L421.0,165.8 L421.5,166.2 L421.9,167.0 L422.4,168.3 L422.9,169.7 L423.3,171.1 L423.8,172.7 L424.3,174.6 L424.7,176.0 L425.2,177.8 L425.7,179.5 L426.1,181.1 L426.6,183.0 L427.1,184.2 L427.5,186.1 L428.0,187.5 L428.5,188.9 L428.9,190.4 L429.4,191.8 L429.9,193.3 L430.3,194.6 L430.8,195.8 L431.3,196.9 L431.7,198.3 L432.2,199.3 L432.7,200.5 L433.1,201.7 L433.6,202.8 L434.1,203.8 L434.5,205.0 L435.0,205.8 L435.5,206.7 L435.9,207.8 L436.4,208.6 L436.9,209.5 L437.4,210.5 L437.8,211.1 L438.3,212.1 L438.8,212.5 L439.2,213.7 L439.7,214.4 L440.2,215.1 L440.6,215.7 L441.1,216.3 L441.6,217.0 L442.0,217.7 L442.5,218.1 L443.0,218.8 L443.4,219.5 L443.9,220.1 L444.4,220.8 L444.8,221.2 L445.3,221.5 L445.8,222.4 L446.2,222.9 L446.7,223.2 L447.2,223.9 L447.6,223.9 L448.1,224.7 L448.6,225.1 L449.0,225.4 L449.5,225.6 L450.0,226.1 L450.4,226.8 L450.9,227.1 L451.4,227.3 L451.8,227.9 L452.3,228.0 L452.8,228.4 L453.2,228.5 L453.7,228.8 L454.2,229.6 L454.6,229.5 L455.1,229.7 L455.6,230.2 L456.0,230.4 L456.5,230.8 L457.0,230.9 L457.4,231.1 L457.9,231.2 L458.4,231.4 L458.8,231.9 L459.3,232.2 L459.8,232.1 L460.2,232.8 L460.7,232.8 L461.2,232.8 L461.6,232.8 L462.1,233.3 L462.6,233.4 L463.0,233.7 L463.5,233.8 L464.0,233.9 L464.4,234.2 L464.9,234.2 L465.4,234.4 L465.8,234.5 L466.3,234.7 L466.8,235.0 L467.2,234.9 L467.7,235.0 L468.2,235.3 L468.6,235.2 L469.1,235.4 L469.6,235.6 L470.0,235.7 L470.5,235.8 L471.0,236.0 L471.4,235.9 L471.9,236.0 L472.4,236.2 L472.8,236.3 L473.3,236.4 L473.8,236.4 L474.2,236.4 L474.7,236.7 L475.2,236.7 L475.6,236.8 L476.1,236.8 L476.6,236.8 L477.0,237.1 L477.5,237.3 L478.0,237.2 L478.4,237.4 L478.9,237.1 L479.4,237.4 L479.8,237.5 L480.3,237.4 L480.8,237.5 L481.2,237.6 L481.7,237.6 L482.2,237.6 L482.6,237.8 L483.1,237.6 L483.6,237.8 L484.1,238.2 L484.5,237.8 L485.0,238.2 L485.5,238.0 L485.9,237.8 L486.4,238.0 L486.9,238.3 L487.3,238.3 L487.8,238.2 L488.3,238.1 L488.7,238.4 L489.2,238.2 L489.7,238.3 L490.1,238.4 L490.6,238.4 L491.1,238.3 L491.5,238.7 L492.0,238.7 L492.5,238.4 L492.9,238.4 L493.4,238.8 L493.9,238.7 L494.3,238.8 L494.8,238.6 L495.3,238.8 L495.7,238.5 L496.2,238.6 L496.7,238.7 L497.1,238.8 L497.6,238.7 L498.1,238.7 L498.5,238.8 L499.0,238.8" fill="none" stroke="#2e2ecc" stroke-width="1.5" stroke-linejoin="round" opacity="1" clip-path="url(#c2)"/>
<path d="M356.6,239.6 L357.0,239.5 L357.5,239.7 L358.0,239.6 L358.4,239.4 L358.9,239.5 L359.4,239.5 L359.8,239.5 L360.3,239.6 L360.8,239.7 L361.2,239.4 L361.7,239.5 L362.2,239.4 L362.6,239.5 L363.1,239.4 L363.6,239.6 L364.0,239.5 L364.5,240.4 L365.0,240.4 L365.4,240.3 L365.9,240.4 L366.4,237.1 L366.8,232.9 L367.3,229.8 L367.8,227.3 L368.2,224.7 L368.7,222.7 L369.2,220.1 L369.6,218.0 L370.1,216.2 L370.6,214.5 L371.0,212.7 L371.5,211.1 L372.0,209.7 L372.4,208.2 L372.9,207.3 L373.4,206.2 L373.8,204.9 L374.3,203.8 L374.8,203.0 L375.2,202.1 L375.7,201.3 L376.2,200.6 L376.6,199.8 L377.1,199.2 L377.6,198.3 L378.0,197.6 L378.5,197.0 L379.0,196.7 L379.4,196.1 L379.9,195.8 L380.4,195.3 L380.8,194.6 L381.3,193.9 L381.8,194.0 L382.2,193.5 L382.7,193.0 L383.2,192.9 L383.6,192.4 L384.1,192.2 L384.6,191.9 L385.0,191.5 L385.5,191.4 L386.0,191.2 L386.4,190.7 L386.9,190.6 L387.4,190.5 L387.8,190.3 L388.3,189.9 L388.8,189.9 L389.2,189.6 L389.7,189.3 L390.2,189.2 L390.7,188.9 L391.1,189.1 L391.6,188.7 L392.1,188.5 L392.5,188.2 L393.0,188.3 L393.5,188.1 L393.9,188.1 L394.4,188.0 L394.9,187.9 L395.3,187.7 L395.8,187.4 L396.3,187.5 L396.7,187.3 L397.2,187.1 L397.7,186.9 L398.1,186.9 L398.6,186.7 L399.1,186.9 L399.5,186.8 L400.0,186.6 L400.5,186.4 L400.9,186.4 L401.4,186.4 L401.9,186.3 L402.3,186.4 L402.8,186.0 L403.3,186.2 L403.7,185.9 L404.2,185.7 L404.7,185.7 L405.1,185.9 L405.6,185.6 L406.1,185.6 L406.5,185.6 L407.0,185.3 L407.5,185.4 L407.9,185.5 L408.4,185.4 L408.9,185.1 L409.3,185.1 L409.8,185.2 L410.3,185.3 L410.7,185.1 L411.2,185.0 L411.7,184.8 L412.1,184.9 L412.6,184.7 L413.1,184.6 L413.5,184.9 L414.0,184.7 L414.5,184.4 L414.9,184.6 L415.4,184.5 L415.9,184.3 L416.3,184.5 L416.8,184.4 L417.3,184.5 L417.7,184.2 L418.2,184.3 L418.7,184.3 L419.1,184.5 L419.6,184.0 L420.1,184.0 L420.5,184.2 L421.0,183.9 L421.5,184.6 L421.9,184.9 L422.4,186.0 L422.9,186.5 L423.3,188.3 L423.8,189.4 L424.3,190.6 L424.7,191.7 L425.2,193.0 L425.7,194.3 L426.1,195.6 L426.6,196.6 L427.1,198.1 L427.5,199.2 L428.0,200.1 L428.5,201.6 L428.9,202.7 L429.4,203.5 L429.9,204.6 L430.3,205.8 L430.8,206.6 L431.3,207.3 L431.7,208.5 L432.2,209.2 L432.7,210.2 L433.1,211.1 L433.6,211.6 L434.1,212.5 L434.5,213.3 L435.0,214.2 L435.5,214.9 L435.9,215.6 L436.4,216.2 L436.9,217.0 L437.4,217.6 L437.8,218.0 L438.3,218.9 L438.8,219.5 L439.2,220.0 L439.7,220.6 L440.2,221.2 L440.6,221.7 L441.1,222.0 L441.6,222.7 L442.0,223.2 L442.5,223.4 L443.0,224.2 L443.4,224.3 L443.9,224.9 L444.4,225.5 L444.8,225.8 L445.3,226.2 L445.8,226.3 L446.2,226.8 L446.7,227.3 L447.2,227.7 L447.6,228.1 L448.1,228.3 L448.6,228.7 L449.0,228.9 L449.5,229.2 L450.0,229.4 L450.4,229.6 L450.9,230.0 L451.4,230.3 L451.8,230.6 L452.3,230.7 L452.8,231.0 L453.2,231.1 L453.7,231.4 L454.2,231.9 L454.6,232.2 L455.1,232.1 L455.6,232.3 L456.0,232.7 L456.5,232.6 L457.0,233.0 L457.4,233.2 L457.9,233.3 L458.4,233.7 L458.8,233.9 L459.3,233.9 L459.8,234.2 L460.2,234.2 L460.7,234.4 L461.2,234.8 L461.6,234.8 L462.1,234.7 L462.6,235.2 L463.0,235.1 L463.5,235.4 L464.0,235.6 L464.4,235.3 L464.9,235.4 L465.4,235.7 L465.8,235.8 L466.3,235.7 L466.8,235.8 L467.2,236.1 L467.7,236.1 L468.2,236.3 L468.6,236.4 L469.1,236.4 L469.6,236.6 L470.0,236.6 L470.5,236.7 L471.0,236.9 L471.4,236.9 L471.9,236.9 L472.4,236.9 L472.8,237.0 L473.3,237.3 L473.8,237.2 L474.2,237.4 L474.7,237.5 L475.2,237.4 L475.6,237.4 L476.1,237.5 L476.6,237.5 L477.0,237.5 L477.5,237.6 L478.0,237.8 L478.4,237.7 L478.9,237.9 L479.4,237.9 L479.8,237.9 L480.3,238.0 L480.8,238.2 L481.2,238.1 L481.7,238.2 L482.2,238.2 L482.6,238.2 L483.1,238.4 L483.6,238.5 L484.1,238.2 L484.5,238.2 L485.0,238.3 L485.5,238.4 L485.9,238.2 L486.4,238.4 L486.9,238.5 L487.3,238.4 L487.8,238.6 L488.3,238.5 L488.7,238.6 L489.2,238.6 L489.7,238.6 L490.1,238.7 L490.6,238.6 L491.1,238.6 L491.5,238.9 L492.0,238.8 L492.5,238.9 L492.9,238.7 L493.4,238.9 L493.9,238.7 L494.3,239.0 L494.8,238.8 L495.3,239.0 L495.7,239.0 L496.2,238.9 L496.7,239.0 L497.1,239.0 L497.6,238.9 L498.1,239.0 L498.5,238.9 L499.0,238.7" fill="none" stroke="#3a2ab4" stroke-width="1.5" stroke-linejoin="round" opacity="1" clip-path="url(#c2)"/>
<path d="M356.6,239.6 L357.0,239.5 L357.5,239.5 L358.0,239.6 L358.4,239.4 L358.9,239.6 L359.4,239.6 L359.8,239.4 L360.3,239.6 L360.8,239.7 L361.2,239.5 L361.7,239.5 L362.2,239.5 L362.6,239.3 L363.1,239.6 L363.6,239.4 L364.0,239.4 L364.5,240.3 L365.0,240.4 L365.4,240.4 L365.9,240.5 L366.4,238.5 L366.8,235.9 L367.3,234.3 L367.8,233.0 L368.2,231.3 L368.7,230.2 L369.2,228.9 L369.6,227.5 L370.1,226.4 L370.6,225.3 L371.0,224.2 L371.5,223.4 L372.0,222.6 L372.4,221.8 L372.9,221.1 L373.4,220.2 L373.8,219.6 L374.3,218.9 L374.8,218.3 L375.2,217.8 L375.7,216.7 L376.2,216.3 L376.6,216.2 L377.1,215.4 L377.6,215.1 L378.0,214.8 L378.5,214.1 L379.0,213.7 L379.4,213.3 L379.9,212.9 L380.4,212.7 L380.8,212.3 L381.3,211.9 L381.8,211.6 L382.2,211.4 L382.7,211.1 L383.2,210.8 L383.6,210.8 L384.1,210.6 L384.6,210.0 L385.0,209.9 L385.5,209.6 L386.0,209.6 L386.4,209.4 L386.9,209.3 L387.4,209.0 L387.8,208.9 L388.3,208.7 L388.8,208.6 L389.2,208.3 L389.7,208.2 L390.2,207.9 L390.7,208.1 L391.1,207.9 L391.6,207.6 L392.1,207.6 L392.5,207.8 L393.0,207.4 L393.5,207.3 L393.9,207.2 L394.4,207.1 L394.9,207.1 L395.3,206.8 L395.8,206.7 L396.3,206.7 L396.7,206.5 L397.2,206.4 L397.7,206.6 L398.1,206.5 L398.6,206.4 L399.1,206.1 L399.5,206.2 L400.0,205.9 L400.5,206.0 L400.9,206.0 L401.4,206.1 L401.9,205.9 L402.3,205.5 L402.8,205.8 L403.3,205.8 L403.7,205.6 L404.2,205.4 L404.7,205.5 L405.1,205.6 L405.6,205.5 L406.1,205.4 L406.5,205.3 L407.0,205.1 L407.5,204.9 L407.9,205.0 L408.4,205.0 L408.9,205.1 L409.3,205.1 L409.8,204.9 L410.3,204.8 L410.7,204.8 L411.2,204.9 L411.7,204.7 L412.1,204.8 L412.6,204.8 L413.1,204.7 L413.5,204.7 L414.0,204.6 L414.5,204.5 L414.9,204.6 L415.4,204.5 L415.9,204.4 L416.3,204.4 L416.8,204.3 L417.3,204.5 L417.7,204.2 L418.2,204.3 L418.7,204.4 L419.1,204.3 L419.6,204.4 L420.1,204.4 L420.5,204.3 L421.0,204.1 L421.5,204.5 L421.9,204.7 L422.4,205.3 L422.9,205.8 L423.3,206.7 L423.8,207.4 L424.3,208.1 L424.7,209.3 L425.2,210.0 L425.7,210.9 L426.1,211.7 L426.6,212.3 L427.1,213.1 L427.5,213.8 L428.0,214.6 L428.5,215.4 L428.9,216.0 L429.4,216.8 L429.9,217.4 L430.3,218.1 L430.8,218.6 L431.3,219.1 L431.7,219.9 L432.2,220.4 L432.7,221.1 L433.1,221.5 L433.6,221.9 L434.1,222.6 L434.5,222.8 L435.0,223.4 L435.5,223.8 L435.9,224.3 L436.4,224.9 L436.9,225.1 L437.4,225.5 L437.8,226.0 L438.3,226.3 L438.8,226.8 L439.2,227.1 L439.7,227.3 L440.2,227.8 L440.6,228.2 L441.1,228.4 L441.6,228.7 L442.0,229.1 L442.5,229.3 L443.0,230.0 L443.4,229.9 L443.9,230.0 L444.4,230.4 L444.8,231.0 L445.3,230.8 L445.8,230.9 L446.2,231.4 L446.7,231.8 L447.2,232.0 L447.6,232.1 L448.1,232.3 L448.6,232.4 L449.0,232.7 L449.5,233.2 L450.0,233.2 L450.4,233.3 L450.9,233.3 L451.4,233.7 L451.8,234.0 L452.3,234.0 L452.8,234.1 L453.2,234.5 L453.7,234.3 L454.2,234.6 L454.6,234.6 L455.1,234.8 L455.6,234.9 L456.0,235.0 L456.5,235.1 L457.0,235.4 L457.4,235.5 L457.9,235.5 L458.4,235.7 L458.8,235.9 L459.3,235.9 L459.8,236.1 L460.2,236.2 L460.7,236.6 L461.2,236.3 L461.6,236.2 L462.1,236.4 L462.6,236.5 L463.0,236.6 L463.5,236.8 L464.0,236.8 L464.4,236.9 L464.9,237.0 L465.4,237.0 L465.8,237.2 L466.3,237.2 L466.8,237.2 L467.2,237.2 L467.7,237.4 L468.2,237.3 L468.6,237.5 L469.1,237.8 L469.6,237.8 L470.0,237.7 L470.5,237.9 L471.0,237.7 L471.4,238.0 L471.9,237.9 L472.4,238.0 L472.8,238.0 L473.3,238.1 L473.8,238.1 L474.2,238.1 L474.7,238.2 L475.2,238.1 L475.6,238.1 L476.1,238.3 L476.6,238.4 L477.0,238.4 L477.5,238.4 L478.0,238.4 L478.4,238.4 L478.9,238.1 L479.4,238.3 L479.8,238.5 L480.3,238.5 L480.8,238.5 L481.2,238.4 L481.7,238.4 L482.2,238.8 L482.6,238.4 L483.1,238.8 L483.6,238.7 L484.1,238.8 L484.5,239.0 L485.0,239.0 L485.5,238.6 L485.9,238.6 L486.4,239.0 L486.9,239.0 L487.3,238.7 L487.8,239.0 L488.3,238.8 L488.7,238.7 L489.2,238.8 L489.7,238.8 L490.1,238.9 L490.6,239.2 L491.1,239.1 L491.5,239.2 L492.0,239.0 L492.5,239.2 L492.9,239.0 L493.4,239.1 L493.9,239.2 L494.3,239.0 L494.8,239.2 L495.3,239.2 L495.7,239.0 L496.2,239.1 L496.7,239.3 L497.1,239.0 L497.6,239.3 L498.1,239.1 L498.5,239.1 L499.0,239.2" fill="none" stroke="#3e2aa0" stroke-width="1.3" stroke-linejoin="round" opacity="1" clip-path="url(#c2)"/>
<path d="M356.6,239.4 L357.0,239.7 L357.5,239.5 L358.0,239.5 L358.4,239.6 L358.9,239.5 L359.4,239.5 L359.8,239.5 L360.3,239.5 L360.8,239.3 L361.2,239.5 L361.7,239.5 L362.2,239.6 L362.6,239.4 L363.1,239.6 L363.6,239.5 L364.0,239.6 L364.5,240.4 L365.0,240.5 L365.4,240.5 L365.9,240.4 L366.4,239.5 L366.8,237.9 L367.3,236.8 L367.8,235.8 L368.2,235.2 L368.7,234.5 L369.2,233.8 L369.6,233.0 L370.1,232.7 L370.6,231.6 L371.0,231.2 L371.5,230.6 L372.0,230.2 L372.4,229.5 L372.9,229.3 L373.4,228.7 L373.8,228.3 L374.3,228.1 L374.8,227.5 L375.2,227.1 L375.7,226.8 L376.2,226.5 L376.6,226.1 L377.1,225.9 L377.6,225.7 L378.0,225.2 L378.5,225.1 L379.0,224.6 L379.4,224.4 L379.9,224.1 L380.4,223.9 L380.8,223.8 L381.3,223.5 L381.8,223.5 L382.2,223.1 L382.7,223.0 L383.2,222.6 L383.6,222.7 L384.1,222.5 L384.6,222.4 L385.0,222.1 L385.5,221.9 L386.0,222.0 L386.4,221.5 L386.9,221.6 L387.4,221.7 L387.8,221.5 L388.3,221.5 L388.8,221.4 L389.2,221.1 L389.7,221.2 L390.2,220.8 L390.7,221.0 L391.1,220.7 L391.6,220.4 L392.1,220.5 L392.5,220.4 L393.0,220.2 L393.5,220.3 L393.9,220.1 L394.4,220.2 L394.9,220.1 L395.3,220.0 L395.8,219.9 L396.3,219.9 L396.7,219.8 L397.2,219.6 L397.7,219.6 L398.1,219.6 L398.6,219.7 L399.1,219.4 L399.5,219.3 L400.0,219.5 L400.5,219.6 L400.9,219.3 L401.4,219.1 L401.9,219.1 L402.3,219.3 L402.8,219.0 L403.3,219.2 L403.7,218.9 L404.2,219.1 L404.7,218.8 L405.1,218.9 L405.6,218.9 L406.1,218.8 L406.5,218.9 L407.0,218.8 L407.5,218.8 L407.9,218.8 L408.4,218.6 L408.9,218.5 L409.3,218.6 L409.8,218.7 L410.3,218.5 L410.7,218.5 L411.2,218.4 L411.7,218.5 L412.1,218.5 L412.6,218.3 L413.1,218.5 L413.5,218.4 L414.0,218.6 L414.5,218.4 L414.9,218.4 L415.4,218.3 L415.9,218.2 L416.3,218.3 L416.8,218.2 L417.3,218.3 L417.7,218.2 L418.2,218.4 L418.7,218.1 L419.1,218.1 L419.6,218.2 L420.1,218.2 L420.5,218.3 L421.0,218.1 L421.5,218.3 L421.9,218.3 L422.4,218.8 L422.9,219.1 L423.3,219.7 L423.8,220.3 L424.3,220.6 L424.7,221.1 L425.2,221.3 L425.7,222.0 L426.1,222.4 L426.6,223.0 L427.1,223.5 L427.5,224.1 L428.0,224.4 L428.5,224.7 L428.9,225.2 L429.4,225.6 L429.9,226.0 L430.3,226.6 L430.8,226.7 L431.3,227.2 L431.7,227.5 L432.2,227.7 L432.7,228.4 L433.1,228.5 L433.6,228.8 L434.1,229.0 L434.5,229.4 L435.0,229.8 L435.5,229.9 L435.9,230.2 L436.4,230.7 L436.9,230.8 L437.4,231.2 L437.8,231.6 L438.3,231.6 L438.8,231.9 L439.2,232.2 L439.7,231.9 L440.2,232.5 L440.6,232.5 L441.1,232.7 L441.6,232.7 L442.0,233.2 L442.5,233.1 L443.0,233.7 L443.4,233.7 L443.9,233.9 L444.4,234.1 L444.8,234.1 L445.3,234.1 L445.8,234.2 L446.2,234.5 L446.7,234.9 L447.2,235.0 L447.6,234.9 L448.1,235.1 L448.6,235.2 L449.0,235.4 L449.5,235.6 L450.0,235.6 L450.4,235.7 L450.9,235.7 L451.4,236.0 L451.8,235.9 L452.3,236.0 L452.8,236.0 L453.2,236.1 L453.7,236.6 L454.2,236.7 L454.6,236.6 L455.1,236.8 L455.6,237.1 L456.0,236.7 L456.5,236.9 L457.0,236.9 L457.4,237.0 L457.9,237.0 L458.4,237.2 L458.8,237.2 L459.3,237.1 L459.8,237.5 L460.2,237.4 L460.7,237.7 L461.2,237.4 L461.6,237.7 L462.1,237.8 L462.6,238.0 L463.0,237.8 L463.5,237.6 L464.0,237.8 L464.4,238.1 L464.9,238.2 L465.4,237.7 L465.8,238.1 L466.3,238.3 L466.8,238.1 L467.2,238.1 L467.7,238.0 L468.2,238.3 L468.6,238.4 L469.1,238.2 L469.6,238.5 L470.0,238.3 L470.5,238.4 L471.0,238.3 L471.4,238.6 L471.9,238.6 L472.4,238.5 L472.8,238.5 L473.3,238.8 L473.8,238.7 L474.2,238.6 L474.7,238.7 L475.2,238.4 L475.6,238.6 L476.1,238.6 L476.6,238.8 L477.0,238.8 L477.5,238.8 L478.0,238.7 L478.4,238.9 L478.9,238.7 L479.4,239.0 L479.8,238.8 L480.3,238.9 L480.8,239.0 L481.2,238.7 L481.7,238.8 L482.2,239.0 L482.6,239.1 L483.1,238.9 L483.6,239.1 L484.1,239.0 L484.5,239.2 L485.0,239.0 L485.5,239.2 L485.9,239.1 L486.4,238.9 L486.9,238.9 L487.3,239.2 L487.8,239.2 L488.3,239.4 L488.7,239.1 L489.2,239.0 L489.7,239.3 L490.1,239.3 L490.6,239.1 L491.1,239.3 L491.5,239.2 L492.0,239.0 L492.5,239.2 L492.9,239.1 L493.4,239.0 L493.9,239.2 L494.3,239.2 L494.8,239.3 L495.3,239.4 L495.7,239.1 L496.2,239.5 L496.7,239.3 L497.1,239.4 L497.6,239.4 L498.1,239.5 L498.5,239.3 L499.0,239.3" fill="none" stroke="#422a90" stroke-width="1.3" stroke-linejoin="round" opacity="1" clip-path="url(#c2)"/>
<path d="M356.6,239.4 L357.0,239.6 L357.5,239.4 L358.0,239.6 L358.4,239.3 L358.9,239.5 L359.4,239.7 L359.8,239.3 L360.3,239.7 L360.8,239.5 L361.2,239.4 L361.7,239.5 L362.2,239.4 L362.6,239.5 L363.1,239.6 L363.6,239.4 L364.0,239.5 L364.5,240.5 L365.0,240.3 L365.4,240.4 L365.9,240.4 L366.4,240.0 L366.8,238.8 L367.3,238.4 L367.8,237.8 L368.2,237.7 L368.7,237.2 L369.2,237.1 L369.6,236.6 L370.1,236.2 L370.6,235.9 L371.0,235.6 L371.5,235.4 L372.0,235.1 L372.4,234.9 L372.9,234.8 L373.4,234.6 L373.8,234.3 L374.3,234.0 L374.8,233.7 L375.2,233.6 L375.7,233.4 L376.2,233.1 L376.6,233.1 L377.1,232.9 L377.6,232.7 L378.0,232.6 L378.5,232.5 L379.0,232.4 L379.4,232.2 L379.9,232.1 L380.4,231.7 L380.8,231.6 L381.3,231.7 L381.8,231.6 L382.2,231.4 L382.7,231.5 L383.2,231.0 L383.6,231.1 L384.1,231.1 L384.6,230.8 L385.0,230.7 L385.5,230.7 L386.0,230.5 L386.4,230.8 L386.9,230.6 L387.4,230.5 L387.8,230.5 L388.3,230.2 L388.8,229.9 L389.2,230.3 L389.7,230.1 L390.2,229.9 L390.7,230.0 L391.1,229.9 L391.6,229.9 L392.1,229.7 L392.5,229.9 L393.0,229.6 L393.5,229.6 L393.9,229.5 L394.4,229.6 L394.9,229.5 L395.3,229.4 L395.8,229.5 L396.3,229.5 L396.7,229.6 L397.2,229.4 L397.7,229.3 L398.1,229.1 L398.6,229.3 L399.1,229.3 L399.5,229.0 L400.0,228.9 L400.5,229.2 L400.9,229.1 L401.4,229.2 L401.9,229.0 L402.3,228.8 L402.8,228.8 L403.3,229.0 L403.7,228.8 L404.2,228.9 L404.7,228.8 L405.1,228.8 L405.6,228.7 L406.1,228.6 L406.5,228.7 L407.0,228.6 L407.5,228.6 L407.9,228.5 L408.4,228.7 L408.9,228.6 L409.3,228.6 L409.8,228.4 L410.3,228.5 L410.7,228.4 L411.2,228.5 L411.7,228.6 L412.1,228.5 L412.6,228.4 L413.1,228.5 L413.5,228.5 L414.0,228.4 L414.5,228.3 L414.9,228.3 L415.4,228.4 L415.9,228.5 L416.3,228.4 L416.8,227.9 L417.3,228.3 L417.7,228.2 L418.2,228.2 L418.7,228.4 L419.1,228.1 L419.6,228.2 L420.1,228.3 L420.5,228.1 L421.0,228.3 L421.5,228.2 L421.9,228.5 L422.4,228.6 L422.9,228.7 L423.3,229.1 L423.8,229.4 L424.3,229.6 L424.7,229.7 L425.2,230.2 L425.7,230.5 L426.1,230.5 L426.6,230.8 L427.1,231.1 L427.5,231.3 L428.0,231.5 L428.5,231.7 L428.9,231.9 L429.4,232.4 L429.9,232.3 L430.3,232.8 L430.8,232.6 L431.3,233.0 L431.7,233.1 L432.2,233.3 L432.7,233.6 L433.1,233.6 L433.6,233.8 L434.1,233.8 L434.5,234.1 L435.0,234.3 L435.5,234.2 L435.9,234.5 L436.4,234.8 L436.9,235.0 L437.4,234.8 L437.8,235.0 L438.3,235.1 L438.8,235.4 L439.2,235.6 L439.7,235.7 L440.2,235.6 L440.6,235.9 L441.1,235.9 L441.6,236.3 L442.0,236.0 L442.5,236.3 L443.0,236.7 L443.4,236.6 L443.9,236.5 L444.4,236.4 L444.8,237.0 L445.3,236.9 L445.8,236.8 L446.2,237.1 L446.7,237.1 L447.2,237.2 L447.6,237.1 L448.1,237.4 L448.6,237.3 L449.0,237.4 L449.5,237.4 L450.0,237.5 L450.4,237.4 L450.9,237.5 L451.4,237.4 L451.8,237.9 L452.3,237.8 L452.8,237.7 L453.2,237.8 L453.7,238.2 L454.2,237.9 L454.6,238.0 L455.1,237.7 L455.6,238.1 L456.0,238.0 L456.5,238.3 L457.0,238.1 L457.4,238.6 L457.9,238.4 L458.4,238.3 L458.8,238.5 L459.3,238.2 L459.8,238.4 L460.2,238.2 L460.7,238.6 L461.2,238.6 L461.6,238.4 L462.1,238.6 L462.6,238.5 L463.0,238.5 L463.5,238.7 L464.0,238.6 L464.4,238.6 L464.9,238.7 L465.4,238.7 L465.8,238.8 L466.3,238.8 L466.8,238.7 L467.2,238.5 L467.7,239.0 L468.2,239.0 L468.6,238.9 L469.1,238.7 L469.6,239.0 L470.0,238.6 L470.5,238.6 L471.0,239.2 L471.4,238.9 L471.9,238.9 L472.4,239.0 L472.8,239.2 L473.3,239.0 L473.8,239.1 L474.2,238.9 L474.7,239.0 L475.2,239.2 L475.6,238.8 L476.1,238.9 L476.6,238.9 L477.0,239.1 L477.5,239.0 L478.0,239.1 L478.4,239.2 L478.9,239.4 L479.4,239.1 L479.8,239.4 L480.3,239.1 L480.8,239.4 L481.2,239.2 L481.7,239.2 L482.2,239.4 L482.6,239.4 L483.1,239.3 L483.6,239.1 L484.1,239.2 L484.5,239.3 L485.0,239.2 L485.5,239.4 L485.9,239.5 L486.4,239.4 L486.9,239.2 L487.3,239.3 L487.8,239.3 L488.3,239.3 L488.7,239.4 L489.2,239.2 L489.7,239.2 L490.1,239.4 L490.6,239.5 L491.1,239.3 L491.5,239.5 L492.0,239.3 L492.5,239.3 L492.9,239.4 L493.4,239.3 L493.9,239.4 L494.3,239.5 L494.8,239.5 L495.3,239.2 L495.7,239.5 L496.2,239.4 L496.7,239.4 L497.1,239.3 L497.6,239.4 L498.1,239.6 L498.5,239.1 L499.0,239.5" fill="none" stroke="#482a80" stroke-width="1.3" stroke-linejoin="round" opacity="1" clip-path="url(#c2)"/>
<path d="M356.6,239.6 L357.0,239.5 L357.5,239.3 L358.0,239.6 L358.4,239.4 L358.9,239.7 L359.4,239.5 L359.8,239.3 L360.3,239.5 L360.8,239.5 L361.2,239.6 L361.7,239.7 L362.2,239.5 L362.6,239.4 L363.1,239.4 L363.6,239.3 L364.0,239.5 L364.5,240.4 L365.0,240.6 L365.4,240.4 L365.9,240.2 L366.4,240.5 L366.8,239.3 L367.3,239.1 L367.8,238.8 L368.2,238.9 L368.7,238.5 L369.2,238.5 L369.6,238.4 L370.1,238.1 L370.6,237.9 L371.0,237.8 L371.5,237.9 L372.0,237.5 L372.4,237.4 L372.9,237.4 L373.4,237.3 L373.8,237.2 L374.3,237.2 L374.8,236.9 L375.2,236.7 L375.7,236.9 L376.2,236.7 L376.6,236.6 L377.1,236.8 L377.6,236.3 L378.0,236.4 L378.5,236.2 L379.0,236.4 L379.4,236.4 L379.9,236.2 L380.4,236.1 L380.8,236.2 L381.3,235.9 L381.8,235.9 L382.2,236.1 L382.7,235.8 L383.2,235.8 L383.6,235.8 L384.1,235.8 L384.6,235.8 L385.0,235.8 L385.5,235.6 L386.0,235.6 L386.4,235.5 L386.9,235.6 L387.4,235.4 L387.8,235.3 L388.3,235.5 L388.8,235.3 L389.2,235.0 L389.7,235.3 L390.2,235.3 L390.7,235.2 L391.1,235.2 L391.6,235.0 L392.1,235.1 L392.5,235.1 L393.0,235.2 L393.5,235.0 L393.9,235.0 L394.4,235.1 L394.9,235.0 L395.3,234.8 L395.8,234.9 L396.3,234.9 L396.7,234.7 L397.2,234.9 L397.7,234.7 L398.1,235.0 L398.6,234.7 L399.1,235.1 L399.5,234.8 L400.0,234.8 L400.5,234.8 L400.9,234.6 L401.4,234.6 L401.9,234.6 L402.3,234.5 L402.8,234.6 L403.3,234.6 L403.7,234.6 L404.2,234.4 L404.7,234.5 L405.1,234.7 L405.6,234.7 L406.1,234.7 L406.5,234.7 L407.0,234.4 L407.5,234.5 L407.9,234.4 L408.4,234.6 L408.9,234.6 L409.3,234.3 L409.8,234.7 L410.3,234.6 L410.7,234.7 L411.2,234.5 L411.7,234.1 L412.1,234.5 L412.6,234.3 L413.1,234.2 L413.5,234.5 L414.0,234.5 L414.5,234.4 L414.9,234.3 L415.4,234.6 L415.9,234.5 L416.3,234.2 L416.8,234.5 L417.3,234.3 L417.7,234.2 L418.2,234.4 L418.7,234.4 L419.1,234.4 L419.6,234.4 L420.1,234.4 L420.5,234.5 L421.0,234.4 L421.5,234.4 L421.9,234.3 L422.4,234.5 L422.9,234.7 L423.3,234.4 L423.8,234.8 L424.3,234.9 L424.7,235.1 L425.2,235.2 L425.7,235.4 L426.1,235.5 L426.6,235.6 L427.1,235.8 L427.5,235.8 L428.0,236.0 L428.5,235.7 L428.9,236.2 L429.4,235.9 L429.9,236.2 L430.3,236.2 L430.8,236.2 L431.3,236.7 L431.7,236.4 L432.2,236.6 L432.7,236.8 L433.1,236.9 L433.6,236.9 L434.1,237.2 L434.5,236.8 L435.0,237.1 L435.5,237.1 L435.9,237.2 L436.4,237.4 L436.9,237.4 L437.4,237.5 L437.8,237.3 L438.3,237.6 L438.8,237.5 L439.2,237.6 L439.7,237.6 L440.2,237.7 L440.6,237.7 L441.1,237.9 L441.6,238.0 L442.0,238.0 L442.5,238.0 L443.0,238.0 L443.4,237.9 L443.9,238.0 L444.4,238.1 L444.8,238.3 L445.3,238.2 L445.8,238.2 L446.2,238.2 L446.7,238.3 L447.2,238.4 L447.6,238.4 L448.1,238.5 L448.6,238.6 L449.0,238.5 L449.5,238.5 L450.0,238.4 L450.4,238.6 L450.9,238.7 L451.4,238.5 L451.8,238.5 L452.3,238.8 L452.8,238.8 L453.2,238.6 L453.7,238.7 L454.2,239.0 L454.6,238.6 L455.1,238.8 L455.6,238.8 L456.0,238.7 L456.5,238.9 L457.0,239.0 L457.4,238.8 L457.9,238.8 L458.4,238.9 L458.8,238.8 L459.3,238.9 L459.8,238.8 L460.2,239.1 L460.7,239.0 L461.2,238.9 L461.6,239.1 L462.1,239.2 L462.6,239.0 L463.0,239.1 L463.5,239.2 L464.0,239.3 L464.4,238.9 L464.9,239.1 L465.4,239.0 L465.8,239.3 L466.3,239.1 L466.8,239.2 L467.2,239.2 L467.7,239.4 L468.2,239.0 L468.6,239.2 L469.1,239.2 L469.6,239.3 L470.0,239.0 L470.5,239.4 L471.0,239.0 L471.4,239.3 L471.9,239.3 L472.4,239.3 L472.8,239.1 L473.3,239.4 L473.8,239.4 L474.2,239.4 L474.7,239.2 L475.2,239.2 L475.6,239.4 L476.1,239.3 L476.6,239.1 L477.0,239.2 L477.5,239.3 L478.0,239.5 L478.4,239.1 L478.9,239.3 L479.4,239.5 L479.8,239.4 L480.3,239.7 L480.8,239.3 L481.2,239.5 L481.7,239.4 L482.2,239.2 L482.6,239.6 L483.1,239.3 L483.6,239.4 L484.1,239.5 L484.5,239.2 L485.0,239.3 L485.5,239.5 L485.9,239.3 L486.4,239.5 L486.9,239.5 L487.3,239.5 L487.8,239.3 L488.3,239.6 L488.7,239.6 L489.2,239.3 L489.7,239.6 L490.1,239.5 L490.6,239.5 L491.1,239.6 L491.5,239.5 L492.0,239.5 L492.5,239.5 L492.9,239.4 L493.4,239.4 L493.9,239.3 L494.3,239.4 L494.8,239.5 L495.3,239.4 L495.7,239.4 L496.2,239.3 L496.7,239.5 L497.1,239.5 L497.6,239.5 L498.1,239.6 L498.5,239.4 L499.0,239.5" fill="none" stroke="#50306e" stroke-width="1.3" stroke-linejoin="round" opacity="1" clip-path="url(#c2)"/>
<path d="M356.6,239.6 L357.0,239.4 L357.5,239.5 L358.0,239.4 L358.4,239.4 L358.9,239.3 L359.4,239.5 L359.8,239.5 L360.3,239.5 L360.8,239.5 L361.2,239.4 L361.7,239.5 L362.2,239.4 L362.6,239.5 L363.1,239.4 L363.6,239.6 L364.0,239.4 L364.5,240.4 L365.0,240.5 L365.4,240.4 L365.9,240.7 L366.4,240.5 L366.8,239.3 L367.3,239.2 L367.8,239.1 L368.2,238.9 L368.7,239.0 L369.2,238.9 L369.6,238.9 L370.1,238.7 L370.6,238.8 L371.0,238.4 L371.5,238.7 L372.0,238.5 L372.4,238.4 L372.9,238.2 L373.4,238.5 L373.8,238.4 L374.3,238.3 L374.8,238.1 L375.2,238.1 L375.7,238.5 L376.2,238.1 L376.6,238.0 L377.1,238.0 L377.6,237.9 L378.0,237.9 L378.5,237.9 L379.0,238.1 L379.4,237.7 L379.9,238.1 L380.4,237.8 L380.8,237.8 L381.3,237.6 L381.8,237.8 L382.2,237.5 L382.7,237.5 L383.2,237.5 L383.6,237.4 L384.1,237.4 L384.6,237.5 L385.0,237.4 L385.5,237.4 L386.0,237.3 L386.4,237.4 L386.9,237.7 L387.4,237.4 L387.8,237.3 L388.3,237.4 L388.8,237.4 L389.2,237.2 L389.7,237.3 L390.2,237.1 L390.7,237.0 L391.1,237.2 L391.6,237.1 L392.1,237.3 L392.5,237.3 L393.0,237.2 L393.5,237.2 L393.9,237.1 L394.4,237.1 L394.9,236.9 L395.3,237.1 L395.8,236.9 L396.3,237.1 L396.7,237.0 L397.2,236.9 L397.7,236.9 L398.1,237.3 L398.6,237.0 L399.1,236.9 L399.5,237.1 L400.0,237.0 L400.5,236.9 L400.9,236.8 L401.4,236.7 L401.9,237.0 L402.3,237.0 L402.8,236.7 L403.3,236.7 L403.7,236.6 L404.2,236.8 L404.7,236.7 L405.1,237.1 L405.6,236.7 L406.1,236.9 L406.5,237.0 L407.0,236.9 L407.5,236.6 L407.9,236.6 L408.4,236.8 L408.9,236.8 L409.3,236.6 L409.8,236.8 L410.3,236.7 L410.7,236.6 L411.2,236.6 L411.7,236.7 L412.1,237.0 L412.6,236.7 L413.1,236.6 L413.5,236.7 L414.0,236.8 L414.5,236.8 L414.9,236.6 L415.4,236.6 L415.9,236.6 L416.3,236.7 L416.8,236.5 L417.3,236.6 L417.7,236.7 L418.2,236.8 L418.7,236.7 L419.1,236.6 L419.6,236.4 L420.1,236.6 L420.5,236.7 L421.0,236.5 L421.5,236.5 L421.9,236.7 L422.4,236.6 L422.9,236.9 L423.3,236.8 L423.8,236.6 L424.3,236.8 L424.7,236.9 L425.2,237.0 L425.7,237.1 L426.1,237.4 L426.6,237.3 L427.1,237.4 L427.5,237.3 L428.0,237.4 L428.5,237.3 L428.9,237.6 L429.4,237.8 L429.9,237.6 L430.3,237.7 L430.8,237.8 L431.3,237.8 L431.7,237.8 L432.2,238.0 L432.7,237.9 L433.1,237.9 L433.6,238.0 L434.1,238.0 L434.5,238.2 L435.0,238.1 L435.5,238.2 L435.9,238.3 L436.4,238.3 L436.9,238.4 L437.4,238.4 L437.8,238.5 L438.3,238.2 L438.8,238.3 L439.2,238.4 L439.7,238.5 L440.2,238.6 L440.6,238.5 L441.1,238.6 L441.6,238.6 L442.0,238.7 L442.5,238.5 L443.0,238.6 L443.4,238.6 L443.9,238.6 L444.4,239.0 L444.8,238.8 L445.3,238.7 L445.8,238.8 L446.2,239.0 L446.7,238.8 L447.2,238.8 L447.6,239.0 L448.1,239.1 L448.6,239.0 L449.0,239.3 L449.5,238.9 L450.0,239.1 L450.4,239.0 L450.9,239.0 L451.4,239.0 L451.8,238.9 L452.3,239.2 L452.8,239.1 L453.2,239.3 L453.7,239.2 L454.2,239.3 L454.6,239.0 L455.1,239.1 L455.6,239.2 L456.0,239.0 L456.5,239.3 L457.0,239.2 L457.4,239.3 L457.9,239.3 L458.4,239.2 L458.8,239.3 L459.3,239.2 L459.8,239.4 L460.2,239.4 L460.7,239.1 L461.2,239.2 L461.6,239.3 L462.1,239.2 L462.6,239.4 L463.0,239.2 L463.5,239.5 L464.0,239.2 L464.4,239.2 L464.9,239.3 L465.4,239.2 L465.8,239.3 L466.3,239.1 L466.8,239.2 L467.2,239.5 L467.7,239.5 L468.2,239.1 L468.6,239.4 L469.1,239.3 L469.6,239.4 L470.0,239.2 L470.5,239.2 L471.0,239.3 L471.4,239.4 L471.9,239.4 L472.4,239.2 L472.8,239.4 L473.3,239.6 L473.8,239.2 L474.2,239.3 L474.7,239.5 L475.2,239.4 L475.6,239.3 L476.1,239.4 L476.6,239.2 L477.0,239.2 L477.5,239.5 L478.0,239.4 L478.4,239.3 L478.9,239.3 L479.4,239.5 L479.8,239.3 L480.3,239.5 L480.8,239.3 L481.2,239.6 L481.7,239.4 L482.2,239.2 L482.6,239.2 L483.1,239.5 L483.6,239.8 L484.1,239.4 L484.5,239.3 L485.0,239.4 L485.5,239.4 L485.9,239.6 L486.4,239.5 L486.9,239.6 L487.3,239.6 L487.8,239.5 L488.3,239.3 L488.7,239.4 L489.2,239.6 L489.7,239.5 L490.1,239.6 L490.6,239.5 L491.1,239.4 L491.5,239.6 L492.0,239.4 L492.5,239.5 L492.9,239.3 L493.4,239.6 L493.9,239.4 L494.3,239.6 L494.8,239.4 L495.3,239.7 L495.7,239.5 L496.2,239.6 L496.7,239.7 L497.1,239.5 L497.6,239.5 L498.1,239.6 L498.5,239.6 L499.0,239.6" fill="none" stroke="#553060" stroke-width="1.3" stroke-linejoin="round" opacity="1" clip-path="url(#c2)"/>
<path d="M459.3,238.8 L459.8,238.8 L460.2,238.8 L460.7,238.8 L461.2,238.8 L461.6,238.8 L462.1,238.8 L462.6,238.9 L463.0,238.9 L463.5,238.9 L464.0,238.9 L464.4,238.9 L464.9,238.9 L465.4,238.9 L465.8,238.9 L466.3,238.9 L466.8,238.9 L467.2,238.9 L467.7,238.9 L468.2,238.9 L468.6,238.9 L469.1,238.9 L469.6,239.0 L470.0,239.0 L470.5,239.0 L471.0,239.0 L471.4,239.0 L471.9,239.0 L472.4,239.0 L472.8,239.0 L473.3,239.0 L473.8,239.0 L474.2,239.0 L474.7,239.0 L475.2,239.0 L475.6,239.0 L476.1,239.0 L476.6,239.0 L477.0,239.0 L477.5,239.0 L478.0,239.0 L478.4,239.0 L478.9,239.0 L479.4,239.1 L479.8,239.1 L480.3,239.1 L480.8,239.1 L481.2,239.1 L481.7,239.1 L482.2,239.1 L482.6,239.1 L483.1,239.1 L483.6,239.1 L484.1,239.1 L484.5,239.1 L485.0,239.1 L485.5,239.1 L485.9,239.1 L486.4,239.1 L486.9,239.1 L487.3,239.1 L487.8,239.1 L488.3,239.1 L488.7,239.1 L489.2,239.1 L489.7,239.1 L490.1,239.1 L490.6,239.1 L491.1,239.1 L491.5,239.1 L492.0,239.1 L492.5,239.1 L492.9,239.1 L493.4,239.1 L493.9,239.1 L494.3,239.2 L494.8,239.2 L495.3,239.2 L495.7,239.2 L496.2,239.2 L496.7,239.2 L497.1,239.2 L497.6,239.2 L498.1,239.2 L498.5,239.2 L499.0,239.2" fill="none" stroke="#e07a3a" stroke-width="1.5" stroke-linejoin="round" opacity="0.85" clip-path="url(#c2)"/>
<path d="M311.2,238.8 L311.7,238.8 L312.1,238.9 L312.6,238.9 L313.1,238.9 L313.5,238.9 L314.0,238.9 L314.5,238.9 L314.9,238.9 L315.4,238.9 L315.9,238.9 L316.3,238.9 L316.8,238.9 L317.3,238.9 L317.7,238.9 L318.2,238.9 L318.7,238.9 L319.1,238.9 L319.6,238.9 L320.1,239.0 L320.5,239.0 L321.0,239.0 L321.5,239.0 L321.9,239.0 L322.4,239.0 L322.9,239.0 L323.3,239.0 L323.8,239.0 L324.3,239.0 L324.7,239.0 L325.2,239.0 L325.7,239.0 L326.1,239.0 L326.6,239.0 L327.1,239.0 L327.5,239.0 L328.0,239.0 L328.5,239.0 L328.9,239.0 L329.4,239.0 L329.9,239.0 L330.3,239.0 L330.8,239.0 L331.3,239.1 L331.7,239.1 L332.2,239.1 L332.7,239.1 L333.1,239.1 L333.6,239.1 L334.1,239.1 L334.6,239.1 L335.0,239.1 L335.5,239.1 L336.0,239.1 L336.4,239.1 L336.9,239.1 L337.4,239.1 L337.8,239.1 L338.3,239.1 L338.8,239.1 L339.2,239.1 L339.7,239.1 L340.2,239.1 L340.6,239.1 L341.1,239.1 L341.6,239.1 L342.0,239.1 L342.5,239.1 L343.0,239.1 L343.4,239.1 L343.9,239.1 L344.4,239.1 L344.8,239.1 L345.3,239.1 L345.8,239.1 L346.2,239.1 L346.7,239.1 L347.2,239.1 L347.6,239.1 L348.1,239.1 L348.6,239.1 L349.0,239.1 L349.5,239.1 L350.0,239.1 L350.4,239.2 L350.9,239.2" fill="none" stroke="#e07a3a" stroke-width="1.3" stroke-linejoin="round" opacity="0.8" clip-path="url(#c1)"/>
<text x="1.2" y="282.8" font-size="10.5" fill="#111" font-weight="bold" text-anchor="start" >D</text>
<clipPath id="cd"><rect x="61.3" y="276.8" width="104.8" height="100.89999999999998"/></clipPath>
<rect x="61.3" y="276.8" width="104.80" height="100.90" fill="none" stroke="#7a7a7a" stroke-width="1.1"/>
<line x1="68.70" y1="377.7" x2="68.70" y2="379.2" stroke="#7a7a7a" stroke-width="0.8"/>
<text x="68.70" y="386.50" font-size="6.1" fill="#1e1e1e" font-weight="normal" text-anchor="middle" >0</text>
<line x1="86.00" y1="377.7" x2="86.00" y2="379.2" stroke="#7a7a7a" stroke-width="0.8"/>
<text x="86.00" y="386.50" font-size="6.1" fill="#1e1e1e" font-weight="normal" text-anchor="middle" >50</text>
<line x1="103.30" y1="377.7" x2="103.30" y2="379.2" stroke="#7a7a7a" stroke-width="0.8"/>
<text x="103.30" y="386.50" font-size="6.1" fill="#1e1e1e" font-weight="normal" text-anchor="middle" >100</text>
<line x1="120.60" y1="377.7" x2="120.60" y2="379.2" stroke="#7a7a7a" stroke-width="0.8"/>
<text x="120.60" y="386.50" font-size="6.1" fill="#1e1e1e" font-weight="normal" text-anchor="middle" >150</text>
<line x1="137.90" y1="377.7" x2="137.90" y2="379.2" stroke="#7a7a7a" stroke-width="0.8"/>
<text x="137.90" y="386.50" font-size="6.1" fill="#1e1e1e" font-weight="normal" text-anchor="middle" >200</text>
<line x1="155.20" y1="377.7" x2="155.20" y2="379.2" stroke="#7a7a7a" stroke-width="0.8"/>
<text x="155.20" y="386.50" font-size="6.1" fill="#1e1e1e" font-weight="normal" text-anchor="middle" >250</text>
<line x1="59.8" y1="372.90" x2="61.3" y2="372.90" stroke="#7a7a7a" stroke-width="0.8"/>
<text x="59.00" y="375.10" font-size="6.1" fill="#1e1e1e" font-weight="normal" text-anchor="end" >0</text>
<line x1="59.8" y1="348.95" x2="61.3" y2="348.95" stroke="#7a7a7a" stroke-width="0.8"/>
<text x="59.00" y="351.15" font-size="6.1" fill="#1e1e1e" font-weight="normal" text-anchor="end" >50</text>
<line x1="59.8" y1="325.00" x2="61.3" y2="325.00" stroke="#7a7a7a" stroke-width="0.8"/>
<text x="59.00" y="327.20" font-size="6.1" fill="#1e1e1e" font-weight="normal" text-anchor="end" >100</text>
<line x1="59.8" y1="301.05" x2="61.3" y2="301.05" stroke="#7a7a7a" stroke-width="0.8"/>
<text x="59.00" y="303.25" font-size="6.1" fill="#1e1e1e" font-weight="normal" text-anchor="end" >150</text>
<line x1="59.8" y1="277.10" x2="61.3" y2="277.10" stroke="#7a7a7a" stroke-width="0.8"/>
<text x="59.00" y="279.30" font-size="6.1" fill="#1e1e1e" font-weight="normal" text-anchor="end" >200</text>
<text transform="translate(44.4 331.6) rotate(-90)" font-size="8.6" fill="#222" text-anchor="middle">SPR Response (RU)</text>
<text x="115.8" y="398.2" font-size="8.5" fill="#222" font-weight="normal" text-anchor="middle" >Time (s)</text>
<path d="M61.6,372.9 L62.0,372.9 L62.3,372.9 L62.6,372.9 L63.0,372.9 L63.3,372.9 L63.7,372.9 L64.0,372.9 L64.4,372.9 L64.7,372.9 L65.1,372.9 L65.4,372.9 L65.8,372.9 L66.1,372.9 L66.5,372.9 L66.8,372.9 L67.1,372.9 L67.5,372.9 L67.8,372.9 L68.2,372.9 L68.5,372.9 L68.9,368.5 L69.2,360.5 L69.6,353.6 L69.9,347.7 L70.3,342.5 L70.6,338.0 L70.9,334.0 L71.3,330.4 L71.6,327.3 L72.0,324.5 L72.3,322.0 L72.7,319.7 L73.0,317.6 L73.4,315.8 L73.7,314.1 L74.1,312.5 L74.4,311.1 L74.8,309.8 L75.1,308.6 L75.4,307.4 L75.8,306.4 L76.1,305.4 L76.5,304.5 L76.8,303.6 L77.2,302.8 L77.5,302.1 L77.9,301.4 L78.2,300.7 L78.6,300.1 L78.9,299.5 L79.3,299.0 L79.6,298.4 L79.9,298.0 L80.3,297.5 L80.6,297.0 L81.0,296.6 L81.3,296.2 L81.7,295.8 L82.0,295.5 L82.4,295.1 L82.7,294.8 L83.1,294.5 L83.4,294.2 L83.8,293.9 L84.1,293.6 L84.4,293.4 L84.8,293.1 L85.1,292.9 L85.5,292.7 L85.8,292.5 L86.2,292.2 L86.5,292.0 L86.9,291.9 L87.2,291.7 L87.6,291.5 L87.9,291.3 L88.2,291.2 L88.6,291.0 L88.9,290.9 L89.3,290.7 L89.6,290.6 L90.0,290.5 L90.3,290.3 L90.7,290.2 L91.0,290.1 L91.4,290.0 L91.7,289.9 L92.1,289.8 L92.4,289.7 L92.7,289.6 L93.1,289.5 L93.4,289.4 L93.8,289.3 L94.1,289.2 L94.5,289.1 L94.8,289.0 L95.2,288.9 L95.5,288.9 L95.9,288.8 L96.2,288.7 L96.6,288.7 L96.9,288.6 L97.2,288.5 L97.6,288.5 L97.9,288.4 L98.3,288.3 L98.6,288.3 L99.0,288.2 L99.3,288.2 L99.7,288.1 L100.0,288.1 L100.4,288.0 L100.7,288.0 L101.1,287.9 L101.4,287.9 L101.7,287.8 L102.1,287.8 L102.4,287.8 L102.8,287.7 L103.1,287.7 L103.5,287.6 L103.8,287.6 L104.2,287.6 L104.5,287.5 L104.9,287.5 L105.2,287.5 L105.5,287.4 L105.9,287.4 L106.2,287.4 L106.6,287.3 L106.9,287.3 L107.3,287.3 L107.6,287.3 L108.0,287.2 L108.3,287.2 L108.7,287.2 L109.0,287.2 L109.4,287.1 L109.7,287.1 L110.0,287.2 L110.4,288.1 L110.7,289.4 L111.1,291.0 L111.4,292.6 L111.8,294.2 L112.1,295.9 L112.5,297.5 L112.8,299.1 L113.2,300.7 L113.5,302.2 L113.9,303.7 L114.2,305.2 L114.5,306.6 L114.9,308.0 L115.2,309.4 L115.6,310.7 L115.9,312.1 L116.3,313.4 L116.6,314.6 L117.0,315.9 L117.3,317.1 L117.7,318.3 L118.0,319.4 L118.4,320.6 L118.7,321.7 L119.0,322.8 L119.4,323.8 L119.7,324.9 L120.1,325.9 L120.4,326.9 L120.8,327.9 L121.1,328.8 L121.5,329.8 L121.8,330.7 L122.2,331.6 L122.5,332.5 L122.8,333.3 L123.2,334.2 L123.5,335.0 L123.9,335.8 L124.2,336.6 L124.6,337.4 L124.9,338.1 L125.3,338.9 L125.6,339.6 L126.0,340.3 L126.3,341.0 L126.7,341.7 L127.0,342.3 L127.3,343.0 L127.7,343.6 L128.0,344.2 L128.4,344.8 L128.7,345.4 L129.1,346.0 L129.4,346.6 L129.8,347.2 L130.1,347.7 L130.5,348.2 L130.8,348.8 L131.2,349.3 L131.5,349.8 L131.8,350.3 L132.2,350.8 L132.5,351.2 L132.9,351.7 L133.2,352.1 L133.6,352.6 L133.9,353.0 L134.3,353.4 L134.6,353.8 L135.0,354.3 L135.3,354.7 L135.7,355.0 L136.0,355.4 L136.3,355.8 L136.7,356.2 L137.0,356.5 L137.4,356.9 L137.7,357.2 L138.1,357.6 L138.4,357.9 L138.8,358.3 L139.1,358.7 L139.5,359.0 L139.8,359.4 L140.1,359.7 L140.5,360.0 L140.8,360.4 L141.2,360.7 L141.5,361.0 L141.9,361.3 L142.2,361.6 L142.6,361.8 L142.9,362.1 L143.3,362.4 L143.6,362.6 L144.0,362.9 L144.3,363.2 L144.6,363.4 L145.0,363.6 L145.3,363.9 L145.7,364.1 L146.0,364.3 L146.4,364.5 L146.7,364.7 L147.1,364.9 L147.4,365.1 L147.8,365.3 L148.1,365.5 L148.5,365.7 L148.8,365.9 L149.1,366.1 L149.5,366.2 L149.8,366.4 L150.2,366.6 L150.5,366.7 L150.9,366.9 L151.2,367.0 L151.6,367.2 L151.9,367.3 L152.3,367.5 L152.6,367.6 L153.0,367.8 L153.3,367.9 L153.6,368.0 L154.0,368.1 L154.3,368.3 L154.7,368.4 L155.0,368.5 L155.4,368.6 L155.7,368.7 L156.1,368.8 L156.4,368.9 L156.8,369.0 L157.1,369.1 L157.4,369.2 L157.8,369.3 L158.1,369.4 L158.5,369.5 L158.8,369.6 L159.2,369.7 L159.5,369.8 L159.9,369.8 L160.2,369.9 L160.6,370.0 L160.9,370.1 L161.3,370.1 L161.6,370.2 L161.9,370.3 L162.3,370.3 L162.6,370.4" fill="none" stroke="#2426c0" stroke-width="1.9" stroke-linejoin="round" opacity="1" clip-path="url(#cd)"/>
<path d="M61.6,373.1 L62.0,373.0 L62.3,373.2 L62.6,373.0 L63.0,373.1 L63.3,373.0 L63.7,373.0 L64.0,373.0 L64.4,373.2 L64.7,373.3 L65.1,372.9 L65.4,373.2 L65.8,373.0 L66.1,373.1 L66.5,372.9 L66.8,373.1 L67.1,373.2 L67.5,373.4 L67.8,373.0 L68.2,373.1 L68.5,373.2 L68.9,373.2 L69.2,372.9 L69.6,373.1 L69.9,373.0 L70.3,373.2 L70.6,373.1 L70.9,373.0 L71.3,373.2 L71.6,372.9 L72.0,373.2 L72.3,372.9 L72.7,373.2 L73.0,373.2 L73.4,373.1 L73.7,373.2 L74.1,373.1 L74.4,373.1 L74.8,372.9 L75.1,373.2 L75.4,373.0 L75.8,373.0 L76.1,373.1 L76.5,373.1 L76.8,372.9 L77.2,373.5 L77.5,373.2 L77.9,373.1 L78.2,373.0 L78.6,373.1 L78.9,373.0 L79.3,373.0 L79.6,373.0 L79.9,373.2 L80.3,373.1 L80.6,372.9 L81.0,373.2 L81.3,373.1 L81.7,373.3 L82.0,373.1 L82.4,373.2 L82.7,373.0 L83.1,373.3 L83.4,373.1 L83.8,373.3 L84.1,373.1 L84.4,373.1 L84.8,372.8 L85.1,373.1 L85.5,373.1 L85.8,372.9 L86.2,373.0 L86.5,373.3 L86.9,373.0 L87.2,373.1 L87.6,373.0 L87.9,373.1 L88.2,373.4 L88.6,373.2 L88.9,372.9 L89.3,373.0 L89.6,373.3 L90.0,373.2 L90.3,373.2 L90.7,373.3 L91.0,373.6 L91.4,373.1 L91.7,373.3 L92.1,373.2 L92.4,373.3 L92.7,373.2 L93.1,373.2 L93.4,372.9 L93.8,373.2 L94.1,373.1 L94.5,373.2 L94.8,373.0 L95.2,373.1 L95.5,373.4 L95.9,372.9 L96.2,372.9 L96.6,373.0 L96.9,373.4 L97.2,373.0 L97.6,373.1 L97.9,373.3 L98.3,373.2 L98.6,373.0 L99.0,373.2 L99.3,373.2 L99.7,373.3 L100.0,373.1 L100.4,373.3 L100.7,373.1 L101.1,373.2 L101.4,372.9 L101.7,373.2 L102.1,373.1 L102.4,373.0 L102.8,373.0 L103.1,373.4 L103.5,373.1 L103.8,373.1 L104.2,373.0 L104.5,373.2 L104.9,372.9 L105.2,372.9 L105.5,373.2 L105.9,373.3 L106.2,373.1 L106.6,373.0 L106.9,373.0 L107.3,373.3 L107.6,373.2 L108.0,373.3 L108.3,373.1 L108.7,372.7 L109.0,372.5 L109.4,372.6 L109.7,372.6 L110.0,372.5 L110.4,372.1 L110.7,372.2 L111.1,372.3 L111.4,372.5 L111.8,372.6 L112.1,372.6 L112.5,372.4 L112.8,372.8 L113.2,372.9 L113.5,372.9 L113.9,373.1 L114.2,372.9 L114.5,373.2 L114.9,373.1 L115.2,373.2 L115.6,373.0 L115.9,373.1 L116.3,373.2 L116.6,373.2 L117.0,373.1 L117.3,372.9 L117.7,373.1 L118.0,373.1 L118.4,373.3 L118.7,373.4 L119.0,373.4 L119.4,373.2 L119.7,373.1 L120.1,373.1 L120.4,373.0 L120.8,373.3 L121.1,373.2 L121.5,373.2 L121.8,373.3 L122.2,373.5 L122.5,373.3 L122.8,373.0 L123.2,373.4 L123.5,373.0 L123.9,373.0 L124.2,373.2 L124.6,373.1 L124.9,373.2 L125.3,373.1 L125.6,372.9 L126.0,373.0 L126.3,373.0 L126.7,373.1 L127.0,373.2 L127.3,373.1 L127.7,373.3 L128.0,373.3 L128.4,373.1 L128.7,373.4 L129.1,373.1 L129.4,373.2 L129.8,373.2 L130.1,373.2 L130.5,373.2 L130.8,372.8 L131.2,373.4 L131.5,373.3 L131.8,373.4 L132.2,373.1 L132.5,373.0 L132.9,372.9 L133.2,373.3 L133.6,373.1 L133.9,373.3 L134.3,373.2 L134.6,373.1 L135.0,373.4 L135.3,373.2 L135.7,373.2 L136.0,373.1 L136.3,373.0 L136.7,373.4 L137.0,373.2 L137.4,373.4 L137.7,373.5 L138.1,373.3 L138.4,373.2 L138.8,373.3 L139.1,373.3 L139.5,373.0 L139.8,373.1 L140.1,373.0 L140.5,372.9 L140.8,373.1 L141.2,372.8 L141.5,373.1 L141.9,373.1 L142.2,373.3 L142.6,373.2 L142.9,373.1 L143.3,373.1 L143.6,373.1 L144.0,373.1 L144.3,373.3 L144.6,373.3 L145.0,373.2 L145.3,373.2 L145.7,373.3 L146.0,373.2 L146.4,373.3 L146.7,373.0 L147.1,373.3 L147.4,373.1 L147.8,373.4 L148.1,373.2 L148.5,373.0 L148.8,373.1 L149.1,373.1 L149.5,373.1 L149.8,373.2 L150.2,373.1 L150.5,373.1 L150.9,373.1 L151.2,373.2 L151.6,373.2 L151.9,373.5 L152.3,373.1 L152.6,373.3 L153.0,373.3 L153.3,373.0 L153.6,373.1 L154.0,373.1 L154.3,373.3 L154.7,373.1 L155.0,373.2 L155.4,373.1 L155.7,373.2 L156.1,372.9 L156.4,373.3 L156.8,373.1 L157.1,373.1 L157.4,373.0 L157.8,373.1 L158.1,373.2 L158.5,373.1 L158.8,372.9 L159.2,373.0 L159.5,373.2 L159.9,373.1 L160.2,373.2 L160.6,373.0 L160.9,373.2 L161.3,373.0 L161.6,372.9 L161.9,373.2 L162.3,372.8 L162.6,373.2" fill="none" stroke="#c42a2e" stroke-width="1.6" stroke-linejoin="round" opacity="1" clip-path="url(#cd)"/>
<text x="125" y="291.5" font-size="9.8" fill="#2020a8" font-weight="bold" text-anchor="start" >Mg</text>
<text x="138.5" y="288.0" font-size="6.4" fill="#2020a8" font-weight="bold" text-anchor="start" >2+</text>
<text x="125.3" y="303.4" font-size="9.4" fill="#b5222a" font-weight="bold" text-anchor="start" >EDTA</text>
<text x="195.8" y="283.2" font-size="10.5" fill="#111" font-weight="bold" text-anchor="start" >E</text>
<clipPath id="ce"><rect x="228.4" y="278.1" width="103.9" height="100.29999999999995"/></clipPath>
<rect x="228.4" y="278.1" width="103.90" height="100.30" fill="none" stroke="#7a7a7a" stroke-width="1.1"/>
<line x1="237.30" y1="378.4" x2="237.30" y2="379.9" stroke="#7a7a7a" stroke-width="0.8"/>
<text x="237.30" y="387.20" font-size="6.1" fill="#1e1e1e" font-weight="normal" text-anchor="middle" >0</text>
<line x1="250.00" y1="378.4" x2="250.00" y2="379.9" stroke="#7a7a7a" stroke-width="0.8"/>
<text x="250.00" y="387.20" font-size="6.1" fill="#1e1e1e" font-weight="normal" text-anchor="middle" >20</text>
<line x1="262.70" y1="378.4" x2="262.70" y2="379.9" stroke="#7a7a7a" stroke-width="0.8"/>
<text x="262.70" y="387.20" font-size="6.1" fill="#1e1e1e" font-weight="normal" text-anchor="middle" >40</text>
<line x1="275.40" y1="378.4" x2="275.40" y2="379.9" stroke="#7a7a7a" stroke-width="0.8"/>
<text x="275.40" y="387.20" font-size="6.1" fill="#1e1e1e" font-weight="normal" text-anchor="middle" >60</text>
<line x1="288.10" y1="378.4" x2="288.10" y2="379.9" stroke="#7a7a7a" stroke-width="0.8"/>
<text x="288.10" y="387.20" font-size="6.1" fill="#1e1e1e" font-weight="normal" text-anchor="middle" >80</text>
<line x1="300.80" y1="378.4" x2="300.80" y2="379.9" stroke="#7a7a7a" stroke-width="0.8"/>
<text x="300.80" y="387.20" font-size="6.1" fill="#1e1e1e" font-weight="normal" text-anchor="middle" >100</text>
<line x1="313.50" y1="378.4" x2="313.50" y2="379.9" stroke="#7a7a7a" stroke-width="0.8"/>
<text x="313.50" y="387.20" font-size="6.1" fill="#1e1e1e" font-weight="normal" text-anchor="middle" >120</text>
<line x1="326.20" y1="378.4" x2="326.20" y2="379.9" stroke="#7a7a7a" stroke-width="0.8"/>
<text x="326.20" y="387.20" font-size="6.1" fill="#1e1e1e" font-weight="normal" text-anchor="middle" >140</text>
<line x1="226.9" y1="373.60" x2="228.4" y2="373.60" stroke="#7a7a7a" stroke-width="0.8"/>
<text x="226.10" y="375.80" font-size="6.1" fill="#1e1e1e" font-weight="normal" text-anchor="end" >0</text>
<line x1="226.9" y1="353.80" x2="228.4" y2="353.80" stroke="#7a7a7a" stroke-width="0.8"/>
<text x="226.10" y="356.00" font-size="6.1" fill="#1e1e1e" font-weight="normal" text-anchor="end" >50</text>
<line x1="226.9" y1="334.00" x2="228.4" y2="334.00" stroke="#7a7a7a" stroke-width="0.8"/>
<text x="226.10" y="336.20" font-size="6.1" fill="#1e1e1e" font-weight="normal" text-anchor="end" >100</text>
<line x1="226.9" y1="314.20" x2="228.4" y2="314.20" stroke="#7a7a7a" stroke-width="0.8"/>
<text x="226.10" y="316.40" font-size="6.1" fill="#1e1e1e" font-weight="normal" text-anchor="end" >150</text>
<line x1="226.9" y1="294.40" x2="228.4" y2="294.40" stroke="#7a7a7a" stroke-width="0.8"/>
<text x="226.10" y="296.60" font-size="6.1" fill="#1e1e1e" font-weight="normal" text-anchor="end" >200</text>
<text transform="translate(210.6 331.9) rotate(-90)" font-size="8.6" fill="#222" text-anchor="middle">SPR Response (RU)</text>
<text x="284.5" y="398.2" font-size="8.5" fill="#222" font-weight="normal" text-anchor="middle" >Time (s)</text>
<path d="M227.8,373.6 L228.1,373.6 L228.4,373.6 L228.7,373.6 L229.0,373.6 L229.4,373.6 L229.7,373.6 L230.0,373.6 L230.3,373.6 L230.6,373.6 L231.0,373.6 L231.3,373.6 L231.6,373.6 L231.9,373.6 L232.2,373.6 L232.5,373.6 L232.9,373.6 L233.2,373.6 L233.5,373.6 L233.8,373.6 L234.1,373.6 L234.4,373.6 L234.8,373.6 L235.1,373.6 L235.4,373.6 L235.7,373.6 L236.0,373.6 L236.3,373.6 L236.7,373.6 L237.0,373.6 L237.3,373.6 L237.6,367.6 L237.9,362.1 L238.3,357.1 L238.6,352.5 L238.9,348.3 L239.2,344.4 L239.5,340.8 L239.8,337.5 L240.2,334.5 L240.5,331.7 L240.8,329.2 L241.1,326.8 L241.4,324.7 L241.7,322.7 L242.1,320.8 L242.4,319.1 L242.7,317.6 L243.0,316.1 L243.3,314.8 L243.7,313.6 L244.0,312.4 L244.3,311.4 L244.6,310.4 L244.9,309.5 L245.2,308.6 L245.6,307.8 L245.9,307.1 L246.2,306.4 L246.5,305.8 L246.8,305.2 L247.1,304.7 L247.5,304.1 L247.8,303.7 L248.1,303.2 L248.4,302.8 L248.7,302.4 L249.0,302.0 L249.4,301.6 L249.7,301.3 L250.0,301.0 L250.3,300.7 L250.6,300.4 L251.0,300.2 L251.3,299.9 L251.6,299.7 L251.9,299.4 L252.2,299.2 L252.5,299.0 L252.9,298.8 L253.2,298.6 L253.5,298.4 L253.8,298.3 L254.1,298.1 L254.4,297.9 L254.8,297.8 L255.1,297.6 L255.4,297.5 L255.7,297.3 L256.0,297.2 L256.4,297.1 L256.7,296.9 L257.0,296.8 L257.3,296.7 L257.6,296.6 L257.9,296.5 L258.3,296.4 L258.6,296.3 L258.9,296.2 L259.2,296.1 L259.5,296.0 L259.8,295.9 L260.2,295.8 L260.5,295.7 L260.8,295.6 L261.1,295.5 L261.4,295.4 L261.7,295.3 L262.1,295.3 L262.4,295.2 L262.7,295.1 L263.0,295.0 L263.3,295.0 L263.7,294.9 L264.0,294.8 L264.3,294.8 L264.6,294.7 L264.9,294.6 L265.2,294.6 L265.6,294.5 L265.9,294.4 L266.2,294.4 L266.5,294.3 L266.8,294.3 L267.1,294.2 L267.5,294.1 L267.8,294.1 L268.1,294.0 L268.4,294.0 L268.7,293.9 L269.1,293.9 L269.4,293.8 L269.7,293.8 L270.0,293.7 L270.3,293.7 L270.6,293.6 L271.0,293.6 L271.3,293.5 L271.6,293.5 L271.9,293.4 L272.2,293.4 L272.5,293.4 L272.9,293.3 L273.2,293.3 L273.5,293.2 L273.8,293.2 L274.1,293.2 L274.4,293.1 L274.8,293.1 L275.1,293.0 L275.4,293.0 L275.7,295.3 L276.0,297.6 L276.4,299.7 L276.7,301.8 L277.0,303.8 L277.3,305.8 L277.6,307.7 L277.9,309.5 L278.3,311.3 L278.6,313.0 L278.9,314.7 L279.2,316.3 L279.5,317.8 L279.8,319.4 L280.2,320.8 L280.5,322.2 L280.8,323.6 L281.1,324.9 L281.4,326.2 L281.8,327.4 L282.1,328.6 L282.4,329.8 L282.7,330.9 L283.0,332.0 L283.3,333.1 L283.7,334.1 L284.0,335.1 L284.3,336.0 L284.6,337.0 L284.9,337.9 L285.2,338.7 L285.6,339.6 L285.9,340.4 L286.2,341.2 L286.5,342.0 L286.8,342.7 L287.1,343.4 L287.5,344.1 L287.8,344.8 L288.1,345.5 L288.4,346.1 L288.7,346.7 L289.1,347.3 L289.4,347.9 L289.7,348.5 L290.0,349.0 L290.3,349.6 L290.6,350.1 L291.0,350.6 L291.3,351.1 L291.6,351.6 L291.9,352.0 L292.2,352.5 L292.5,352.9 L292.9,353.3 L293.2,353.7 L293.5,354.1 L293.8,354.5 L294.1,354.9 L294.4,355.3 L294.8,355.6 L295.1,356.0 L295.4,356.3 L295.7,356.6 L296.0,356.9 L296.4,357.2 L296.7,357.5 L297.0,357.8 L297.3,358.1 L297.6,358.4 L297.9,358.7 L298.3,358.9 L298.6,359.2 L298.9,359.4 L299.2,359.7 L299.5,359.9 L299.8,360.1 L300.2,360.4 L300.5,360.6 L300.8,360.8 L301.1,361.0 L301.4,361.2 L301.8,361.4 L302.1,361.6 L302.4,361.8 L302.7,362.0 L303.0,362.1 L303.3,362.3 L303.7,362.5 L304.0,362.7 L304.3,362.8 L304.6,363.0 L304.9,363.1 L305.2,363.3 L305.6,363.4 L305.9,363.6 L306.2,363.7 L306.5,363.9 L306.8,364.0 L307.1,364.1 L307.5,364.3 L307.8,364.4 L308.1,364.5 L308.4,364.6 L308.7,364.7 L309.1,364.9 L309.4,365.0 L309.7,365.1 L310.0,365.2 L310.3,365.3 L310.6,365.4 L311.0,365.5 L311.3,365.6 L311.6,365.7 L311.9,365.8 L312.2,365.9 L312.5,366.0 L312.9,366.1 L313.2,366.2 L313.5,366.3 L313.8,366.4 L314.1,366.4 L314.5,366.5 L314.8,366.6 L315.1,366.7 L315.4,366.8 L315.7,366.8 L316.0,366.9 L316.4,367.0 L316.7,367.1 L317.0,367.1 L317.3,367.2 L317.6,367.3 L317.9,367.3 L318.3,367.4 L318.6,367.5 L318.9,367.5 L319.2,367.6 L319.5,367.7 L319.9,367.7 L320.2,367.8 L320.5,367.9 L320.8,367.9 L321.1,368.0 L321.4,368.0 L321.8,368.1 L322.1,368.2 L322.4,368.2 L322.7,368.3 L323.0,368.3 L323.3,368.4 L323.7,368.4 L324.0,368.5 L324.3,368.5 L324.6,368.6 L324.9,368.6 L325.2,368.7 L325.6,368.7 L325.9,368.8 L326.2,368.8 L326.5,368.9 L326.8,368.9 L327.2,369.0 L327.5,369.0 L327.8,369.0 L328.1,369.1 L328.4,369.1 L328.7,369.2 L329.1,369.2 L329.4,369.3 L329.7,369.3 L330.0,369.3 L330.3,369.4 L330.6,369.4 L331.0,369.5 L331.3,369.5 L331.6,369.5 L331.9,369.6 L332.2,369.6 L332.6,369.6 L332.9,369.7 L333.2,369.7 L333.5,369.8 L333.8,369.8 L334.1,369.8" fill="none" stroke="#2426c0" stroke-width="1.9" stroke-linejoin="round" opacity="1" clip-path="url(#ce)"/>
<path d="M227.8,373.9 L228.1,373.8 L228.4,374.0 L228.7,373.9 L229.0,374.1 L229.4,374.0 L229.7,373.9 L230.0,374.1 L230.3,373.9 L230.6,373.8 L231.0,374.0 L231.3,373.9 L231.6,373.9 L231.9,374.0 L232.2,373.9 L232.5,373.9 L232.9,374.0 L233.2,373.9 L233.5,374.1 L233.8,374.3 L234.1,373.9 L234.4,373.9 L234.8,373.7 L235.1,374.0 L235.4,373.9 L235.7,374.1 L236.0,374.1 L236.3,374.0 L236.7,373.9 L237.0,374.0 L237.3,373.8 L237.6,373.8 L237.9,374.1 L238.3,374.0 L238.6,373.8 L238.9,373.8 L239.2,374.1 L239.5,374.1 L239.8,373.7 L240.2,374.1 L240.5,373.8 L240.8,374.2 L241.1,374.0 L241.4,374.1 L241.7,373.9 L242.1,373.8 L242.4,373.9 L242.7,373.9 L243.0,373.9 L243.3,373.8 L243.7,374.0 L244.0,374.2 L244.3,374.2 L244.6,373.9 L244.9,373.9 L245.2,373.9 L245.6,374.1 L245.9,374.1 L246.2,374.2 L246.5,374.2 L246.8,374.0 L247.1,374.1 L247.5,374.2 L247.8,373.9 L248.1,374.0 L248.4,374.0 L248.7,374.0 L249.0,374.1 L249.4,374.2 L249.7,374.0 L250.0,374.1 L250.3,374.2 L250.6,373.9 L251.0,374.1 L251.3,374.0 L251.6,374.3 L251.9,373.9 L252.2,374.2 L252.5,374.2 L252.9,374.1 L253.2,374.2 L253.5,374.2 L253.8,374.0 L254.1,373.9 L254.4,374.1 L254.8,374.1 L255.1,374.1 L255.4,374.1 L255.7,374.2 L256.0,373.9 L256.4,374.3 L256.7,374.2 L257.0,373.9 L257.3,374.1 L257.6,374.2 L257.9,374.1 L258.3,373.8 L258.6,374.1 L258.9,374.2 L259.2,374.1 L259.5,374.1 L259.8,374.2 L260.2,374.1 L260.5,374.4 L260.8,374.1 L261.1,374.1 L261.4,374.1 L261.7,374.2 L262.1,374.0 L262.4,374.0 L262.7,374.0 L263.0,374.2 L263.3,374.0 L263.7,373.9 L264.0,374.0 L264.3,374.2 L264.6,374.1 L264.9,374.2 L265.2,374.2 L265.6,374.1 L265.9,373.9 L266.2,374.0 L266.5,374.2 L266.8,374.0 L267.1,374.2 L267.5,374.3 L267.8,374.4 L268.1,374.3 L268.4,373.9 L268.7,374.1 L269.1,374.1 L269.4,374.0 L269.7,374.4 L270.0,374.2 L270.3,374.2 L270.6,374.0 L271.0,374.1 L271.3,374.4 L271.6,374.4 L271.9,374.2 L272.2,374.2 L272.5,374.4 L272.9,374.4 L273.2,374.2 L273.5,374.4 L273.8,374.2 L274.1,374.2 L274.4,374.2 L274.8,374.0 L275.1,374.3 L275.4,374.3 L275.7,374.3 L276.0,374.5 L276.4,374.1 L276.7,374.1 L277.0,374.2 L277.3,374.2 L277.6,374.2 L277.9,374.4 L278.3,374.3 L278.6,374.2 L278.9,374.1 L279.2,374.2 L279.5,374.1 L279.8,374.2 L280.2,374.5 L280.5,374.3 L280.8,374.2 L281.1,374.3 L281.4,374.3 L281.8,374.2 L282.1,374.4 L282.4,374.2 L282.7,374.1 L283.0,374.3 L283.3,374.4 L283.7,374.3 L284.0,374.3 L284.3,374.4 L284.6,374.2 L284.9,374.3 L285.2,374.5 L285.6,374.1 L285.9,374.4 L286.2,374.3 L286.5,374.2 L286.8,374.3 L287.1,374.4 L287.5,374.6 L287.8,374.4 L288.1,374.3 L288.4,374.4 L288.7,374.3 L289.1,374.1 L289.4,374.4 L289.7,373.8 L290.0,374.3 L290.3,374.5 L290.6,374.3 L291.0,374.3 L291.3,374.2 L291.6,374.5 L291.9,374.2 L292.2,374.5 L292.5,374.3 L292.9,374.1 L293.2,374.3 L293.5,374.2 L293.8,374.4 L294.1,374.2 L294.4,374.4 L294.8,374.4 L295.1,374.3 L295.4,374.5 L295.7,374.5 L296.0,374.4 L296.4,374.1 L296.7,374.3 L297.0,374.5 L297.3,374.5 L297.6,374.4 L297.9,374.5 L298.3,374.3 L298.6,374.5 L298.9,374.5 L299.2,374.3 L299.5,374.6 L299.8,374.1 L300.2,374.5 L300.5,374.6 L300.8,374.3 L301.1,374.2 L301.4,374.2 L301.8,374.3 L302.1,374.5 L302.4,374.4 L302.7,374.4 L303.0,374.3 L303.3,374.3 L303.7,374.3 L304.0,374.3 L304.3,374.7 L304.6,374.5 L304.9,374.3 L305.2,374.5 L305.6,374.4 L305.9,374.5 L306.2,374.4 L306.5,374.5 L306.8,374.7 L307.1,374.4 L307.5,374.4 L307.8,374.5 L308.1,374.7 L308.4,374.5 L308.7,374.6 L309.1,374.3 L309.4,374.5 L309.7,374.6 L310.0,374.5 L310.3,374.2 L310.6,374.5 L311.0,374.5 L311.3,374.5 L311.6,374.6 L311.9,374.3 L312.2,374.6 L312.5,374.4 L312.9,374.3 L313.2,374.3 L313.5,374.5 L313.8,374.5 L314.1,374.5 L314.5,374.4 L314.8,374.4 L315.1,374.5 L315.4,374.4 L315.7,374.5 L316.0,374.6 L316.4,374.3 L316.7,374.4 L317.0,374.4 L317.3,374.3 L317.6,374.6 L317.9,374.6 L318.3,374.5 L318.6,374.4 L318.9,374.7 L319.2,374.6 L319.5,374.4 L319.9,374.7 L320.2,374.4 L320.5,374.3 L320.8,374.4 L321.1,374.6 L321.4,374.6 L321.8,374.6 L322.1,374.5 L322.4,374.4 L322.7,374.4 L323.0,374.8 L323.3,374.6 L323.7,374.5 L324.0,374.6 L324.3,374.8 L324.6,374.5 L324.9,374.5 L325.2,374.5 L325.6,374.5 L325.9,374.4 L326.2,374.7 L326.5,374.6 L326.8,374.5 L327.2,374.1 L327.5,374.6 L327.8,374.4 L328.1,374.3 L328.4,374.5 L328.7,374.4 L329.1,374.4 L329.4,374.8 L329.7,374.5 L330.0,374.6 L330.3,374.4 L330.6,374.5 L331.0,374.5 L331.3,374.5 L331.6,374.7 L331.9,374.5 L332.2,374.8 L332.6,374.6 L332.9,374.6 L333.2,374.5 L333.5,374.6 L333.8,374.7 L334.1,374.5" fill="none" stroke="#cf6a30" stroke-width="2.0" stroke-linejoin="round" opacity="1" clip-path="url(#ce)"/>
<text x="280.6" y="290.6" font-size="9.8" fill="#2020a8" font-weight="bold" text-anchor="start" >no mAb</text>
<text x="278.7" y="300.1" font-size="9.8" fill="#b5222a" font-weight="bold" text-anchor="start" >anti-CR3</text>
<text x="359.8" y="283.2" font-size="10.5" fill="#111" font-weight="bold" text-anchor="start" >F</text>
<clipPath id="cf"><rect x="389.3" y="278.5" width="107.09999999999997" height="100.30000000000001"/></clipPath>
<rect x="389.3" y="278.5" width="107.10" height="100.30" fill="none" stroke="#7a7a7a" stroke-width="1.1"/>
<line x1="398.90" y1="378.8" x2="398.90" y2="380.3" stroke="#7a7a7a" stroke-width="0.8"/>
<text x="398.90" y="387.60" font-size="6.1" fill="#1e1e1e" font-weight="normal" text-anchor="middle" >0</text>
<line x1="412.06" y1="378.8" x2="412.06" y2="380.3" stroke="#7a7a7a" stroke-width="0.8"/>
<text x="412.06" y="387.60" font-size="6.1" fill="#1e1e1e" font-weight="normal" text-anchor="middle" >20</text>
<line x1="425.22" y1="378.8" x2="425.22" y2="380.3" stroke="#7a7a7a" stroke-width="0.8"/>
<text x="425.22" y="387.60" font-size="6.1" fill="#1e1e1e" font-weight="normal" text-anchor="middle" >40</text>
<line x1="438.38" y1="378.8" x2="438.38" y2="380.3" stroke="#7a7a7a" stroke-width="0.8"/>
<text x="438.38" y="387.60" font-size="6.1" fill="#1e1e1e" font-weight="normal" text-anchor="middle" >60</text>
<line x1="451.54" y1="378.8" x2="451.54" y2="380.3" stroke="#7a7a7a" stroke-width="0.8"/>
<text x="451.54" y="387.60" font-size="6.1" fill="#1e1e1e" font-weight="normal" text-anchor="middle" >80</text>
<line x1="464.70" y1="378.8" x2="464.70" y2="380.3" stroke="#7a7a7a" stroke-width="0.8"/>
<text x="464.70" y="387.60" font-size="6.1" fill="#1e1e1e" font-weight="normal" text-anchor="middle" >100</text>
<line x1="477.86" y1="378.8" x2="477.86" y2="380.3" stroke="#7a7a7a" stroke-width="0.8"/>
<text x="477.86" y="387.60" font-size="6.1" fill="#1e1e1e" font-weight="normal" text-anchor="middle" >120</text>
<line x1="491.02" y1="378.8" x2="491.02" y2="380.3" stroke="#7a7a7a" stroke-width="0.8"/>
<text x="491.02" y="387.60" font-size="6.1" fill="#1e1e1e" font-weight="normal" text-anchor="middle" >140</text>
<line x1="387.8" y1="369.50" x2="389.3" y2="369.50" stroke="#7a7a7a" stroke-width="0.8"/>
<text x="387.00" y="371.70" font-size="6.1" fill="#1e1e1e" font-weight="normal" text-anchor="end" >0</text>
<line x1="387.8" y1="351.40" x2="389.3" y2="351.40" stroke="#7a7a7a" stroke-width="0.8"/>
<text x="387.00" y="353.60" font-size="6.1" fill="#1e1e1e" font-weight="normal" text-anchor="end" >10</text>
<line x1="387.8" y1="333.30" x2="389.3" y2="333.30" stroke="#7a7a7a" stroke-width="0.8"/>
<text x="387.00" y="335.50" font-size="6.1" fill="#1e1e1e" font-weight="normal" text-anchor="end" >20</text>
<line x1="387.8" y1="315.20" x2="389.3" y2="315.20" stroke="#7a7a7a" stroke-width="0.8"/>
<text x="387.00" y="317.40" font-size="6.1" fill="#1e1e1e" font-weight="normal" text-anchor="end" >30</text>
<line x1="387.8" y1="297.10" x2="389.3" y2="297.10" stroke="#7a7a7a" stroke-width="0.8"/>
<text x="387.00" y="299.30" font-size="6.1" fill="#1e1e1e" font-weight="normal" text-anchor="end" >40</text>
<line x1="387.8" y1="279.00" x2="389.3" y2="279.00" stroke="#7a7a7a" stroke-width="0.8"/>
<text x="387.00" y="281.20" font-size="6.1" fill="#1e1e1e" font-weight="normal" text-anchor="end" >50</text>
<text transform="translate(373.4 331.5) rotate(-90)" font-size="8.6" fill="#222" text-anchor="middle">SPR Response (RU)</text>
<text x="444.2" y="398.2" font-size="8.5" fill="#222" font-weight="normal" text-anchor="middle" >Time (s)</text>
<path d="M387.7,371.2 L388.0,371.9 L388.4,371.8 L388.7,371.8 L389.0,371.2 L389.4,371.0 L389.7,371.4 L390.0,370.7 L390.3,370.6 L390.7,370.6 L391.0,370.3 L391.3,370.6 L391.7,370.4 L392.0,369.5 L392.3,369.9 L392.6,369.3 L393.0,369.7 L393.3,370.0 L393.6,369.0 L394.0,369.3 L394.3,368.9 L394.6,368.1 L395.0,368.7 L395.3,368.0 L395.6,367.3 L395.9,367.3 L396.3,368.6 L396.6,368.6 L396.9,369.2 L397.3,368.8 L397.6,369.7 L397.9,369.3 L398.2,370.4 L398.6,369.5 L398.9,369.0 L399.2,368.8 L399.6,368.6 L399.9,368.3 L400.2,368.1 L400.5,366.5 L400.9,365.6 L401.2,364.7 L401.5,364.2 L401.9,363.0 L402.2,361.7 L402.5,360.0 L402.8,358.9 L403.2,358.7 L403.5,358.9 L403.8,358.6 L404.2,357.4 L404.5,356.7 L404.8,355.8 L405.2,356.3 L405.5,355.4 L405.8,355.7 L406.1,355.1 L406.5,355.2 L406.8,355.0 L407.1,354.7 L407.5,354.4 L407.8,354.4 L408.1,354.1 L408.4,353.6 L408.8,354.0 L409.1,353.6 L409.4,353.6 L409.8,353.4 L410.1,352.8 L410.4,353.4 L410.7,352.5 L411.1,353.6 L411.4,353.2 L411.7,352.6 L412.1,353.6 L412.4,352.9 L412.7,352.7 L413.0,353.3 L413.4,352.3 L413.7,352.1 L414.0,352.7 L414.4,352.7 L414.7,352.4 L415.0,352.4 L415.3,352.8 L415.7,352.8 L416.0,352.1 L416.3,352.7 L416.7,352.9 L417.0,353.2 L417.3,353.9 L417.7,353.0 L418.0,353.0 L418.3,353.1 L418.6,353.2 L419.0,352.9 L419.3,353.1 L419.6,353.2 L420.0,353.4 L420.3,353.5 L420.6,353.4 L420.9,353.6 L421.3,353.0 L421.6,353.3 L421.9,353.4 L422.3,352.8 L422.6,353.2 L422.9,353.9 L423.2,353.8 L423.6,353.6 L423.9,353.7 L424.2,353.1 L424.6,353.3 L424.9,353.3 L425.2,353.3 L425.5,353.4 L425.9,354.3 L426.2,354.2 L426.5,354.1 L426.9,353.6 L427.2,353.7 L427.5,353.2 L427.9,353.4 L428.2,353.5 L428.5,354.1 L428.8,354.0 L429.2,353.6 L429.5,354.3 L429.8,354.2 L430.2,353.3 L430.5,353.2 L430.8,354.5 L431.1,354.0 L431.5,354.3 L431.8,354.6 L432.1,354.3 L432.5,353.9 L432.8,353.9 L433.1,354.1 L433.4,353.8 L433.8,354.5 L434.1,354.4 L434.4,353.9 L434.8,354.2 L435.1,354.7 L435.4,355.0 L435.7,354.7 L436.1,354.7 L436.4,354.7 L436.7,355.2 L437.1,355.4 L437.4,355.9 L437.7,356.0 L438.1,356.4 L438.4,356.9 L438.7,356.9 L439.0,357.6 L439.4,358.0 L439.7,358.0 L440.0,358.5 L440.4,358.4 L440.7,359.1 L441.0,360.4 L441.3,361.0 L441.7,361.8 L442.0,362.5 L442.3,362.0 L442.7,362.8 L443.0,363.7 L443.3,363.4 L443.6,364.2 L444.0,364.6 L444.3,365.3 L444.6,366.3 L445.0,365.7 L445.3,366.5 L445.6,367.1 L445.9,366.8 L446.3,367.1 L446.6,368.0 L446.9,368.0 L447.3,368.2 L447.6,368.7 L447.9,369.2 L448.2,368.8 L448.6,369.6 L448.9,369.3 L449.2,369.8 L449.6,370.1 L449.9,369.7 L450.2,370.5 L450.6,370.3 L450.9,370.5 L451.2,370.4 L451.5,371.0 L451.9,371.5 L452.2,371.6 L452.5,371.7 L452.9,371.5 L453.2,371.2 L453.5,371.3 L453.8,371.4 L454.2,371.3 L454.5,371.5 L454.8,371.3 L455.2,371.2 L455.5,370.4 L455.8,371.1 L456.1,370.9 L456.5,370.8 L456.8,370.9 L457.1,370.6 L457.5,371.5 L457.8,370.6 L458.1,372.0 L458.4,371.6 L458.8,371.3 L459.1,371.5 L459.4,371.5 L459.8,372.3 L460.1,371.5 L460.4,371.7 L460.8,371.4 L461.1,372.0 L461.4,372.0 L461.7,372.6 L462.1,372.0 L462.4,372.6 L462.7,372.1 L463.1,371.7 L463.4,372.7 L463.7,372.3 L464.0,372.6 L464.4,372.7 L464.7,373.2 L465.0,372.8 L465.4,372.5 L465.7,372.2 L466.0,372.2 L466.3,372.8 L466.7,372.5 L467.0,372.8 L467.3,373.1 L467.7,373.0 L468.0,372.6 L468.3,372.7 L468.6,373.5 L469.0,372.8 L469.3,373.1 L469.6,372.8 L470.0,373.0 L470.3,373.5 L470.6,373.6 L471.0,373.2 L471.3,373.2 L471.6,373.2 L471.9,373.6 L472.3,372.8 L472.6,374.1 L472.9,372.9 L473.3,373.4 L473.6,373.6 L473.9,372.9 L474.2,373.5 L474.6,373.5 L474.9,373.7 L475.2,373.4 L475.6,373.4 L475.9,373.1 L476.2,373.2 L476.5,373.6 L476.9,373.9 L477.2,373.8 L477.5,374.0 L477.9,373.9 L478.2,373.9 L478.5,373.7 L478.8,373.8 L479.2,374.1 L479.5,373.8 L479.8,374.6 L480.2,373.9 L480.5,374.7 L480.8,374.1 L481.1,373.8 L481.5,373.9 L481.8,374.4 L482.1,374.1 L482.5,374.1 L482.8,374.3 L483.1,374.1 L483.5,374.4 L483.8,374.5 L484.1,374.5 L484.4,374.1 L484.8,374.6 L485.1,374.8 L485.4,374.0 L485.8,374.6 L486.1,374.8 L486.4,374.1 L486.7,374.6 L487.1,374.6 L487.4,374.7 L487.7,374.2 L488.1,374.2 L488.4,374.1 L488.7,374.7 L489.0,373.7 L489.4,374.7 L489.7,374.9 L490.0,374.7 L490.4,375.2 L490.7,374.8 L491.0,374.7 L491.3,374.6 L491.7,374.2 L492.0,374.5 L492.3,374.8 L492.7,374.7 L493.0,375.1 L493.3,374.2 L493.7,374.7 L494.0,374.6 L494.3,374.9 L494.6,375.1 L495.0,375.1 L495.3,375.1 L495.6,375.0 L496.0,374.6 L496.3,375.1 L496.6,374.7 L496.9,374.6 L497.3,374.8 L497.6,374.7" fill="none" stroke="#c42a2e" stroke-width="1.6" stroke-linejoin="round" opacity="1" clip-path="url(#cf)"/>
<path d="M387.7,371.1 L388.0,371.9 L388.4,370.9 L388.7,371.5 L389.0,371.2 L389.4,371.1 L389.7,371.3 L390.0,370.2 L390.3,370.4 L390.7,370.3 L391.0,370.9 L391.3,370.0 L391.7,370.4 L392.0,369.5 L392.3,370.4 L392.6,369.4 L393.0,370.0 L393.3,369.8 L393.6,369.1 L394.0,368.6 L394.3,368.3 L394.6,368.5 L395.0,368.4 L395.3,367.6 L395.6,368.1 L395.9,368.4 L396.3,368.1 L396.6,368.5 L396.9,368.9 L397.3,368.8 L397.6,370.0 L397.9,369.6 L398.2,369.3 L398.6,369.9 L398.9,369.9 L399.2,368.8 L399.6,368.8 L399.9,368.4 L400.2,367.8 L400.5,367.4 L400.9,364.6 L401.2,359.3 L401.5,352.4 L401.9,348.7 L402.2,344.1 L402.5,340.1 L402.8,336.2 L403.2,332.4 L403.5,329.6 L403.8,326.3 L404.2,324.2 L404.5,321.7 L404.8,320.4 L405.2,318.6 L405.5,316.7 L405.8,316.2 L406.1,314.3 L406.5,313.1 L406.8,312.6 L407.1,311.4 L407.5,310.3 L407.8,309.1 L408.1,308.2 L408.4,307.8 L408.8,307.0 L409.1,305.7 L409.4,306.0 L409.8,305.2 L410.1,304.9 L410.4,304.5 L410.7,303.4 L411.1,303.5 L411.4,302.7 L411.7,301.8 L412.1,301.5 L412.4,302.2 L412.7,301.8 L413.0,301.5 L413.4,301.4 L413.7,300.2 L414.0,300.1 L414.4,300.0 L414.7,300.2 L415.0,299.4 L415.3,299.3 L415.7,299.1 L416.0,298.7 L416.3,298.1 L416.7,298.4 L417.0,298.4 L417.3,298.5 L417.7,297.5 L418.0,297.7 L418.3,298.5 L418.6,297.5 L419.0,297.1 L419.3,297.7 L419.6,297.6 L420.0,296.6 L420.3,296.9 L420.6,297.1 L420.9,296.5 L421.3,296.2 L421.6,296.5 L421.9,296.3 L422.3,295.9 L422.6,295.9 L422.9,295.2 L423.2,295.3 L423.6,295.5 L423.9,295.8 L424.2,295.7 L424.6,296.2 L424.9,295.4 L425.2,295.4 L425.5,295.4 L425.9,294.9 L426.2,294.7 L426.5,295.6 L426.9,294.8 L427.2,294.8 L427.5,295.1 L427.9,295.2 L428.2,294.4 L428.5,294.7 L428.8,294.2 L429.2,295.2 L429.5,295.3 L429.8,295.0 L430.2,294.6 L430.5,294.5 L430.8,294.3 L431.1,295.2 L431.5,295.5 L431.8,294.7 L432.1,294.7 L432.5,294.8 L432.8,294.6 L433.1,295.3 L433.4,295.6 L433.8,294.4 L434.1,295.0 L434.4,295.2 L434.8,295.1 L435.1,294.8 L435.4,295.7 L435.7,295.4 L436.1,295.6 L436.4,294.6 L436.7,294.7 L437.1,294.0 L437.4,294.6 L437.7,294.6 L438.1,295.0 L438.4,295.4 L438.7,295.9 L439.0,296.3 L439.4,297.1 L439.7,299.1 L440.0,300.6 L440.4,302.0 L440.7,304.4 L441.0,306.3 L441.3,307.9 L441.7,309.3 L442.0,310.4 L442.3,313.0 L442.7,313.9 L443.0,316.2 L443.3,318.1 L443.6,319.9 L444.0,321.2 L444.3,323.5 L444.6,324.7 L445.0,326.1 L445.3,328.8 L445.6,330.6 L445.9,332.4 L446.3,333.3 L446.6,335.4 L446.9,336.7 L447.3,338.1 L447.6,338.7 L447.9,340.3 L448.2,341.7 L448.6,343.8 L448.9,344.4 L449.2,345.0 L449.6,345.9 L449.9,346.7 L450.2,347.1 L450.6,348.3 L450.9,348.7 L451.2,349.5 L451.5,350.0 L451.9,350.5 L452.2,350.9 L452.5,351.9 L452.9,352.0 L453.2,352.0 L453.5,352.4 L453.8,352.5 L454.2,353.3 L454.5,353.1 L454.8,353.1 L455.2,353.0 L455.5,353.5 L455.8,353.5 L456.1,353.4 L456.5,353.0 L456.8,353.0 L457.1,353.3 L457.5,354.3 L457.8,354.5 L458.1,355.6 L458.4,356.5 L458.8,357.1 L459.1,356.9 L459.4,357.9 L459.8,358.5 L460.1,358.1 L460.4,359.9 L460.8,360.1 L461.1,360.8 L461.4,360.7 L461.7,360.6 L462.1,361.1 L462.4,360.5 L462.7,361.7 L463.1,361.8 L463.4,362.3 L463.7,362.0 L464.0,362.5 L464.4,362.5 L464.7,362.9 L465.0,362.6 L465.4,363.1 L465.7,362.9 L466.0,363.1 L466.3,363.4 L466.7,363.2 L467.0,363.3 L467.3,363.3 L467.7,364.2 L468.0,363.1 L468.3,363.7 L468.6,363.7 L469.0,363.8 L469.3,364.5 L469.6,363.9 L470.0,364.1 L470.3,364.5 L470.6,364.2 L471.0,364.6 L471.3,365.0 L471.6,364.4 L471.9,364.5 L472.3,364.6 L472.6,364.8 L472.9,364.3 L473.3,365.1 L473.6,364.9 L473.9,365.0 L474.2,365.1 L474.6,364.9 L474.9,365.4 L475.2,365.0 L475.6,365.1 L475.9,365.4 L476.2,365.5 L476.5,365.8 L476.9,365.4 L477.2,364.9 L477.5,365.7 L477.9,365.9 L478.2,365.9 L478.5,365.6 L478.8,365.6 L479.2,365.7 L479.5,365.9 L479.8,366.3 L480.2,365.7 L480.5,366.2 L480.8,366.0 L481.1,366.2 L481.5,366.2 L481.8,366.0 L482.1,366.3 L482.5,365.7 L482.8,366.0 L483.1,366.2 L483.5,366.7 L483.8,366.4 L484.1,366.6 L484.4,366.5 L484.8,366.8 L485.1,367.2 L485.4,367.3 L485.8,367.0 L486.1,366.8 L486.4,367.1 L486.7,367.3 L487.1,367.3 L487.4,367.0 L487.7,367.5 L488.1,367.5 L488.4,367.4 L488.7,367.3 L489.0,367.9 L489.4,367.7 L489.7,367.6 L490.0,367.8 L490.4,367.6 L490.7,367.5 L491.0,368.1 L491.3,367.1 L491.7,367.8 L492.0,367.5 L492.3,367.8 L492.7,368.7 L493.0,368.5 L493.3,368.1 L493.7,368.1 L494.0,368.1 L494.3,369.0 L494.6,368.6 L495.0,368.2 L495.3,368.0 L495.6,368.3 L496.0,369.0 L496.3,368.8 L496.6,368.7 L496.9,368.8 L497.3,368.4 L497.6,368.4" fill="none" stroke="#2426c0" stroke-width="1.8" stroke-linejoin="round" opacity="1" clip-path="url(#cf)"/>
<text x="447.6" y="292.1" font-size="10" fill="#2020a8" font-weight="bold" text-anchor="start" >no mAb</text>
<text x="447.3" y="301.2" font-size="10" fill="#b5222a" font-weight="bold" text-anchor="start" >anti-C3d</text>
</svg></body></html>
